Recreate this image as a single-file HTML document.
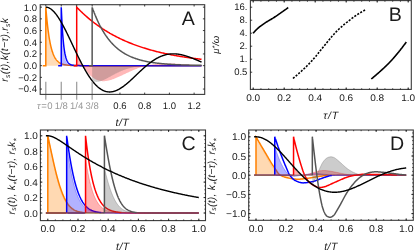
<!DOCTYPE html>
<html><head><meta charset="utf-8"><title>Figure</title>
<style>
html,body{margin:0;padding:0;background:#fff;}
body{width:415px;height:252px;overflow:hidden;}
svg{display:block;will-change:transform;font-family:"Liberation Sans",sans-serif;}
text{text-rendering:geometricPrecision;}
</style></head><body>
<svg width="415" height="252" viewBox="0 0 415 252">
<rect width="415" height="252" fill="#fff"/>
<defs><clipPath id="clipA"><rect x="40.2" y="4.7" width="164.5" height="89.7"/></clipPath><clipPath id="clipC"><rect x="40.4" y="130" width="165.1" height="90.6"/></clipPath><clipPath id="clipD"><rect x="248.7" y="130" width="164.6" height="90.3"/></clipPath></defs>
<g clip-path="url(#clipA)">
<path d="M45.8 65.65 L45.8 7.15 L45.8 7.16 L45.8 7.19 L45.81 7.26 L45.82 7.36 L45.83 7.49 L45.84 7.65 L45.86 7.85 L45.87 8.09 L45.9 8.37 L45.92 8.68 L45.95 9.03 L45.98 9.42 L46.02 9.85 L46.05 10.31 L46.1 10.81 L46.14 11.35 L46.19 11.93 L46.24 12.54 L46.3 13.19 L46.36 13.87 L46.42 14.58 L46.49 15.32 L46.56 16.1 L46.63 16.9 L46.71 17.74 L46.79 18.6 L46.88 19.48 L46.97 20.39 L47.06 21.32 L47.16 22.27 L47.26 23.23 L47.36 24.22 L47.47 25.22 L47.59 26.23 L47.71 27.25 L47.83 28.28 L47.95 29.32 L48.08 30.36 L48.22 31.41 L48.36 32.46 L48.5 33.51 L48.65 34.56 L48.8 35.6 L48.95 36.64 L49.11 37.67 L49.28 38.69 L49.45 39.71 L49.62 40.71 L49.8 41.7 L49.98 42.67 L50.16 43.63 L50.35 44.57 L50.55 45.49 L50.75 46.4 L50.95 47.28 L51.16 48.15 L51.37 48.99 L51.59 49.81 L51.81 50.61 L52.04 51.39 L52.27 52.14 L52.5 52.86 L52.75 53.57 L52.99 54.24 L53.24 54.9 L53.49 55.53 L53.75 56.13 L54.02 56.71 L54.28 57.27 L54.56 57.8 L54.83 58.3 L55.12 58.79 L55.4 59.25 L55.7 59.68 L55.99 60.1 L56.29 60.49 L56.6 60.87 L56.91 61.22 L57.23 61.55 L57.55 61.86 L57.87 62.16 L58.2 62.43 L58.54 62.69 L58.88 62.93 L59.22 63.16 L59.57 63.37 L59.93 63.57 L60.29 63.75 L60.65 63.92 L61.02 64.08 L61.4 64.22 L61.78 64.36 L62.16 64.48 L62.55 64.59 L62.94 64.7 L63.34 64.79 L63.75 64.88 L64.16 64.96 L64.57 65.03 L64.99 65.1 L65.42 65.16 L65.85 65.21 L66.28 65.26 L66.72 65.31 L67.17 65.35 L67.62 65.38 L68.07 65.42 L68.53 65.45 L69 65.47 L69.47 65.49 L69.95 65.52 L70.43 65.53 L70.91 65.55 L71.4 65.56 L71.9 65.58 L72.4 65.59 L72.91 65.6 L73.42 65.6 L73.94 65.61 L74.46 65.62 L74.99 65.62 L75.52 65.63 L76.06 65.63 L76.61 65.64 L77.16 65.64 L77.71 65.64 L78.27 65.64 L78.84 65.64 L79.41 65.65 L79.98 65.65 L80.56 65.65 L81.15 65.65 L81.74 65.65 L82.34 65.65 L82.94 65.65 L83.55 65.65 L84.16 65.65 L84.78 65.65 L85.41 65.65 L86.04 65.65 L86.67 65.65 L87.31 65.65 L87.96 65.65 L88.61 65.65 L89.26 65.65 L89.93 65.65 L90.59 65.65 L91.27 65.65 L91.95 65.65 L92.63 65.65 L93.32 65.65 L94.02 65.65 L94.72 65.65 L95.42 65.65 L96.13 65.65 L96.85 65.65 L97.57 65.65 L98.3 65.65 L99.04 65.65 L99.78 65.65 L100.52 65.65 L101.27 65.65 L102.03 65.65 L102.79 65.65 L103.56 65.65 L104.33 65.65 L105.11 65.65 L105.89 65.65 L106.68 65.65 L107.48 65.65 L108.28 65.65 L109.08 65.65 L109.9 65.65 L110.71 65.65 L111.54 65.65 L112.37 65.65 L113.2 65.65 L114.04 65.65 L114.89 65.65 L115.74 65.65 L116.6 65.65 L117.46 65.65 L118.33 65.65 L119.21 65.65 L120.09 65.65 L120.97 65.65 L121.86 65.65 L122.76 65.65 L123.67 65.65 L124.57 65.65 L125.49 65.65 L126.41 65.65 L127.34 65.65 L128.27 65.65 L129.21 65.65 L130.15 65.65 L131.1 65.65 L132.06 65.65 L133.02 65.65 L133.99 65.65 L134.96 65.65 L135.94 65.65 L136.92 65.65 L137.91 65.65 L138.91 65.65 L139.91 65.65 L140.92 65.65 L141.93 65.65 L142.95 65.65 L143.98 65.65 L145.01 65.65 L146.05 65.65 L147.09 65.65 L148.14 65.65 L149.19 65.65 L150.25 65.65 L151.32 65.65 L152.39 65.65 L153.47 65.65 L154.56 65.65 L155.65 65.65 L156.74 65.65 L157.85 65.65 L158.96 65.65 L160.07 65.65 L161.19 65.65 L162.32 65.65 L163.45 65.65 L164.59 65.65 L165.73 65.65 L166.88 65.65 L168.04 65.65 L169.2 65.65 L170.37 65.65 L171.54 65.65 L172.72 65.65 L173.91 65.65 L175.1 65.65 L176.3 65.65 L177.5 65.65 L178.71 65.65 L179.93 65.65 L181.15 65.65 L182.38 65.65 L183.61 65.65 L184.86 65.65 L186.1 65.65 L187.35 65.65 L188.61 65.65 L189.88 65.65 L191.15 65.65 L192.43 65.65 L193.71 65.65 L195 65.65 L196.29 65.65 L197.59 65.65 L198.9 65.65 L200.22 65.65 L201.54 65.65 L201.54 65.65Z" fill="#ff8000" fill-opacity="0.28" stroke="none"/>
<path d="M42.71 65.65 L45.8 65.65 L45.8 7.15 L45.8 7.16 L45.8 7.19 L45.81 7.26 L45.82 7.36 L45.83 7.49 L45.84 7.65 L45.86 7.85 L45.87 8.09 L45.9 8.36 L45.92 8.68 L45.95 9.03 L45.98 9.42 L46.02 9.84 L46.05 10.31 L46.1 10.81 L46.14 11.34 L46.19 11.92 L46.24 12.53 L46.3 13.17 L46.36 13.85 L46.42 14.55 L46.49 15.29 L46.56 16.06 L46.63 16.86 L46.71 17.69 L46.79 18.54 L46.88 19.41 L46.97 20.31 L47.06 21.23 L47.16 22.16 L47.26 23.12 L47.36 24.09 L47.47 25.07 L47.59 26.07 L47.71 27.07 L47.83 28.08 L47.95 29.1 L48.08 30.13 L48.22 31.16 L48.36 32.18 L48.5 33.21 L48.65 34.24 L48.8 35.26 L48.95 36.27 L49.11 37.28 L49.28 38.28 L49.45 39.27 L49.62 40.24 L49.8 41.21 L49.98 42.16 L50.16 43.1 L50.35 44.01 L50.55 44.92 L50.75 45.8 L50.95 46.66 L51.16 47.51 L51.37 48.33 L51.59 49.14 L51.81 49.92 L52.04 50.68 L52.27 51.41 L52.5 52.13 L52.75 52.82 L52.99 53.49 L53.24 54.13 L53.49 54.75 L53.75 55.35 L54.02 55.93 L54.28 56.48 L54.56 57.01 L54.83 57.52 L55.12 58.01 L55.4 58.47 L55.7 58.91 L55.99 59.34 L56.29 59.74 L56.6 60.12 L56.91 60.48 L57.23 60.83 L57.55 61.16 L57.87 61.46 L58.2 61.76 L58.54 62.03 L58.88 62.29 L59.22 62.53 L59.57 62.76 L59.93 62.98 L60.29 63.18 L60.65 63.37 L61.02 63.55 L61.4 63.71 L61.78 63.87 L62.16 64.01 L62.55 64.14 L62.94 64.27 L63.34 64.38 L63.75 64.49 L64.16 64.59 L64.57 64.68 L64.99 64.77 L65.42 64.84 L65.85 64.92 L66.28 64.98 L66.72 65.04 L67.17 65.1 L67.62 65.15 L68.07 65.2 L68.53 65.24 L69 65.28 L69.47 65.32 L69.95 65.35 L70.43 65.38 L70.91 65.41 L71.4 65.43 L71.9 65.45 L72.4 65.47 L72.91 65.49 L73.42 65.51 L73.94 65.52 L74.46 65.54 L74.99 65.55 L75.52 65.56 L76.06 65.57 L76.61 65.58 L77.16 65.59 L77.71 65.6 L78.27 65.6 L78.84 65.61 L79.41 65.61 L79.98 65.62 L80.56 65.62 L81.15 65.62 L81.74 65.63 L82.34 65.63 L82.94 65.63 L83.55 65.63 L84.16 65.64 L84.78 65.64 L85.41 65.64 L86.04 65.64 L86.67 65.64 L87.31 65.64 L87.96 65.64 L88.61 65.64 L89.26 65.65 L89.93 65.65 L90.59 65.65 L91.27 65.65 L91.95 65.65 L92.63 65.65 L93.32 65.65 L94.02 65.65 L94.72 65.65 L95.42 65.65 L96.13 65.65 L96.85 65.65 L97.57 65.65 L98.3 65.65 L99.04 65.65 L99.78 65.65 L100.52 65.65 L101.27 65.65 L102.03 65.65 L102.79 65.65 L103.56 65.65 L104.33 65.65 L105.11 65.65 L105.89 65.65 L106.68 65.65 L107.48 65.65 L108.28 65.65 L109.08 65.65 L109.9 65.65 L110.71 65.65 L111.54 65.65 L112.37 65.65 L113.2 65.65 L114.04 65.65 L114.89 65.65 L115.74 65.65 L116.6 65.65 L117.46 65.65 L118.33 65.65 L119.21 65.65 L120.09 65.65 L120.97 65.65 L121.86 65.65 L122.76 65.65 L123.67 65.65 L124.57 65.65 L125.49 65.65 L126.41 65.65 L127.34 65.65 L128.27 65.65 L129.21 65.65 L130.15 65.65 L131.1 65.65 L132.06 65.65 L133.02 65.65 L133.99 65.65 L134.96 65.65 L135.94 65.65 L136.92 65.65 L137.91 65.65 L138.91 65.65 L139.91 65.65 L140.92 65.65 L141.93 65.65 L142.95 65.65 L143.98 65.65 L145.01 65.65 L146.05 65.65 L147.09 65.65 L148.14 65.65 L149.19 65.65 L150.25 65.65 L151.32 65.65 L152.39 65.65 L153.47 65.65 L154.56 65.65 L155.65 65.65 L156.74 65.65 L157.85 65.65 L158.96 65.65 L160.07 65.65 L161.19 65.65 L162.32 65.65 L163.45 65.65 L164.59 65.65 L165.73 65.65 L166.88 65.65 L168.04 65.65 L169.2 65.65 L170.37 65.65 L171.54 65.65 L172.72 65.65 L173.91 65.65 L175.1 65.65 L176.3 65.65 L177.5 65.65 L178.71 65.65 L179.93 65.65 L181.15 65.65 L182.38 65.65 L183.61 65.65 L184.86 65.65 L186.1 65.65 L187.35 65.65 L188.61 65.65 L189.88 65.65 L191.15 65.65 L192.43 65.65 L193.71 65.65 L195 65.65 L196.29 65.65 L197.59 65.65 L198.9 65.65 L200.22 65.65 L201.54 65.65" fill="none" stroke="#ff8000" stroke-width="1.5" stroke-linejoin="miter"/>
<path d="M61.25 65.65 L61.25 22.3 L61.25 22.31 L61.25 22.36 L61.26 22.45 L61.26 22.59 L61.27 22.78 L61.29 23.01 L61.3 23.3 L61.32 23.63 L61.34 24.02 L61.36 24.46 L61.38 24.95 L61.41 25.49 L61.44 26.07 L61.48 26.71 L61.52 27.39 L61.56 28.11 L61.6 28.88 L61.65 29.68 L61.7 30.52 L61.75 31.39 L61.81 32.3 L61.87 33.23 L61.93 34.18 L62 35.16 L62.07 36.15 L62.14 37.16 L62.22 38.18 L62.3 39.21 L62.39 40.25 L62.47 41.28 L62.56 42.31 L62.66 43.34 L62.76 44.36 L62.86 45.37 L62.97 46.36 L63.08 47.34 L63.19 48.31 L63.31 49.25 L63.43 50.17 L63.55 51.06 L63.68 51.93 L63.81 52.77 L63.95 53.58 L64.09 54.36 L64.23 55.12 L64.38 55.84 L64.53 56.53 L64.69 57.19 L64.85 57.81 L65.01 58.41 L65.18 58.97 L65.35 59.5 L65.53 60 L65.71 60.47 L65.89 60.92 L66.08 61.33 L66.27 61.71 L66.47 62.07 L66.67 62.41 L66.87 62.72 L67.08 63 L67.29 63.26 L67.51 63.51 L67.73 63.73 L67.95 63.93 L68.18 64.12 L68.41 64.28 L68.65 64.44 L68.89 64.57 L69.14 64.7 L69.39 64.81 L69.64 64.91 L69.9 65 L70.16 65.09 L70.43 65.16 L70.7 65.22 L70.98 65.28 L71.26 65.33 L71.54 65.37 L71.83 65.41 L72.12 65.45 L72.42 65.48 L72.72 65.5 L73.03 65.52 L73.34 65.54 L73.66 65.56 L73.98 65.57 L74.3 65.59 L74.63 65.6 L74.96 65.61 L75.3 65.61 L75.64 65.62 L75.99 65.63 L76.34 65.63 L76.69 65.63 L77.05 65.64 L77.42 65.64 L77.79 65.64 L78.16 65.64 L78.54 65.65 L78.92 65.65 L79.31 65.65 L79.7 65.65 L80.1 65.65 L80.5 65.65 L80.9 65.65 L81.31 65.65 L81.73 65.65 L82.15 65.65 L82.57 65.65 L83 65.65 L83.43 65.65 L83.87 65.65 L84.31 65.65 L84.76 65.65 L85.21 65.65 L85.67 65.65 L86.13 65.65 L86.6 65.65 L87.07 65.65 L87.55 65.65 L88.03 65.65 L88.51 65.65 L89 65.65 L89.5 65.65 L90 65.65 L90.5 65.65 L91.01 65.65 L91.52 65.65 L92.04 65.65 L92.56 65.65 L93.09 65.65 L93.63 65.65 L94.16 65.65 L94.71 65.65 L95.25 65.65 L95.81 65.65 L96.36 65.65 L96.93 65.65 L97.49 65.65 L98.07 65.65 L98.64 65.65 L99.22 65.65 L99.81 65.65 L100.4 65.65 L101 65.65 L101.6 65.65 L102.21 65.65 L102.82 65.65 L103.43 65.65 L104.06 65.65 L104.68 65.65 L105.31 65.65 L105.95 65.65 L106.59 65.65 L107.24 65.65 L107.89 65.65 L108.54 65.65 L109.2 65.65 L109.87 65.65 L110.54 65.65 L111.22 65.65 L111.9 65.65 L112.58 65.65 L113.28 65.65 L113.97 65.65 L114.67 65.65 L115.38 65.65 L116.09 65.65 L116.81 65.65 L117.53 65.65 L118.26 65.65 L118.99 65.65 L119.72 65.65 L120.47 65.65 L121.21 65.65 L121.97 65.65 L122.72 65.65 L123.48 65.65 L124.25 65.65 L125.02 65.65 L125.8 65.65 L126.59 65.65 L127.37 65.65 L128.17 65.65 L128.96 65.65 L129.77 65.65 L130.58 65.65 L131.39 65.65 L132.21 65.65 L133.03 65.65 L133.86 65.65 L134.7 65.65 L135.54 65.65 L136.38 65.65 L137.23 65.65 L138.09 65.65 L138.95 65.65 L139.82 65.65 L140.69 65.65 L141.56 65.65 L142.44 65.65 L143.33 65.65 L144.22 65.65 L145.12 65.65 L146.02 65.65 L146.93 65.65 L147.85 65.65 L148.76 65.65 L149.69 65.65 L150.62 65.65 L151.55 65.65 L152.49 65.65 L153.44 65.65 L154.39 65.65 L155.34 65.65 L156.3 65.65 L157.27 65.65 L158.24 65.65 L159.22 65.65 L160.2 65.65 L161.19 65.65 L162.18 65.65 L163.18 65.65 L164.18 65.65 L165.19 65.65 L166.21 65.65 L167.23 65.65 L168.25 65.65 L169.28 65.65 L170.32 65.65 L171.36 65.65 L172.41 65.65 L173.46 65.65 L174.52 65.65 L175.58 65.65 L176.65 65.65 L177.72 65.65 L178.8 65.65 L179.89 65.65 L180.98 65.65 L182.07 65.65 L183.17 65.65 L184.28 65.65 L185.39 65.65 L186.51 65.65 L187.63 65.65 L188.76 65.65 L189.9 65.65 L191.03 65.65 L192.18 65.65 L193.33 65.65 L194.49 65.65 L195.65 65.65 L196.81 65.65 L197.99 65.65 L199.16 65.65 L200.35 65.65 L201.54 65.65 L201.54 65.65Z" fill="#0000ff" fill-opacity="0.28" stroke="none"/>
<path d="M58.16 65.65 L61.25 65.65 L61.25 7.15 L61.25 7.17 L61.25 7.23 L61.26 7.34 L61.26 7.51 L61.27 7.74 L61.29 8.03 L61.3 8.39 L61.32 8.8 L61.34 9.28 L61.36 9.82 L61.38 10.43 L61.41 11.1 L61.44 11.83 L61.48 12.61 L61.52 13.46 L61.56 14.36 L61.6 15.31 L61.65 16.32 L61.7 17.37 L61.75 18.46 L61.81 19.6 L61.87 20.77 L61.93 21.98 L62 23.21 L62.07 24.47 L62.14 25.76 L62.22 27.06 L62.3 28.37 L62.39 29.69 L62.47 31.02 L62.56 32.36 L62.66 33.69 L62.76 35.01 L62.86 36.33 L62.97 37.63 L63.08 38.92 L63.19 40.19 L63.31 41.44 L63.43 42.66 L63.55 43.86 L63.68 45.03 L63.81 46.17 L63.95 47.27 L64.09 48.34 L64.23 49.38 L64.38 50.38 L64.53 51.34 L64.69 52.26 L64.85 53.15 L65.01 54 L65.18 54.8 L65.35 55.57 L65.53 56.3 L65.71 57 L65.89 57.65 L66.08 58.27 L66.27 58.85 L66.47 59.4 L66.67 59.91 L66.87 60.39 L67.08 60.84 L67.29 61.26 L67.51 61.65 L67.73 62.01 L67.95 62.34 L68.18 62.65 L68.41 62.94 L68.65 63.2 L68.89 63.44 L69.14 63.66 L69.39 63.87 L69.64 64.05 L69.9 64.22 L70.16 64.37 L70.43 64.51 L70.7 64.63 L70.98 64.75 L71.26 64.85 L71.54 64.94 L71.83 65.02 L72.12 65.1 L72.42 65.16 L72.72 65.22 L73.03 65.28 L73.34 65.32 L73.66 65.36 L73.98 65.4 L74.3 65.43 L74.63 65.46 L74.96 65.49 L75.3 65.51 L75.64 65.53 L75.99 65.54 L76.34 65.56 L76.69 65.57 L77.05 65.58 L77.42 65.59 L77.79 65.6 L78.16 65.61 L78.54 65.61 L78.92 65.62 L79.31 65.62 L79.7 65.63 L80.1 65.63 L80.5 65.63 L80.9 65.64 L81.31 65.64 L81.73 65.64 L82.15 65.64 L82.57 65.64 L83 65.64 L83.43 65.65 L83.87 65.65 L84.31 65.65 L84.76 65.65 L85.21 65.65 L85.67 65.65 L86.13 65.65 L86.6 65.65 L87.07 65.65 L87.55 65.65 L88.03 65.65 L88.51 65.65 L89 65.65 L89.5 65.65 L90 65.65 L90.5 65.65 L91.01 65.65 L91.52 65.65 L92.04 65.65 L92.56 65.65 L93.09 65.65 L93.63 65.65 L94.16 65.65 L94.71 65.65 L95.25 65.65 L95.81 65.65 L96.36 65.65 L96.93 65.65 L97.49 65.65 L98.07 65.65 L98.64 65.65 L99.22 65.65 L99.81 65.65 L100.4 65.65 L101 65.65 L101.6 65.65 L102.21 65.65 L102.82 65.65 L103.43 65.65 L104.06 65.65 L104.68 65.65 L105.31 65.65 L105.95 65.65 L106.59 65.65 L107.24 65.65 L107.89 65.65 L108.54 65.65 L109.2 65.65 L109.87 65.65 L110.54 65.65 L111.22 65.65 L111.9 65.65 L112.58 65.65 L113.28 65.65 L113.97 65.65 L114.67 65.65 L115.38 65.65 L116.09 65.65 L116.81 65.65 L117.53 65.65 L118.26 65.65 L118.99 65.65 L119.72 65.65 L120.47 65.65 L121.21 65.65 L121.97 65.65 L122.72 65.65 L123.48 65.65 L124.25 65.65 L125.02 65.65 L125.8 65.65 L126.59 65.65 L127.37 65.65 L128.17 65.65 L128.96 65.65 L129.77 65.65 L130.58 65.65 L131.39 65.65 L132.21 65.65 L133.03 65.65 L133.86 65.65 L134.7 65.65 L135.54 65.65 L136.38 65.65 L137.23 65.65 L138.09 65.65 L138.95 65.65 L139.82 65.65 L140.69 65.65 L141.56 65.65 L142.44 65.65 L143.33 65.65 L144.22 65.65 L145.12 65.65 L146.02 65.65 L146.93 65.65 L147.85 65.65 L148.76 65.65 L149.69 65.65 L150.62 65.65 L151.55 65.65 L152.49 65.65 L153.44 65.65 L154.39 65.65 L155.34 65.65 L156.3 65.65 L157.27 65.65 L158.24 65.65 L159.22 65.65 L160.2 65.65 L161.19 65.65 L162.18 65.65 L163.18 65.65 L164.18 65.65 L165.19 65.65 L166.21 65.65 L167.23 65.65 L168.25 65.65 L169.28 65.65 L170.32 65.65 L171.36 65.65 L172.41 65.65 L173.46 65.65 L174.52 65.65 L175.58 65.65 L176.65 65.65 L177.72 65.65 L178.8 65.65 L179.89 65.65 L180.98 65.65 L182.07 65.65 L183.17 65.65 L184.28 65.65 L185.39 65.65 L186.51 65.65 L187.63 65.65 L188.76 65.65 L189.9 65.65 L191.03 65.65 L192.18 65.65 L193.33 65.65 L194.49 65.65 L195.65 65.65 L196.81 65.65 L197.99 65.65 L199.16 65.65 L200.35 65.65 L201.54 65.65" fill="none" stroke="#0000ff" stroke-width="1.5" stroke-linejoin="miter"/>
<path d="M76.7 65.65 L76.7 53.64 L76.7 53.64 L76.7 53.65 L76.71 53.65 L76.71 53.67 L76.72 53.69 L76.73 53.71 L76.74 53.74 L76.76 53.77 L76.78 53.82 L76.8 53.86 L76.82 53.91 L76.84 53.97 L76.87 54.03 L76.9 54.1 L76.94 54.18 L76.97 54.26 L77.01 54.35 L77.05 54.44 L77.1 54.55 L77.15 54.65 L77.2 54.77 L77.25 54.89 L77.31 55.01 L77.37 55.15 L77.43 55.28 L77.49 55.43 L77.56 55.58 L77.64 55.74 L77.71 55.91 L77.79 56.08 L77.87 56.25 L77.95 56.44 L78.04 56.63 L78.13 56.83 L78.23 57.03 L78.33 57.24 L78.43 57.45 L78.53 57.67 L78.64 57.9 L78.75 58.13 L78.86 58.37 L78.98 58.61 L79.1 58.86 L79.23 59.12 L79.36 59.38 L79.49 59.64 L79.62 59.92 L79.76 60.19 L79.9 60.47 L80.05 60.76 L80.2 61.05 L80.35 61.34 L80.51 61.64 L80.67 61.95 L80.83 62.25 L81 62.57 L81.17 62.88 L81.34 63.2 L81.52 63.52 L81.7 63.85 L81.89 64.18 L82.07 64.51 L82.27 64.85 L82.46 65.18 L82.66 65.52 L82.87 65.87 L83.07 66.21 L83.29 66.55 L83.5 66.9 L83.72 67.25 L83.94 67.6 L84.17 67.95 L84.4 68.3 L84.63 68.65 L84.87 69 L85.11 69.35 L85.36 69.7 L85.61 70.05 L85.86 70.4 L86.12 70.75 L86.38 71.1 L86.64 71.44 L86.91 71.79 L87.18 72.13 L87.46 72.47 L87.74 72.8 L88.02 73.13 L88.31 73.46 L88.61 73.79 L88.9 74.11 L89.2 74.43 L89.51 74.74 L89.81 75.05 L90.13 75.36 L90.44 75.66 L90.76 75.95 L91.09 76.24 L91.42 76.52 L91.75 76.8 L92.08 77.07 L92.42 77.33 L92.77 77.59 L93.12 77.84 L93.47 78.08 L93.83 78.31 L94.19 78.54 L94.55 78.76 L94.92 78.97 L95.3 79.17 L95.67 79.36 L96.05 79.54 L96.44 79.72 L96.83 79.88 L97.22 80.04 L97.62 80.19 L98.02 80.32 L98.43 80.45 L98.84 80.57 L99.26 80.67 L99.68 80.77 L100.1 80.86 L100.53 80.93 L100.96 81 L101.39 81.05 L101.84 81.09 L102.28 81.13 L102.73 81.15 L103.18 81.16 L103.64 81.16 L104.1 81.15 L104.57 81.13 L105.04 81.1 L105.51 81.05 L105.99 81 L106.47 80.93 L106.96 80.86 L107.45 80.77 L107.95 80.68 L108.45 80.57 L108.95 80.45 L109.46 80.33 L109.97 80.19 L110.49 80.04 L111.01 79.89 L111.54 79.72 L112.07 79.55 L112.61 79.37 L113.15 79.17 L113.69 78.97 L114.24 78.77 L114.79 78.55 L115.35 78.33 L115.91 78.09 L116.48 77.86 L117.05 77.61 L117.62 77.36 L118.2 77.1 L118.78 76.84 L119.37 76.57 L119.97 76.3 L120.56 76.02 L121.16 75.73 L121.77 75.45 L122.38 75.16 L123 74.86 L123.62 74.57 L124.24 74.27 L124.87 73.97 L125.5 73.66 L126.14 73.36 L126.78 73.05 L127.43 72.75 L128.08 72.44 L128.73 72.14 L129.39 71.83 L130.06 71.53 L130.73 71.23 L131.4 70.93 L132.08 70.63 L132.76 70.33 L133.45 70.04 L134.14 69.75 L134.84 69.47 L135.54 69.18 L136.25 68.91 L136.96 68.63 L137.67 68.36 L138.39 68.1 L139.12 67.84 L139.84 67.59 L140.58 67.35 L141.32 67.11 L142.06 66.87 L142.81 66.65 L143.56 66.43 L144.32 66.22 L145.08 66.01 L145.84 65.81 L146.61 65.62 L147.39 65.44 L148.17 65.27 L148.95 65.1 L149.74 64.94 L150.54 64.79 L151.33 64.65 L152.14 64.51 L152.95 64.38 L153.76 64.27 L154.58 64.15 L155.4 64.05 L156.22 63.96 L157.06 63.87 L157.89 63.79 L158.73 63.72 L159.58 63.66 L160.43 63.6 L161.28 63.55 L162.14 63.51 L163.01 63.48 L163.88 63.45 L164.75 63.43 L165.63 63.42 L166.52 63.41 L167.4 63.41 L168.3 63.41 L169.2 63.42 L170.1 63.44 L171.01 63.46 L171.92 63.48 L172.84 63.52 L173.76 63.55 L174.68 63.59 L175.62 63.63 L176.55 63.68 L177.49 63.73 L178.44 63.78 L179.39 63.84 L180.35 63.89 L181.31 63.95 L182.27 64.02 L183.24 64.08 L184.22 64.14 L185.2 64.21 L186.18 64.28 L187.17 64.35 L188.16 64.42 L189.16 64.49 L190.17 64.55 L191.18 64.62 L192.19 64.69 L193.21 64.76 L194.23 64.83 L195.26 64.89 L196.3 64.96 L197.33 65.02 L198.38 65.09 L199.43 65.15 L200.48 65.21 L201.54 65.26 L201.54 65.65Z" fill="#ff0000" fill-opacity="0.28" stroke="none"/>
<path d="M73.61 65.65 L76.7 65.65 L76.7 7.15 L76.7 7.15 L76.7 7.15 L76.71 7.16 L76.71 7.16 L76.72 7.17 L76.73 7.18 L76.74 7.2 L76.76 7.21 L76.78 7.23 L76.8 7.25 L76.82 7.27 L76.84 7.3 L76.87 7.33 L76.9 7.36 L76.94 7.4 L76.97 7.43 L77.01 7.47 L77.05 7.52 L77.1 7.56 L77.15 7.61 L77.2 7.66 L77.25 7.72 L77.31 7.78 L77.37 7.84 L77.43 7.9 L77.49 7.97 L77.56 8.04 L77.64 8.12 L77.71 8.19 L77.79 8.27 L77.87 8.36 L77.95 8.44 L78.04 8.53 L78.13 8.62 L78.23 8.72 L78.33 8.82 L78.43 8.92 L78.53 9.03 L78.64 9.13 L78.75 9.25 L78.86 9.36 L78.98 9.48 L79.1 9.6 L79.23 9.72 L79.36 9.85 L79.49 9.98 L79.62 10.11 L79.76 10.25 L79.9 10.39 L80.05 10.53 L80.2 10.68 L80.35 10.83 L80.51 10.98 L80.67 11.14 L80.83 11.3 L81 11.46 L81.17 11.62 L81.34 11.79 L81.52 11.96 L81.7 12.13 L81.89 12.31 L82.07 12.49 L82.27 12.67 L82.46 12.85 L82.66 13.04 L82.87 13.23 L83.07 13.42 L83.29 13.62 L83.5 13.82 L83.72 14.02 L83.94 14.22 L84.17 14.43 L84.4 14.64 L84.63 14.85 L84.87 15.07 L85.11 15.28 L85.36 15.5 L85.61 15.73 L85.86 15.95 L86.12 16.18 L86.38 16.41 L86.64 16.64 L86.91 16.87 L87.18 17.11 L87.46 17.35 L87.74 17.59 L88.02 17.83 L88.31 18.07 L88.61 18.32 L88.9 18.57 L89.2 18.82 L89.51 19.07 L89.81 19.33 L90.13 19.59 L90.44 19.84 L90.76 20.1 L91.09 20.37 L91.42 20.63 L91.75 20.9 L92.08 21.16 L92.42 21.43 L92.77 21.7 L93.12 21.97 L93.47 22.25 L93.83 22.52 L94.19 22.8 L94.55 23.08 L94.92 23.35 L95.3 23.63 L95.67 23.92 L96.05 24.2 L96.44 24.48 L96.83 24.77 L97.22 25.05 L97.62 25.34 L98.02 25.63 L98.43 25.92 L98.84 26.2 L99.26 26.5 L99.68 26.79 L100.1 27.08 L100.53 27.37 L100.96 27.66 L101.39 27.96 L101.84 28.25 L102.28 28.55 L102.73 28.84 L103.18 29.14 L103.64 29.43 L104.1 29.73 L104.57 30.03 L105.04 30.32 L105.51 30.62 L105.99 30.92 L106.47 31.21 L106.96 31.51 L107.45 31.81 L107.95 32.11 L108.45 32.4 L108.95 32.7 L109.46 33 L109.97 33.3 L110.49 33.59 L111.01 33.89 L111.54 34.18 L112.07 34.48 L112.61 34.78 L113.15 35.07 L113.69 35.37 L114.24 35.66 L114.79 35.95 L115.35 36.25 L115.91 36.54 L116.48 36.83 L117.05 37.12 L117.62 37.41 L118.2 37.7 L118.78 37.99 L119.37 38.28 L119.97 38.57 L120.56 38.85 L121.16 39.14 L121.77 39.42 L122.38 39.71 L123 39.99 L123.62 40.27 L124.24 40.55 L124.87 40.83 L125.5 41.11 L126.14 41.38 L126.78 41.66 L127.43 41.93 L128.08 42.21 L128.73 42.48 L129.39 42.75 L130.06 43.02 L130.73 43.29 L131.4 43.55 L132.08 43.82 L132.76 44.08 L133.45 44.35 L134.14 44.61 L134.84 44.87 L135.54 45.12 L136.25 45.38 L136.96 45.63 L137.67 45.89 L138.39 46.14 L139.12 46.39 L139.84 46.64 L140.58 46.88 L141.32 47.13 L142.06 47.37 L142.81 47.61 L143.56 47.85 L144.32 48.09 L145.08 48.33 L145.84 48.56 L146.61 48.8 L147.39 49.03 L148.17 49.26 L148.95 49.48 L149.74 49.71 L150.54 49.93 L151.33 50.15 L152.14 50.37 L152.95 50.59 L153.76 50.81 L154.58 51.02 L155.4 51.24 L156.22 51.45 L157.06 51.65 L157.89 51.86 L158.73 52.07 L159.58 52.27 L160.43 52.47 L161.28 52.67 L162.14 52.87 L163.01 53.06 L163.88 53.25 L164.75 53.45 L165.63 53.64 L166.52 53.82 L167.4 54.01 L168.3 54.19 L169.2 54.37 L170.1 54.55 L171.01 54.73 L171.92 54.91 L172.84 55.08 L173.76 55.25 L174.68 55.42 L175.62 55.59 L176.55 55.76 L177.49 55.92 L178.44 56.08 L179.39 56.25 L180.35 56.4 L181.31 56.56 L182.27 56.72 L183.24 56.87 L184.22 57.02 L185.2 57.17 L186.18 57.32 L187.17 57.46 L188.16 57.61 L189.16 57.75 L190.17 57.89 L191.18 58.03 L192.19 58.16 L193.21 58.3 L194.23 58.43 L195.26 58.56 L196.3 58.69 L197.33 58.82 L198.38 58.94 L199.43 59.07 L200.48 59.19 L201.54 59.31" fill="none" stroke="#ff0000" stroke-width="1.5" stroke-linejoin="miter"/>
<path d="M92.15 65.65 L92.15 80.75 L92.15 80.75 L92.15 80.75 L92.16 80.75 L92.16 80.76 L92.17 80.76 L92.18 80.76 L92.19 80.77 L92.2 80.78 L92.22 80.79 L92.24 80.8 L92.25 80.81 L92.28 80.82 L92.3 80.83 L92.33 80.85 L92.36 80.86 L92.39 80.88 L92.42 80.9 L92.46 80.92 L92.5 80.94 L92.54 80.96 L92.59 80.98 L92.63 81 L92.68 81.03 L92.73 81.05 L92.79 81.08 L92.85 81.1 L92.91 81.13 L92.97 81.16 L93.04 81.19 L93.1 81.22 L93.17 81.25 L93.25 81.28 L93.33 81.31 L93.41 81.34 L93.49 81.37 L93.57 81.4 L93.66 81.43 L93.75 81.46 L93.85 81.49 L93.95 81.52 L94.05 81.55 L94.15 81.58 L94.26 81.6 L94.36 81.63 L94.48 81.66 L94.59 81.68 L94.71 81.71 L94.83 81.73 L94.96 81.75 L95.08 81.78 L95.21 81.79 L95.35 81.81 L95.49 81.83 L95.63 81.84 L95.77 81.86 L95.91 81.87 L96.06 81.87 L96.22 81.88 L96.37 81.88 L96.53 81.88 L96.69 81.88 L96.86 81.88 L97.03 81.87 L97.2 81.86 L97.38 81.85 L97.55 81.83 L97.74 81.81 L97.92 81.79 L98.11 81.76 L98.3 81.74 L98.5 81.7 L98.69 81.67 L98.9 81.63 L99.1 81.58 L99.31 81.54 L99.52 81.48 L99.74 81.43 L99.95 81.37 L100.18 81.31 L100.4 81.24 L100.63 81.17 L100.86 81.09 L101.1 81.01 L101.34 80.93 L101.58 80.84 L101.82 80.75 L102.07 80.66 L102.33 80.56 L102.58 80.45 L102.84 80.34 L103.1 80.23 L103.37 80.11 L103.64 79.99 L103.91 79.87 L104.19 79.74 L104.47 79.61 L104.76 79.47 L105.04 79.33 L105.34 79.18 L105.63 79.04 L105.93 78.89 L106.23 78.73 L106.54 78.57 L106.85 78.41 L107.16 78.24 L107.47 78.08 L107.79 77.9 L108.12 77.73 L108.44 77.55 L108.78 77.37 L109.11 77.19 L109.45 77.01 L109.79 76.82 L110.13 76.63 L110.48 76.44 L110.84 76.24 L111.19 76.05 L111.55 75.85 L111.92 75.65 L112.28 75.45 L112.65 75.25 L113.03 75.05 L113.41 74.85 L113.79 74.64 L114.17 74.44 L114.56 74.24 L114.96 74.03 L115.35 73.83 L115.75 73.62 L116.16 73.42 L116.57 73.21 L116.98 73.01 L117.4 72.8 L117.81 72.6 L118.24 72.4 L118.66 72.2 L119.1 72 L119.53 71.8 L119.97 71.61 L120.41 71.41 L120.86 71.22 L121.31 71.03 L121.76 70.84 L122.22 70.66 L122.68 70.47 L123.14 70.29 L123.61 70.11 L124.09 69.94 L124.56 69.76 L125.04 69.59 L125.53 69.42 L126.02 69.26 L126.51 69.1 L127 68.94 L127.5 68.79 L128.01 68.63 L128.51 68.49 L129.03 68.34 L129.54 68.2 L130.06 68.06 L130.58 67.93 L131.11 67.8 L131.64 67.67 L132.18 67.55 L132.72 67.43 L133.26 67.31 L133.81 67.2 L134.36 67.09 L134.91 66.99 L135.47 66.89 L136.03 66.79 L136.6 66.7 L137.17 66.61 L137.74 66.52 L138.32 66.44 L138.91 66.36 L139.49 66.28 L140.08 66.21 L140.68 66.14 L141.27 66.08 L141.88 66.02 L142.48 65.96 L143.09 65.9 L143.71 65.85 L144.33 65.8 L144.95 65.75 L145.58 65.71 L146.21 65.67 L146.84 65.63 L147.48 65.59 L148.12 65.56 L148.77 65.53 L149.42 65.5 L150.08 65.48 L150.73 65.45 L151.4 65.43 L152.06 65.41 L152.74 65.4 L153.41 65.38 L154.09 65.37 L154.77 65.36 L155.46 65.35 L156.15 65.34 L156.85 65.33 L157.55 65.33 L158.25 65.32 L158.96 65.32 L159.67 65.32 L160.39 65.32 L161.11 65.32 L161.83 65.32 L162.56 65.32 L163.29 65.33 L164.03 65.33 L164.77 65.34 L165.52 65.34 L166.27 65.35 L167.02 65.35 L167.78 65.36 L168.54 65.37 L169.31 65.38 L170.08 65.38 L170.85 65.39 L171.63 65.4 L172.41 65.41 L173.2 65.42 L173.99 65.43 L174.78 65.44 L175.58 65.45 L176.39 65.45 L177.19 65.46 L178.01 65.47 L178.82 65.48 L179.64 65.49 L180.47 65.5 L181.3 65.51 L182.13 65.51 L182.97 65.52 L183.81 65.53 L184.66 65.54 L185.51 65.54 L186.36 65.55 L187.22 65.56 L188.08 65.56 L188.95 65.57 L189.82 65.58 L190.7 65.58 L191.58 65.59 L192.46 65.59 L193.35 65.6 L194.24 65.6 L195.14 65.61 L196.04 65.61 L196.94 65.62 L197.85 65.62 L198.77 65.62 L199.69 65.63 L200.61 65.63 L201.54 65.63 L201.54 65.65Z" fill="#555555" fill-opacity="0.28" stroke="none"/>
<path d="M89.06 65.65 L92.15 65.65 L92.15 7.15 L92.15 7.15 L92.15 7.16 L92.16 7.17 L92.16 7.18 L92.17 7.2 L92.18 7.23 L92.19 7.26 L92.2 7.3 L92.22 7.34 L92.24 7.39 L92.25 7.45 L92.28 7.51 L92.3 7.58 L92.33 7.65 L92.36 7.74 L92.39 7.83 L92.42 7.92 L92.46 8.02 L92.5 8.13 L92.54 8.25 L92.59 8.37 L92.63 8.5 L92.68 8.64 L92.73 8.78 L92.79 8.94 L92.85 9.09 L92.91 9.26 L92.97 9.43 L93.04 9.61 L93.1 9.8 L93.17 9.99 L93.25 10.19 L93.33 10.4 L93.41 10.61 L93.49 10.83 L93.57 11.06 L93.66 11.29 L93.75 11.53 L93.85 11.78 L93.95 12.03 L94.05 12.29 L94.15 12.56 L94.26 12.83 L94.36 13.11 L94.48 13.4 L94.59 13.69 L94.71 13.99 L94.83 14.29 L94.96 14.6 L95.08 14.92 L95.21 15.24 L95.35 15.56 L95.49 15.89 L95.63 16.23 L95.77 16.57 L95.91 16.92 L96.06 17.27 L96.22 17.63 L96.37 17.99 L96.53 18.36 L96.69 18.73 L96.86 19.11 L97.03 19.48 L97.2 19.87 L97.38 20.26 L97.55 20.65 L97.74 21.04 L97.92 21.44 L98.11 21.84 L98.3 22.25 L98.5 22.66 L98.69 23.07 L98.9 23.49 L99.1 23.9 L99.31 24.32 L99.52 24.75 L99.74 25.17 L99.95 25.6 L100.18 26.03 L100.4 26.46 L100.63 26.89 L100.86 27.32 L101.1 27.76 L101.34 28.2 L101.58 28.63 L101.82 29.07 L102.07 29.51 L102.33 29.95 L102.58 30.39 L102.84 30.84 L103.1 31.28 L103.37 31.72 L103.64 32.16 L103.91 32.6 L104.19 33.04 L104.47 33.49 L104.76 33.93 L105.04 34.37 L105.34 34.81 L105.63 35.24 L105.93 35.68 L106.23 36.12 L106.54 36.55 L106.85 36.99 L107.16 37.42 L107.47 37.85 L107.79 38.28 L108.12 38.7 L108.44 39.13 L108.78 39.55 L109.11 39.97 L109.45 40.39 L109.79 40.8 L110.13 41.22 L110.48 41.63 L110.84 42.03 L111.19 42.44 L111.55 42.84 L111.92 43.24 L112.28 43.64 L112.65 44.03 L113.03 44.42 L113.41 44.8 L113.79 45.19 L114.17 45.57 L114.56 45.94 L114.96 46.32 L115.35 46.68 L115.75 47.05 L116.16 47.41 L116.57 47.77 L116.98 48.12 L117.4 48.47 L117.81 48.82 L118.24 49.16 L118.66 49.5 L119.1 49.83 L119.53 50.16 L119.97 50.49 L120.41 50.81 L120.86 51.13 L121.31 51.44 L121.76 51.75 L122.22 52.06 L122.68 52.36 L123.14 52.66 L123.61 52.95 L124.09 53.24 L124.56 53.52 L125.04 53.8 L125.53 54.08 L126.02 54.35 L126.51 54.61 L127 54.88 L127.5 55.13 L128.01 55.39 L128.51 55.64 L129.03 55.88 L129.54 56.13 L130.06 56.36 L130.58 56.6 L131.11 56.82 L131.64 57.05 L132.18 57.27 L132.72 57.49 L133.26 57.7 L133.81 57.91 L134.36 58.11 L134.91 58.31 L135.47 58.51 L136.03 58.7 L136.6 58.89 L137.17 59.07 L137.74 59.25 L138.32 59.43 L138.91 59.6 L139.49 59.77 L140.08 59.94 L140.68 60.1 L141.27 60.26 L141.88 60.42 L142.48 60.57 L143.09 60.72 L143.71 60.86 L144.33 61 L144.95 61.14 L145.58 61.28 L146.21 61.41 L146.84 61.54 L147.48 61.66 L148.12 61.79 L148.77 61.9 L149.42 62.02 L150.08 62.13 L150.73 62.25 L151.4 62.35 L152.06 62.46 L152.74 62.56 L153.41 62.66 L154.09 62.76 L154.77 62.85 L155.46 62.94 L156.15 63.03 L156.85 63.12 L157.55 63.2 L158.25 63.29 L158.96 63.37 L159.67 63.44 L160.39 63.52 L161.11 63.59 L161.83 63.66 L162.56 63.73 L163.29 63.8 L164.03 63.86 L164.77 63.93 L165.52 63.99 L166.27 64.05 L167.02 64.11 L167.78 64.16 L168.54 64.22 L169.31 64.27 L170.08 64.32 L170.85 64.37 L171.63 64.42 L172.41 64.46 L173.2 64.51 L173.99 64.55 L174.78 64.59 L175.58 64.63 L176.39 64.67 L177.19 64.71 L178.01 64.74 L178.82 64.78 L179.64 64.81 L180.47 64.85 L181.3 64.88 L182.13 64.91 L182.97 64.94 L183.81 64.97 L184.66 64.99 L185.51 65.02 L186.36 65.05 L187.22 65.07 L188.08 65.09 L188.95 65.12 L189.82 65.14 L190.7 65.16 L191.58 65.18 L192.46 65.2 L193.35 65.22 L194.24 65.24 L195.14 65.26 L196.04 65.27 L196.94 65.29 L197.85 65.3 L198.77 65.32 L199.69 65.33 L200.61 65.35 L201.54 65.36" fill="none" stroke="#555555" stroke-width="1.5" stroke-linejoin="miter"/>
<path d="M45.8 7.15 L46.19 7.16 L46.58 7.2 L46.97 7.25 L47.36 7.33 L47.75 7.43 L48.14 7.56 L48.53 7.7 L48.92 7.87 L49.31 8.05 L49.7 8.26 L50.09 8.49 L50.48 8.74 L50.87 9.01 L51.26 9.29 L51.65 9.6 L52.05 9.93 L52.44 10.27 L52.83 10.64 L53.22 11.02 L53.61 11.42 L54 11.83 L54.39 12.26 L54.78 12.71 L55.17 13.18 L55.56 13.66 L55.95 14.16 L56.34 14.67 L56.73 15.2 L57.12 15.75 L57.51 16.3 L57.9 16.87 L58.29 17.46 L58.68 18.06 L59.07 18.67 L59.46 19.29 L59.85 19.93 L60.24 20.57 L60.63 21.23 L61.02 21.9 L61.41 22.58 L61.8 23.27 L62.19 23.97 L62.58 24.68 L62.97 25.4 L63.36 26.13 L63.75 26.86 L64.14 27.61 L64.54 28.36 L64.93 29.12 L65.32 29.88 L65.71 30.65 L66.1 31.43 L66.49 32.22 L66.88 33.01 L67.27 33.8 L67.66 34.6 L68.05 35.41 L68.44 36.21 L68.83 37.03 L69.22 37.84 L69.61 38.66 L70 39.48 L70.39 40.3 L70.78 41.13 L71.17 41.95 L71.56 42.78 L71.95 43.61 L72.34 44.44 L72.73 45.27 L73.12 46.1 L73.51 46.93 L73.9 47.75 L74.29 48.58 L74.68 49.41 L75.07 50.23 L75.46 51.05 L75.85 51.87 L76.24 52.69 L76.63 53.5 L77.03 54.31 L77.42 55.12 L77.81 55.93 L78.2 56.73 L78.59 57.52 L78.98 58.31 L79.37 59.1 L79.76 59.88 L80.15 60.66 L80.54 61.43 L80.93 62.19 L81.32 62.95 L81.71 63.7 L82.1 64.44 L82.49 65.18 L82.88 65.91 L83.27 66.64 L83.66 67.36 L84.05 68.06 L84.44 68.77 L84.83 69.46 L85.22 70.14 L85.61 70.82 L86 71.49 L86.39 72.15 L86.78 72.8 L87.17 73.44 L87.56 74.07 L87.95 74.69 L88.34 75.31 L88.73 75.91 L89.13 76.5 L89.52 77.09 L89.91 77.66 L90.3 78.22 L90.69 78.77 L91.08 79.31 L91.47 79.85 L91.86 80.37 L92.25 80.87 L92.64 81.37 L93.03 81.86 L93.42 82.34 L93.81 82.8 L94.2 83.26 L94.59 83.7 L94.98 84.13 L95.37 84.55 L95.76 84.96 L96.15 85.36 L96.54 85.74 L96.93 86.11 L97.32 86.48 L97.71 86.83 L98.1 87.16 L98.49 87.49 L98.88 87.81 L99.27 88.11 L99.66 88.4 L100.05 88.68 L100.44 88.95 L100.83 89.21 L101.22 89.45 L101.62 89.68 L102.01 89.9 L102.4 90.11 L102.79 90.31 L103.18 90.5 L103.57 90.67 L103.96 90.84 L104.35 90.99 L104.74 91.13 L105.13 91.26 L105.52 91.37 L105.91 91.48 L106.3 91.58 L106.69 91.66 L107.08 91.73 L107.47 91.8 L107.86 91.85 L108.25 91.89 L108.64 91.92 L109.03 91.94 L109.42 91.95 L109.81 91.94 L110.2 91.93 L110.59 91.91 L110.98 91.88 L111.37 91.84 L111.76 91.78 L112.15 91.72 L112.54 91.65 L112.93 91.57 L113.32 91.48 L113.71 91.38 L114.11 91.27 L114.5 91.16 L114.89 91.03 L115.28 90.89 L115.67 90.75 L116.06 90.6 L116.45 90.44 L116.84 90.27 L117.23 90.09 L117.62 89.91 L118.01 89.72 L118.4 89.52 L118.79 89.31 L119.18 89.1 L119.57 88.88 L119.96 88.65 L120.35 88.41 L120.74 88.17 L121.13 87.92 L121.52 87.67 L121.91 87.41 L122.3 87.14 L122.69 86.87 L123.08 86.59 L123.47 86.31 L123.86 86.02 L124.25 85.72 L124.64 85.42 L125.03 85.12 L125.42 84.81 L125.81 84.5 L126.21 84.18 L126.6 83.86 L126.99 83.53 L127.38 83.2 L127.77 82.87 L128.16 82.53 L128.55 82.19 L128.94 81.85 L129.33 81.5 L129.72 81.16 L130.11 80.8 L130.5 80.45 L130.89 80.09 L131.28 79.73 L131.67 79.37 L132.06 79.01 L132.45 78.65 L132.84 78.28 L133.23 77.91 L133.62 77.55 L134.01 77.18 L134.4 76.81 L134.79 76.43 L135.18 76.06 L135.57 75.69 L135.96 75.32 L136.35 74.94 L136.74 74.57 L137.13 74.2 L137.52 73.83 L137.91 73.46 L138.3 73.08 L138.7 72.71 L139.09 72.34 L139.48 71.97 L139.87 71.61 L140.26 71.24 L140.65 70.88 L141.04 70.51 L141.43 70.15 L141.82 69.79 L142.21 69.43 L142.6 69.07 L142.99 68.72 L143.38 68.37 L143.77 68.02 L144.16 67.67 L144.55 67.33 L144.94 66.99 L145.33 66.65 L145.72 66.31 L146.11 65.98 L146.5 65.65 L146.89 65.32 L147.28 65 L147.67 64.68 L148.06 64.36 L148.45 64.05 L148.84 63.74 L149.23 63.43 L149.62 63.13 L150.01 62.83 L150.4 62.54 L150.79 62.25 L151.19 61.97 L151.58 61.68 L151.97 61.41 L152.36 61.13 L152.75 60.87 L153.14 60.6 L153.53 60.34 L153.92 60.09 L154.31 59.84 L154.7 59.59 L155.09 59.35 L155.48 59.12 L155.87 58.89 L156.26 58.66 L156.65 58.44 L157.04 58.22 L157.43 58.01 L157.82 57.81 L158.21 57.61 L158.6 57.41 L158.99 57.22 L159.38 57.04 L159.77 56.86 L160.16 56.68 L160.55 56.51 L160.94 56.35 L161.33 56.19 L161.72 56.03 L162.11 55.88 L162.5 55.74 L162.89 55.6 L163.29 55.47 L163.68 55.34 L164.07 55.22 L164.46 55.1 L164.85 54.99 L165.24 54.88 L165.63 54.78 L166.02 54.69 L166.41 54.6 L166.8 54.51 L167.19 54.43 L167.58 54.35 L167.97 54.28 L168.36 54.22 L168.75 54.16 L169.14 54.1 L169.53 54.06 L169.92 54.01 L170.31 53.97 L170.7 53.94 L171.09 53.91 L171.48 53.88 L171.87 53.86 L172.26 53.85 L172.65 53.84 L173.04 53.83 L173.43 53.83 L173.82 53.83 L174.21 53.84 L174.6 53.85 L174.99 53.87 L175.38 53.89 L175.78 53.92 L176.17 53.95 L176.56 53.98 L176.95 54.02 L177.34 54.07 L177.73 54.11 L178.12 54.17 L178.51 54.22 L178.9 54.28 L179.29 54.34 L179.68 54.41 L180.07 54.48 L180.46 54.56 L180.85 54.63 L181.24 54.71 L181.63 54.8 L182.02 54.89 L182.41 54.98 L182.8 55.08 L183.19 55.17 L183.58 55.28 L183.97 55.38 L184.36 55.49 L184.75 55.6 L185.14 55.71 L185.53 55.83 L185.92 55.95 L186.31 56.07 L186.7 56.19 L187.09 56.32 L187.48 56.45 L187.87 56.58 L188.27 56.71 L188.66 56.85 L189.05 56.99 L189.44 57.13 L189.83 57.27 L190.22 57.41 L190.61 57.56 L191 57.71 L191.39 57.86 L191.78 58.01 L192.17 58.16 L192.56 58.31 L192.95 58.47 L193.34 58.62 L193.73 58.78 L194.12 58.94 L194.51 59.1 L194.9 59.26 L195.29 59.42 L195.68 59.59 L196.07 59.75 L196.46 59.91 L196.85 60.08 L197.24 60.24 L197.63 60.41 L198.02 60.58 L198.41 60.74 L198.8 60.91 L199.19 61.08 L199.58 61.24 L199.97 61.41 L200.37 61.58 L200.76 61.75 L201.15 61.91 L201.54 62.08" fill="none" stroke="#000" stroke-width="1.4"/>
</g>
<path d="M45.8 81.8 V99.8" stroke="#999" stroke-width="1.2" fill="none"/>
<path d="M61.25 81.8 V99.8" stroke="#999" stroke-width="1.2" fill="none"/>
<path d="M76.7 81.8 V99.8" stroke="#999" stroke-width="1.2" fill="none"/>
<path d="M92.15 81.8 V99.8" stroke="#999" stroke-width="1.2" fill="none"/>
<rect x="40.2" y="4.7" width="164.5" height="89.7" fill="none" stroke="#3a3a3a" stroke-width="1.1"/>
<path d="M119.96 4.7 v1.8 M119.96 94.4 v-1.8 M144.68 4.7 v1.8 M144.68 94.4 v-1.8 M169.4 4.7 v1.8 M169.4 94.4 v-1.8 M194.12 4.7 v1.8 M194.12 94.4 v-1.8 " stroke="#111" stroke-width="0.8" fill="none"/>
<path d="M45.8 4.7 v1.8 M61.25 4.7 v1.8 M76.7 4.7 v1.8 M92.15 4.7 v1.8" stroke="#111" stroke-width="0.8" fill="none"/>
<path d="M40.2 7.15 h1.8 M204.7 7.15 h-1.8 M40.2 18.85 h1.8 M204.7 18.85 h-1.8 M40.2 30.55 h1.8 M204.7 30.55 h-1.8 M40.2 42.25 h1.8 M204.7 42.25 h-1.8 M40.2 53.95 h1.8 M204.7 53.95 h-1.8 M40.2 65.65 h1.8 M204.7 65.65 h-1.8 M40.2 77.35 h1.8 M204.7 77.35 h-1.8 M40.2 89.05 h1.8 M204.7 89.05 h-1.8 " stroke="#111" stroke-width="0.8" fill="none"/>
<text x="37" y="10.55" font-size="9.5" text-anchor="end" fill="#1a1a1a"  >1.0</text>
<text x="37" y="22.25" font-size="9.5" text-anchor="end" fill="#1a1a1a"  >0.8</text>
<text x="37" y="33.95" font-size="9.5" text-anchor="end" fill="#1a1a1a"  >0.6</text>
<text x="37" y="45.65" font-size="9.5" text-anchor="end" fill="#1a1a1a"  >0.4</text>
<text x="37" y="57.35" font-size="9.5" text-anchor="end" fill="#1a1a1a"  >0.2</text>
<text x="37" y="69.05" font-size="9.5" text-anchor="end" fill="#1a1a1a"  >0.0</text>
<text x="37" y="80.75" font-size="9.5" text-anchor="end" fill="#1a1a1a"  >−0.2</text>
<text x="37" y="92.45" font-size="9.5" text-anchor="end" fill="#1a1a1a"  >−0.4</text>
<text x="119.96" y="109.3" font-size="9.5" text-anchor="middle" fill="#1a1a1a"  >0.6</text>
<text x="144.68" y="109.3" font-size="9.5" text-anchor="middle" fill="#1a1a1a"  >0.8</text>
<text x="169.4" y="109.3" font-size="9.5" text-anchor="middle" fill="#1a1a1a"  >1.0</text>
<text x="194.12" y="109.3" font-size="9.5" text-anchor="middle" fill="#1a1a1a"  >1.2</text>
<text x="44.8" y="109.3" font-size="9.5" text-anchor="middle" fill="#999"  ><tspan font-style="italic" letter-spacing="0.8">τ</tspan><tspan letter-spacing="0.5">=</tspan>0</text>
<text x="61.25" y="109.3" font-size="9.5" text-anchor="middle" fill="#999"  >1/8</text>
<text x="76.7" y="109.3" font-size="9.5" text-anchor="middle" fill="#999"  >1/4</text>
<text x="92.15" y="109.3" font-size="9.5" text-anchor="middle" fill="#999"  >3/8</text>
<text x="122.3" y="126" font-size="10.5" text-anchor="middle" fill="#1a1a1a" font-style="italic" letter-spacing="0.4">t/T</text>
<text transform="translate(8.0 49.7) rotate(-90)" font-size="10.3" letter-spacing="0.3" text-anchor="middle" fill="#1a1a1a" font-style="italic">r<tspan font-size="7" dy="1.5">s</tspan><tspan dy="-1.5">(t),k(t−τ),r</tspan><tspan font-size="7" dy="1.5">s</tspan><tspan dy="-1.5">k</tspan></text>
<text x="188.2" y="25" font-size="19.6" text-anchor="middle" fill="#1a1a1a"  >A</text>
<path d="M253.1 33.3 L253.45 32.89 L253.81 32.48 L254.16 32.08 L254.52 31.69 L254.87 31.3 L255.23 30.91 L255.58 30.54 L255.94 30.17 L256.29 29.81 L256.65 29.45 L257 29.11 L257.35 28.77 L257.71 28.45 L258.06 28.13 L258.42 27.83 L258.77 27.53 L259.13 27.23 L259.48 26.95 L259.84 26.66 L260.19 26.39 L260.55 26.12 L260.9 25.85 L261.25 25.59 L261.61 25.33 L261.96 25.07 L262.32 24.82 L262.67 24.58 L263.03 24.33 L263.38 24.09 L263.74 23.85 L264.09 23.61 L264.45 23.37 L264.8 23.13 L265.15 22.9 L265.51 22.66 L265.86 22.43 L266.22 22.2 L266.57 21.97 L266.93 21.75 L267.28 21.53 L267.64 21.32 L267.99 21.1 L268.35 20.89 L268.7 20.68 L269.05 20.47 L269.41 20.27 L269.76 20.06 L270.12 19.85 L270.47 19.65 L270.83 19.44 L271.18 19.23 L271.54 19.02 L271.89 18.81 L272.25 18.59 L272.6 18.38 L272.95 18.15 L273.31 17.93 L273.66 17.7 L274.02 17.48 L274.37 17.25 L274.73 17.02 L275.08 16.79 L275.44 16.56 L275.79 16.33 L276.15 16.09 L276.5 15.86 L276.85 15.62 L277.21 15.39 L277.56 15.15 L277.92 14.91 L278.27 14.67 L278.63 14.43 L278.98 14.19 L279.34 13.94 L279.69 13.7 L280.05 13.46 L280.4 13.21 L280.75 12.96 L281.11 12.71 L281.46 12.46 L281.82 12.21 L282.17 11.96 L282.53 11.71 L282.88 11.45 L283.24 11.2 L283.59 10.94 L283.95 10.68 L284.3 10.42 L284.65 10.16 L285.01 9.9 L285.36 9.64 L285.72 9.38 L286.07 9.11 L286.43 8.85 L286.78 8.58 L287.14 8.31 L287.49 8.04 L287.85 7.77 L288.2 7.5" fill="none" stroke="#000" stroke-width="1.6"/>
<path d="M293 78.5 L293.61 77.98 L294.23 77.45 L294.84 76.93 L295.45 76.4 L296.07 75.87 L296.68 75.34 L297.29 74.81 L297.91 74.27 L298.52 73.74 L299.13 73.19 L299.75 72.65 L300.36 72.1 L300.97 71.55 L301.59 70.99 L302.2 70.43 L302.82 69.86 L303.43 69.29 L304.04 68.72 L304.66 68.14 L305.27 67.56 L305.88 66.97 L306.5 66.38 L307.11 65.77 L307.72 65.16 L308.34 64.54 L308.95 63.92 L309.56 63.28 L310.18 62.64 L310.79 61.98 L311.4 61.32 L312.02 60.65 L312.63 59.97 L313.24 59.28 L313.86 58.58 L314.47 57.86 L315.08 57.14 L315.7 56.4 L316.31 55.66 L316.92 54.91 L317.54 54.15 L318.15 53.38 L318.76 52.62 L319.38 51.85 L319.99 51.08 L320.61 50.31 L321.22 49.54 L321.83 48.77 L322.45 48.01 L323.06 47.24 L323.67 46.47 L324.29 45.71 L324.9 44.95 L325.51 44.19 L326.13 43.43 L326.74 42.67 L327.35 41.91 L327.97 41.16 L328.58 40.41 L329.19 39.66 L329.81 38.92 L330.42 38.19 L331.03 37.47 L331.65 36.76 L332.26 36.05 L332.87 35.36 L333.49 34.68 L334.1 34 L334.71 33.34 L335.33 32.68 L335.94 32.04 L336.55 31.41 L337.17 30.79 L337.78 30.18 L338.39 29.58 L339.01 29 L339.62 28.43 L340.24 27.87 L340.85 27.33 L341.46 26.79 L342.08 26.27 L342.69 25.75 L343.3 25.24 L343.92 24.73 L344.53 24.23 L345.14 23.73 L345.76 23.23 L346.37 22.74 L346.98 22.25 L347.6 21.76 L348.21 21.27 L348.82 20.78 L349.44 20.3 L350.05 19.82 L350.66 19.35 L351.28 18.88 L351.89 18.41 L352.5 17.96 L353.12 17.51 L353.73 17.06 L354.34 16.62 L354.96 16.19 L355.57 15.77 L356.18 15.35 L356.8 14.94 L357.41 14.53 L358.03 14.13 L358.64 13.74 L359.25 13.36 L359.87 12.98 L360.48 12.61 L361.09 12.25 L361.71 11.89 L362.32 11.54 L362.93 11.2 L363.55 10.85 L364.16 10.51 L364.77 10.17 L365.39 9.84 L366 9.5" fill="none" stroke="#000" stroke-width="1.6" stroke-dasharray="2.1 1.4"/>
<path d="M371.3 79 L371.65 78.71 L372.01 78.42 L372.36 78.12 L372.71 77.83 L373.07 77.53 L373.42 77.23 L373.77 76.94 L374.13 76.64 L374.48 76.34 L374.84 76.03 L375.19 75.73 L375.54 75.43 L375.9 75.12 L376.25 74.82 L376.6 74.51 L376.96 74.2 L377.31 73.89 L377.66 73.58 L378.02 73.27 L378.37 72.96 L378.72 72.64 L379.08 72.33 L379.43 72.01 L379.78 71.69 L380.14 71.38 L380.49 71.06 L380.85 70.74 L381.2 70.42 L381.55 70.1 L381.91 69.78 L382.26 69.46 L382.61 69.14 L382.97 68.81 L383.32 68.49 L383.67 68.16 L384.03 67.84 L384.38 67.51 L384.73 67.18 L385.09 66.84 L385.44 66.51 L385.79 66.17 L386.15 65.83 L386.5 65.49 L386.86 65.14 L387.21 64.8 L387.56 64.45 L387.92 64.09 L388.27 63.73 L388.62 63.37 L388.98 63.01 L389.33 62.64 L389.68 62.27 L390.04 61.9 L390.39 61.52 L390.74 61.14 L391.1 60.76 L391.45 60.37 L391.81 59.99 L392.16 59.6 L392.51 59.2 L392.87 58.81 L393.22 58.41 L393.57 58.01 L393.93 57.6 L394.28 57.2 L394.63 56.79 L394.99 56.38 L395.34 55.96 L395.69 55.55 L396.05 55.13 L396.4 54.71 L396.75 54.29 L397.11 53.87 L397.46 53.45 L397.82 53.02 L398.17 52.59 L398.52 52.15 L398.88 51.72 L399.23 51.28 L399.58 50.84 L399.94 50.4 L400.29 49.95 L400.64 49.5 L401 49.05 L401.35 48.6 L401.7 48.14 L402.06 47.69 L402.41 47.23 L402.76 46.76 L403.12 46.3 L403.47 45.83 L403.83 45.36 L404.18 44.89 L404.53 44.41 L404.89 43.93 L405.24 43.45 L405.59 42.97 L405.95 42.49 L406.3 42" fill="none" stroke="#000" stroke-width="1.6"/>
<rect x="250.4" y="0.6" width="160.9" height="88.8" fill="none" stroke="#3a3a3a" stroke-width="1.1"/>
<path d="M253.2 0.6 v1.2 M253.2 89.4 v-1.2 M260.95 0.6 v1.2 M260.95 89.4 v-1.2 M268.7 0.6 v1.2 M268.7 89.4 v-1.2 M276.45 0.6 v1.2 M276.45 89.4 v-1.2 M284.2 0.6 v1.2 M284.2 89.4 v-1.2 M291.95 0.6 v1.2 M291.95 89.4 v-1.2 M299.7 0.6 v1.2 M299.7 89.4 v-1.2 M307.45 0.6 v1.2 M307.45 89.4 v-1.2 M315.2 0.6 v1.2 M315.2 89.4 v-1.2 M322.95 0.6 v1.2 M322.95 89.4 v-1.2 M330.7 0.6 v1.2 M330.7 89.4 v-1.2 M338.45 0.6 v1.2 M338.45 89.4 v-1.2 M346.2 0.6 v1.2 M346.2 89.4 v-1.2 M353.95 0.6 v1.2 M353.95 89.4 v-1.2 M361.7 0.6 v1.2 M361.7 89.4 v-1.2 M369.45 0.6 v1.2 M369.45 89.4 v-1.2 M377.2 0.6 v1.2 M377.2 89.4 v-1.2 M384.95 0.6 v1.2 M384.95 89.4 v-1.2 M392.7 0.6 v1.2 M392.7 89.4 v-1.2 M400.45 0.6 v1.2 M400.45 89.4 v-1.2 M408.2 0.6 v1.2 M408.2 89.4 v-1.2 " stroke="#111" stroke-width="0.7" fill="none"/>
<path d="M253.2 0.6 v2 M253.2 89.4 v-2 M284.2 0.6 v2 M284.2 89.4 v-2 M315.2 0.6 v2 M315.2 89.4 v-2 M346.2 0.6 v2 M346.2 89.4 v-2 M377.2 0.6 v2 M377.2 89.4 v-2 M408.2 0.6 v2 M408.2 89.4 v-2 " stroke="#111" stroke-width="0.8" fill="none"/>
<path d="M250.4 7.2 h1.8 M250.4 20.2 h1.8 M250.4 33.2 h1.8 M250.4 46.2 h1.8 M250.4 59.2 h1.8 M250.4 72.2 h1.8" stroke="#111" stroke-width="0.8" fill="none"/>
<text x="247.4" y="9.9" font-size="9.5" text-anchor="end" fill="#1a1a1a"  >16.</text>
<text x="247.4" y="22.9" font-size="9.5" text-anchor="end" fill="#1a1a1a"  >8.</text>
<text x="247.4" y="35.9" font-size="9.5" text-anchor="end" fill="#1a1a1a"  >4.</text>
<text x="247.4" y="48.9" font-size="9.5" text-anchor="end" fill="#1a1a1a"  >2.</text>
<text x="247.4" y="61.9" font-size="9.5" text-anchor="end" fill="#1a1a1a"  >1.</text>
<text x="247.4" y="74.9" font-size="9.5" text-anchor="end" fill="#1a1a1a"  >0.5</text>
<text transform="translate(253.2 101.4) scale(1.06 1)" font-size="9.5" text-anchor="middle" fill="#1a1a1a">0.0</text>
<text transform="translate(284.2 101.4) scale(1.06 1)" font-size="9.5" text-anchor="middle" fill="#1a1a1a">0.2</text>
<text transform="translate(315.2 101.4) scale(1.06 1)" font-size="9.5" text-anchor="middle" fill="#1a1a1a">0.4</text>
<text transform="translate(346.2 101.4) scale(1.06 1)" font-size="9.5" text-anchor="middle" fill="#1a1a1a">0.6</text>
<text transform="translate(377.2 101.4) scale(1.06 1)" font-size="9.5" text-anchor="middle" fill="#1a1a1a">0.8</text>
<text transform="translate(408.2 101.4) scale(1.06 1)" font-size="9.5" text-anchor="middle" fill="#1a1a1a">1.0</text>
<text x="331.2" y="118.5" font-size="10.5" text-anchor="middle" fill="#1a1a1a" font-style="italic" letter-spacing="0.8">τ/T</text>
<text transform="translate(218.6 44.8) rotate(-90)" font-size="9.6" text-anchor="middle" fill="#1a1a1a" font-style="italic">μ<tspan font-size="7" dy="-2">*</tspan><tspan dy="2">/ω</tspan></text>
<text x="395.4" y="20.9" font-size="19.6" text-anchor="middle" fill="#1a1a1a"  >B</text>
<g clip-path="url(#clipC)">
<path d="M47.8 213 L47.8 135.8 L47.81 135.83 L47.82 135.91 L47.85 136.03 L47.88 136.18 L47.92 136.37 L47.97 136.59 L48.03 136.85 L48.09 137.14 L48.16 137.46 L48.23 137.8 L48.31 138.18 L48.4 138.59 L48.49 139.03 L48.59 139.5 L48.7 139.99 L48.81 140.52 L48.92 141.07 L49.04 141.65 L49.17 142.26 L49.3 142.9 L49.44 143.56 L49.58 144.26 L49.73 144.98 L49.89 145.72 L50.05 146.49 L50.21 147.29 L50.38 148.12 L50.55 148.97 L50.73 149.84 L50.92 150.74 L51.11 151.66 L51.3 152.6 L51.5 153.57 L51.71 154.55 L51.91 155.56 L52.13 156.59 L52.35 157.63 L52.57 158.7 L52.8 159.78 L53.03 160.87 L53.27 161.98 L53.51 163.11 L53.76 164.24 L54.01 165.39 L54.27 166.54 L54.53 167.71 L54.8 168.88 L55.07 170.06 L55.34 171.24 L55.62 172.42 L55.9 173.6 L56.19 174.79 L56.48 175.97 L56.78 177.15 L57.08 178.33 L57.39 179.5 L57.7 180.66 L58.01 181.81 L58.33 182.95 L58.66 184.08 L58.98 185.2 L59.32 186.3 L59.65 187.39 L59.99 188.46 L60.34 189.52 L60.69 190.55 L61.04 191.56 L61.4 192.55 L61.76 193.52 L62.13 194.47 L62.5 195.39 L62.87 196.29 L63.25 197.16 L63.64 198.01 L64.02 198.83 L64.42 199.62 L64.81 200.39 L65.21 201.12 L65.61 201.84 L66.02 202.52 L66.43 203.18 L66.85 203.81 L67.27 204.41 L67.69 204.98 L68.12 205.53 L68.56 206.05 L68.99 206.55 L69.43 207.02 L69.88 207.46 L70.33 207.88 L70.78 208.28 L71.23 208.65 L71.69 209 L72.16 209.33 L72.63 209.64 L73.1 209.92 L73.58 210.19 L74.06 210.44 L74.54 210.67 L75.03 210.89 L75.52 211.09 L76.02 211.27 L76.52 211.44 L77.02 211.59 L77.53 211.74 L78.04 211.87 L78.56 211.98 L79.08 212.09 L79.6 212.19 L80.13 212.28 L80.66 212.36 L81.19 212.44 L81.73 212.5 L82.27 212.56 L82.82 212.61 L83.37 212.66 L83.92 212.7 L84.48 212.74 L85.04 212.77 L85.61 212.8 L86.18 212.83 L86.75 212.85 L87.32 212.87 L87.9 212.89 L88.49 212.91 L89.08 212.92 L89.67 212.93 L90.26 212.94 L90.86 212.95 L91.47 212.96 L92.07 212.96 L92.68 212.97 L93.3 212.98 L93.91 212.98 L94.53 212.98 L95.16 212.99 L95.79 212.99 L96.42 212.99 L97.06 212.99 L97.7 212.99 L98.34 212.99 L98.99 213 L99.64 213 L100.29 213 L100.95 213 L101.61 213 L102.28 213 L102.95 213 L103.62 213 L104.29 213 L104.97 213 L105.66 213 L106.34 213 L107.03 213 L107.73 213 L108.43 213 L109.13 213 L109.83 213 L110.54 213 L111.25 213 L111.97 213 L112.69 213 L113.41 213 L114.14 213 L114.87 213 L115.6 213 L116.34 213 L117.08 213 L117.82 213 L118.57 213 L119.32 213 L120.08 213 L120.83 213 L121.59 213 L122.36 213 L123.13 213 L123.9 213 L124.68 213 L125.46 213 L126.24 213 L127.02 213 L127.81 213 L128.61 213 L129.4 213 L130.2 213 L131.01 213 L131.81 213 L132.62 213 L133.44 213 L134.26 213 L135.08 213 L135.9 213 L136.73 213 L137.56 213 L138.39 213 L139.23 213 L140.07 213 L140.92 213 L141.77 213 L142.62 213 L143.47 213 L144.33 213 L145.19 213 L146.06 213 L146.93 213 L147.8 213 L148.68 213 L149.55 213 L150.44 213 L151.32 213 L152.21 213 L153.1 213 L154 213 L154.9 213 L155.8 213 L156.71 213 L157.62 213 L158.53 213 L159.44 213 L160.36 213 L161.29 213 L162.21 213 L163.14 213 L164.07 213 L165.01 213 L165.95 213 L166.89 213 L167.84 213 L168.79 213 L169.74 213 L170.7 213 L171.66 213 L172.62 213 L173.58 213 L174.55 213 L175.53 213 L176.5 213 L177.48 213 L178.46 213 L179.45 213 L180.44 213 L181.43 213 L182.43 213 L183.42 213 L184.43 213 L185.43 213 L186.44 213 L187.45 213 L188.47 213 L189.49 213 L190.51 213 L191.53 213 L192.56 213 L193.59 213 L194.63 213 L195.67 213 L196.71 213 L197.75 213 L198.8 213 L198.8 213Z" fill="#ff8000" fill-opacity="0.3" stroke="none"/>
<path d="M47.8 135.8 L47.81 135.83 L47.82 135.91 L47.85 136.03 L47.88 136.18 L47.92 136.37 L47.97 136.59 L48.03 136.85 L48.09 137.14 L48.16 137.46 L48.23 137.8 L48.31 138.18 L48.4 138.59 L48.49 139.03 L48.59 139.5 L48.7 139.99 L48.81 140.52 L48.92 141.07 L49.04 141.65 L49.17 142.26 L49.3 142.9 L49.44 143.56 L49.58 144.26 L49.73 144.98 L49.89 145.72 L50.05 146.49 L50.21 147.29 L50.38 148.12 L50.55 148.97 L50.73 149.84 L50.92 150.74 L51.11 151.66 L51.3 152.6 L51.5 153.57 L51.71 154.55 L51.91 155.56 L52.13 156.59 L52.35 157.63 L52.57 158.7 L52.8 159.78 L53.03 160.87 L53.27 161.98 L53.51 163.11 L53.76 164.24 L54.01 165.39 L54.27 166.54 L54.53 167.71 L54.8 168.88 L55.07 170.06 L55.34 171.24 L55.62 172.42 L55.9 173.6 L56.19 174.79 L56.48 175.97 L56.78 177.15 L57.08 178.33 L57.39 179.5 L57.7 180.66 L58.01 181.81 L58.33 182.95 L58.66 184.08 L58.98 185.2 L59.32 186.3 L59.65 187.39 L59.99 188.46 L60.34 189.52 L60.69 190.55 L61.04 191.56 L61.4 192.55 L61.76 193.52 L62.13 194.47 L62.5 195.39 L62.87 196.29 L63.25 197.16 L63.64 198.01 L64.02 198.83 L64.42 199.62 L64.81 200.39 L65.21 201.12 L65.61 201.84 L66.02 202.52 L66.43 203.18 L66.85 203.81 L67.27 204.41 L67.69 204.98 L68.12 205.53 L68.56 206.05 L68.99 206.55 L69.43 207.02 L69.88 207.46 L70.33 207.88 L70.78 208.28 L71.23 208.65 L71.69 209 L72.16 209.33 L72.63 209.64 L73.1 209.92 L73.58 210.19 L74.06 210.44 L74.54 210.67 L75.03 210.89 L75.52 211.09 L76.02 211.27 L76.52 211.44 L77.02 211.59 L77.53 211.74 L78.04 211.87 L78.56 211.98 L79.08 212.09 L79.6 212.19 L80.13 212.28 L80.66 212.36 L81.19 212.44 L81.73 212.5 L82.27 212.56 L82.82 212.61 L83.37 212.66 L83.92 212.7 L84.48 212.74 L85.04 212.77 L85.61 212.8 L86.18 212.83 L86.75 212.85 L87.32 212.87 L87.9 212.89 L88.49 212.91 L89.08 212.92 L89.67 212.93 L90.26 212.94 L90.86 212.95 L91.47 212.96 L92.07 212.96 L92.68 212.97 L93.3 212.98 L93.91 212.98 L94.53 212.98 L95.16 212.99 L95.79 212.99 L96.42 212.99 L97.06 212.99 L97.7 212.99 L98.34 212.99 L98.99 213 L99.64 213 L100.29 213 L100.95 213 L101.61 213 L102.28 213 L102.95 213 L103.62 213 L104.29 213 L104.97 213 L105.66 213 L106.34 213 L107.03 213 L107.73 213 L108.43 213 L109.13 213 L109.83 213 L110.54 213 L111.25 213 L111.97 213 L112.69 213 L113.41 213 L114.14 213 L114.87 213 L115.6 213 L116.34 213 L117.08 213 L117.82 213 L118.57 213 L119.32 213 L120.08 213 L120.83 213 L121.59 213 L122.36 213 L123.13 213 L123.9 213 L124.68 213 L125.46 213 L126.24 213 L127.02 213 L127.81 213 L128.61 213 L129.4 213 L130.2 213 L131.01 213 L131.81 213 L132.62 213 L133.44 213 L134.26 213 L135.08 213 L135.9 213 L136.73 213 L137.56 213 L138.39 213 L139.23 213 L140.07 213 L140.92 213 L141.77 213 L142.62 213 L143.47 213 L144.33 213 L145.19 213 L146.06 213 L146.93 213 L147.8 213 L148.68 213 L149.55 213 L150.44 213 L151.32 213 L152.21 213 L153.1 213 L154 213 L154.9 213 L155.8 213 L156.71 213 L157.62 213 L158.53 213 L159.44 213 L160.36 213 L161.29 213 L162.21 213 L163.14 213 L164.07 213 L165.01 213 L165.95 213 L166.89 213 L167.84 213 L168.79 213 L169.74 213 L170.7 213 L171.66 213 L172.62 213 L173.58 213 L174.55 213 L175.53 213 L176.5 213 L177.48 213 L178.46 213 L179.45 213 L180.44 213 L181.43 213 L182.43 213 L183.42 213 L184.43 213 L185.43 213 L186.44 213 L187.45 213 L188.47 213 L189.49 213 L190.51 213 L191.53 213 L192.56 213 L193.59 213 L194.63 213 L195.67 213 L196.71 213 L197.75 213 L198.8 213" fill="none" stroke="#ff8000" stroke-opacity="0.5" stroke-width="0.6"/>
<path d="M45.91 213 H47.8" fill="none" stroke="#ff8000" stroke-opacity="0.55" stroke-width="1.3"/>
<path d="M47.8 213 L47.8 135.8 L47.81 135.83 L47.82 135.91 L47.85 136.03 L47.88 136.18 L47.92 136.37 L47.97 136.59 L48.03 136.85 L48.09 137.13 L48.16 137.45 L48.23 137.79 L48.31 138.17 L48.4 138.57 L48.49 139 L48.59 139.46 L48.7 139.95 L48.81 140.47 L48.92 141.01 L49.04 141.58 L49.17 142.17 L49.3 142.79 L49.44 143.44 L49.58 144.11 L49.73 144.81 L49.89 145.53 L50.05 146.27 L50.21 147.04 L50.38 147.84 L50.55 148.65 L50.73 149.49 L50.92 150.35 L51.11 151.23 L51.3 152.14 L51.5 153.06 L51.71 154 L51.91 154.97 L52.13 155.95 L52.35 156.94 L52.57 157.96 L52.8 158.99 L53.03 160.03 L53.27 161.09 L53.51 162.17 L53.76 163.25 L54.01 164.35 L54.27 165.45 L54.53 166.57 L54.8 167.69 L55.07 168.82 L55.34 169.95 L55.62 171.09 L55.9 172.23 L56.19 173.37 L56.48 174.52 L56.78 175.66 L57.08 176.8 L57.39 177.94 L57.7 179.07 L58.01 180.2 L58.33 181.32 L58.66 182.43 L58.98 183.53 L59.32 184.62 L59.65 185.69 L59.99 186.76 L60.34 187.81 L60.69 188.84 L61.04 189.85 L61.4 190.85 L61.76 191.83 L62.13 192.79 L62.5 193.73 L62.87 194.65 L63.25 195.54 L63.64 196.41 L64.02 197.26 L64.42 198.09 L64.81 198.89 L65.21 199.66 L65.61 200.41 L66.02 201.13 L66.43 201.83 L66.85 202.5 L67.27 203.14 L67.69 203.76 L68.12 204.36 L68.56 204.92 L68.99 205.46 L69.43 205.98 L69.88 206.47 L70.33 206.94 L70.78 207.38 L71.23 207.8 L71.69 208.19 L72.16 208.57 L72.63 208.92 L73.1 209.25 L73.58 209.56 L74.06 209.85 L74.54 210.12 L75.03 210.37 L75.52 210.6 L76.02 210.82 L76.52 211.02 L77.02 211.21 L77.53 211.38 L78.04 211.54 L78.56 211.69 L79.08 211.82 L79.6 211.94 L80.13 212.05 L80.66 212.16 L81.19 212.25 L81.73 212.33 L82.27 212.41 L82.82 212.48 L83.37 212.54" fill="none" stroke="#ff8000" stroke-width="1.5" stroke-linejoin="miter"/>
<path d="M83.37 212.54 L83.92 212.59 L84.48 212.64 L85.04 212.69 L85.61 212.73 L86.18 212.76 L86.75 212.79 L87.32 212.82 L87.9 212.84 L88.49 212.86 L89.08 212.88 L89.67 212.9 L90.26 212.91 L90.86 212.93 L91.47 212.94 L92.07 212.95 L92.68 212.95 L93.3 212.96 L93.91 212.97 L94.53 212.97 L95.16 212.98 L95.79 212.98 L96.42 212.98 L97.06 212.99 L97.7 212.99 L98.34 212.99 L98.99 212.99 L99.64 212.99 L100.29 213 L100.95 213 L101.61 213 L102.28 213 L102.95 213 L103.62 213 L104.29 213 L104.97 213 L105.66 213 L106.34 213 L107.03 213 L107.73 213 L108.43 213 L109.13 213 L109.83 213 L110.54 213 L111.25 213 L111.97 213 L112.69 213 L113.41 213 L114.14 213 L114.87 213 L115.6 213 L116.34 213 L117.08 213 L117.82 213 L118.57 213 L119.32 213 L120.08 213 L120.83 213 L121.59 213 L122.36 213 L123.13 213 L123.9 213 L124.68 213 L125.46 213 L126.24 213 L127.02 213 L127.81 213 L128.61 213 L129.4 213 L130.2 213 L131.01 213 L131.81 213 L132.62 213 L133.44 213 L134.26 213 L135.08 213 L135.9 213 L136.73 213 L137.56 213 L138.39 213 L139.23 213 L140.07 213 L140.92 213 L141.77 213 L142.62 213 L143.47 213 L144.33 213 L145.19 213 L146.06 213 L146.93 213 L147.8 213 L148.68 213 L149.55 213 L150.44 213 L151.32 213 L152.21 213 L153.1 213 L154 213 L154.9 213 L155.8 213 L156.71 213 L157.62 213 L158.53 213 L159.44 213 L160.36 213 L161.29 213 L162.21 213 L163.14 213 L164.07 213 L165.01 213 L165.95 213 L166.89 213 L167.84 213 L168.79 213 L169.74 213 L170.7 213 L171.66 213 L172.62 213 L173.58 213 L174.55 213 L175.53 213 L176.5 213 L177.48 213 L178.46 213 L179.45 213 L180.44 213 L181.43 213 L182.43 213 L183.42 213 L184.43 213 L185.43 213 L186.44 213 L187.45 213 L188.47 213 L189.49 213 L190.51 213 L191.53 213 L192.56 213 L193.59 213 L194.63 213 L195.67 213 L196.71 213 L197.75 213 L198.8 213" fill="none" stroke="#ff8000" stroke-opacity="0.55" stroke-width="1.3"/>
<path d="M66.67 213 L66.67 145.28 L66.68 145.33 L66.7 145.44 L66.72 145.6 L66.75 145.82 L66.78 146.08 L66.83 146.39 L66.87 146.74 L66.93 147.14 L66.99 147.57 L67.05 148.04 L67.12 148.55 L67.2 149.09 L67.28 149.66 L67.37 150.27 L67.46 150.91 L67.55 151.58 L67.66 152.27 L67.76 152.99 L67.87 153.74 L67.99 154.52 L68.11 155.31 L68.24 156.13 L68.37 156.97 L68.5 157.83 L68.64 158.71 L68.78 159.6 L68.93 160.51 L69.08 161.44 L69.24 162.38 L69.4 163.33 L69.57 164.29 L69.74 165.26 L69.91 166.24 L70.09 167.23 L70.28 168.23 L70.46 169.23 L70.65 170.23 L70.85 171.24 L71.05 172.25 L71.25 173.25 L71.46 174.26 L71.67 175.27 L71.89 176.28 L72.11 177.28 L72.34 178.27 L72.56 179.26 L72.8 180.25 L73.03 181.23 L73.27 182.19 L73.52 183.15 L73.77 184.1 L74.02 185.04 L74.27 185.97 L74.53 186.89 L74.8 187.79 L75.07 188.68 L75.34 189.55 L75.61 190.41 L75.89 191.26 L76.17 192.09 L76.46 192.9 L76.75 193.7 L77.05 194.47 L77.35 195.24 L77.65 195.98 L77.95 196.71 L78.26 197.41 L78.58 198.1 L78.89 198.77 L79.21 199.42 L79.54 200.06 L79.86 200.67 L80.2 201.26 L80.53 201.84 L80.87 202.4 L81.21 202.93 L81.56 203.45 L81.91 203.95 L82.26 204.44 L82.62 204.9 L82.98 205.35 L83.34 205.77 L83.71 206.19 L84.08 206.58 L84.46 206.96 L84.84 207.32 L85.22 207.66 L85.6 207.99 L85.99 208.3 L86.38 208.6 L86.78 208.88 L87.18 209.15 L87.58 209.41 L87.99 209.65 L88.4 209.88 L88.81 210.1 L89.23 210.3 L89.65 210.49 L90.07 210.67 L90.5 210.85 L90.93 211.01 L91.37 211.16 L91.8 211.3 L92.24 211.43 L92.69 211.56 L93.14 211.67 L93.59 211.78 L94.04 211.88 L94.5 211.97 L94.96 212.06 L95.42 212.14 L95.89 212.22 L96.36 212.28 L96.84 212.35 L97.32 212.41 L97.8 212.46 L98.28 212.51 L98.77 212.56 L99.26 212.6 L99.76 212.64 L100.25 212.67 L100.75 212.71 L101.26 212.74 L101.77 212.76 L102.28 212.79 L102.79 212.81 L103.31 212.83 L103.83 212.85 L104.35 212.86 L104.88 212.88 L105.41 212.89 L105.95 212.9 L106.48 212.92 L107.02 212.93 L107.57 212.93 L108.11 212.94 L108.66 212.95 L109.22 212.95 L109.77 212.96 L110.33 212.97 L110.9 212.97 L111.46 212.97 L112.03 212.98 L112.61 212.98 L113.18 212.98 L113.76 212.98 L114.34 212.99 L114.93 212.99 L115.52 212.99 L116.11 212.99 L116.7 212.99 L117.3 212.99 L117.9 212.99 L118.51 213 L119.11 213 L119.72 213 L120.34 213 L120.95 213 L121.57 213 L122.2 213 L122.82 213 L123.45 213 L124.08 213 L124.72 213 L125.36 213 L126 213 L126.65 213 L127.29 213 L127.94 213 L128.6 213 L129.26 213 L129.92 213 L130.58 213 L131.25 213 L131.91 213 L132.59 213 L133.26 213 L133.94 213 L134.62 213 L135.31 213 L136 213 L136.69 213 L137.38 213 L138.08 213 L138.78 213 L139.48 213 L140.19 213 L140.9 213 L141.61 213 L142.32 213 L143.04 213 L143.76 213 L144.49 213 L145.21 213 L145.94 213 L146.68 213 L147.41 213 L148.15 213 L148.9 213 L149.64 213 L150.39 213 L151.14 213 L151.89 213 L152.65 213 L153.41 213 L154.17 213 L154.94 213 L155.71 213 L156.48 213 L157.26 213 L158.03 213 L158.82 213 L159.6 213 L160.39 213 L161.18 213 L161.97 213 L162.76 213 L163.56 213 L164.36 213 L165.17 213 L165.98 213 L166.79 213 L167.6 213 L168.42 213 L169.23 213 L170.06 213 L170.88 213 L171.71 213 L172.54 213 L173.37 213 L174.21 213 L175.05 213 L175.89 213 L176.74 213 L177.58 213 L178.44 213 L179.29 213 L180.15 213 L181.01 213 L181.87 213 L182.73 213 L183.6 213 L184.47 213 L185.35 213 L186.22 213 L187.1 213 L187.99 213 L188.87 213 L189.76 213 L190.65 213 L191.55 213 L192.44 213 L193.34 213 L194.24 213 L195.15 213 L196.06 213 L196.97 213 L197.88 213 L198.8 213 L198.8 213Z" fill="#0000ff" fill-opacity="0.3" stroke="none"/>
<path d="M66.67 145.28 L66.68 145.33 L66.7 145.44 L66.72 145.6 L66.75 145.82 L66.78 146.08 L66.83 146.39 L66.87 146.74 L66.93 147.14 L66.99 147.57 L67.05 148.04 L67.12 148.55 L67.2 149.09 L67.28 149.66 L67.37 150.27 L67.46 150.91 L67.55 151.58 L67.66 152.27 L67.76 152.99 L67.87 153.74 L67.99 154.52 L68.11 155.31 L68.24 156.13 L68.37 156.97 L68.5 157.83 L68.64 158.71 L68.78 159.6 L68.93 160.51 L69.08 161.44 L69.24 162.38 L69.4 163.33 L69.57 164.29 L69.74 165.26 L69.91 166.24 L70.09 167.23 L70.28 168.23 L70.46 169.23 L70.65 170.23 L70.85 171.24 L71.05 172.25 L71.25 173.25 L71.46 174.26 L71.67 175.27 L71.89 176.28 L72.11 177.28 L72.34 178.27 L72.56 179.26 L72.8 180.25 L73.03 181.23 L73.27 182.19 L73.52 183.15 L73.77 184.1 L74.02 185.04 L74.27 185.97 L74.53 186.89 L74.8 187.79 L75.07 188.68 L75.34 189.55 L75.61 190.41 L75.89 191.26 L76.17 192.09 L76.46 192.9 L76.75 193.7 L77.05 194.47 L77.35 195.24 L77.65 195.98 L77.95 196.71 L78.26 197.41 L78.58 198.1 L78.89 198.77 L79.21 199.42 L79.54 200.06 L79.86 200.67 L80.2 201.26 L80.53 201.84 L80.87 202.4 L81.21 202.93 L81.56 203.45 L81.91 203.95 L82.26 204.44 L82.62 204.9 L82.98 205.35 L83.34 205.77 L83.71 206.19 L84.08 206.58 L84.46 206.96 L84.84 207.32 L85.22 207.66 L85.6 207.99 L85.99 208.3 L86.38 208.6 L86.78 208.88 L87.18 209.15 L87.58 209.41 L87.99 209.65 L88.4 209.88 L88.81 210.1 L89.23 210.3 L89.65 210.49 L90.07 210.67 L90.5 210.85 L90.93 211.01 L91.37 211.16 L91.8 211.3 L92.24 211.43 L92.69 211.56 L93.14 211.67 L93.59 211.78 L94.04 211.88 L94.5 211.97 L94.96 212.06 L95.42 212.14 L95.89 212.22 L96.36 212.28 L96.84 212.35 L97.32 212.41 L97.8 212.46 L98.28 212.51 L98.77 212.56 L99.26 212.6 L99.76 212.64 L100.25 212.67 L100.75 212.71 L101.26 212.74 L101.77 212.76 L102.28 212.79 L102.79 212.81 L103.31 212.83 L103.83 212.85 L104.35 212.86 L104.88 212.88 L105.41 212.89 L105.95 212.9 L106.48 212.92 L107.02 212.93 L107.57 212.93 L108.11 212.94 L108.66 212.95 L109.22 212.95 L109.77 212.96 L110.33 212.97 L110.9 212.97 L111.46 212.97 L112.03 212.98 L112.61 212.98 L113.18 212.98 L113.76 212.98 L114.34 212.99 L114.93 212.99 L115.52 212.99 L116.11 212.99 L116.7 212.99 L117.3 212.99 L117.9 212.99 L118.51 213 L119.11 213 L119.72 213 L120.34 213 L120.95 213 L121.57 213 L122.2 213 L122.82 213 L123.45 213 L124.08 213 L124.72 213 L125.36 213 L126 213 L126.65 213 L127.29 213 L127.94 213 L128.6 213 L129.26 213 L129.92 213 L130.58 213 L131.25 213 L131.91 213 L132.59 213 L133.26 213 L133.94 213 L134.62 213 L135.31 213 L136 213 L136.69 213 L137.38 213 L138.08 213 L138.78 213 L139.48 213 L140.19 213 L140.9 213 L141.61 213 L142.32 213 L143.04 213 L143.76 213 L144.49 213 L145.21 213 L145.94 213 L146.68 213 L147.41 213 L148.15 213 L148.9 213 L149.64 213 L150.39 213 L151.14 213 L151.89 213 L152.65 213 L153.41 213 L154.17 213 L154.94 213 L155.71 213 L156.48 213 L157.26 213 L158.03 213 L158.82 213 L159.6 213 L160.39 213 L161.18 213 L161.97 213 L162.76 213 L163.56 213 L164.36 213 L165.17 213 L165.98 213 L166.79 213 L167.6 213 L168.42 213 L169.23 213 L170.06 213 L170.88 213 L171.71 213 L172.54 213 L173.37 213 L174.21 213 L175.05 213 L175.89 213 L176.74 213 L177.58 213 L178.44 213 L179.29 213 L180.15 213 L181.01 213 L181.87 213 L182.73 213 L183.6 213 L184.47 213 L185.35 213 L186.22 213 L187.1 213 L187.99 213 L188.87 213 L189.76 213 L190.65 213 L191.55 213 L192.44 213 L193.34 213 L194.24 213 L195.15 213 L196.06 213 L196.97 213 L197.88 213 L198.8 213" fill="none" stroke="#0000ff" stroke-opacity="0.5" stroke-width="0.6"/>
<path d="M45.91 213 H66.67" fill="none" stroke="#0000ff" stroke-opacity="0.55" stroke-width="1.3"/>
<path d="M66.67 213 L66.67 135.8 L66.68 135.85 L66.7 135.96 L66.72 136.13 L66.75 136.36 L66.78 136.63 L66.83 136.95 L66.87 137.31 L66.93 137.72 L66.99 138.17 L67.05 138.66 L67.12 139.18 L67.2 139.75 L67.28 140.35 L67.37 140.98 L67.46 141.64 L67.55 142.34 L67.66 143.07 L67.76 143.83 L67.87 144.61 L67.99 145.42 L68.11 146.26 L68.24 147.12 L68.37 148.01 L68.5 148.91 L68.64 149.84 L68.78 150.79 L68.93 151.76 L69.08 152.74 L69.24 153.74 L69.4 154.76 L69.57 155.79 L69.74 156.83 L69.91 157.88 L70.09 158.94 L70.28 160.02 L70.46 161.1 L70.65 162.19 L70.85 163.28 L71.05 164.38 L71.25 165.48 L71.46 166.58 L71.67 167.69 L71.89 168.79 L72.11 169.89 L72.34 171 L72.56 172.09 L72.8 173.19 L73.03 174.28 L73.27 175.36 L73.52 176.44 L73.77 177.51 L74.02 178.57 L74.27 179.62 L74.53 180.66 L74.8 181.69 L75.07 182.7 L75.34 183.71 L75.61 184.7 L75.89 185.67 L76.17 186.63 L76.46 187.58 L76.75 188.51 L77.05 189.42 L77.35 190.32 L77.65 191.19 L77.95 192.05 L78.26 192.89 L78.58 193.72 L78.89 194.52 L79.21 195.3 L79.54 196.07 L79.86 196.81 L80.2 197.53 L80.53 198.24 L80.87 198.92 L81.21 199.59 L81.56 200.23 L81.91 200.85 L82.26 201.45 L82.62 202.04 L82.98 202.6 L83.34 203.14 L83.71 203.66 L84.08 204.17 L84.46 204.65 L84.84 205.12 L85.22 205.56 L85.6 205.99 L85.99 206.4 L86.38 206.79 L86.78 207.16 L87.18 207.52 L87.58 207.86 L87.99 208.19 L88.4 208.49 L88.81 208.79 L89.23 209.07 L89.65 209.33 L90.07 209.58 L90.5 209.82 L90.93 210.04 L91.37 210.25 L91.8 210.45 L92.24 210.64 L92.69 210.81 L93.14 210.98 L93.59 211.13 L94.04 211.28 L94.5 211.41 L94.96 211.54 L95.42 211.66 L95.89 211.77 L96.36 211.87 L96.84 211.97 L97.32 212.05 L97.8 212.14 L98.28 212.21 L98.77 212.28 L99.26 212.35 L99.76 212.41 L100.25 212.46 L100.75 212.51 L101.26 212.56" fill="none" stroke="#0000ff" stroke-width="1.5" stroke-linejoin="miter"/>
<path d="M101.26 212.56 L101.77 212.6 L102.28 212.64 L102.79 212.68 L103.31 212.71 L103.83 212.74 L104.35 212.77 L104.88 212.79 L105.41 212.81 L105.95 212.83 L106.48 212.85 L107.02 212.87 L107.57 212.88 L108.11 212.9 L108.66 212.91 L109.22 212.92 L109.77 212.93 L110.33 212.94 L110.9 212.94 L111.46 212.95 L112.03 212.96 L112.61 212.96 L113.18 212.97 L113.76 212.97 L114.34 212.97 L114.93 212.98 L115.52 212.98 L116.11 212.98 L116.7 212.99 L117.3 212.99 L117.9 212.99 L118.51 212.99 L119.11 212.99 L119.72 212.99 L120.34 212.99 L120.95 213 L121.57 213 L122.2 213 L122.82 213 L123.45 213 L124.08 213 L124.72 213 L125.36 213 L126 213 L126.65 213 L127.29 213 L127.94 213 L128.6 213 L129.26 213 L129.92 213 L130.58 213 L131.25 213 L131.91 213 L132.59 213 L133.26 213 L133.94 213 L134.62 213 L135.31 213 L136 213 L136.69 213 L137.38 213 L138.08 213 L138.78 213 L139.48 213 L140.19 213 L140.9 213 L141.61 213 L142.32 213 L143.04 213 L143.76 213 L144.49 213 L145.21 213 L145.94 213 L146.68 213 L147.41 213 L148.15 213 L148.9 213 L149.64 213 L150.39 213 L151.14 213 L151.89 213 L152.65 213 L153.41 213 L154.17 213 L154.94 213 L155.71 213 L156.48 213 L157.26 213 L158.03 213 L158.82 213 L159.6 213 L160.39 213 L161.18 213 L161.97 213 L162.76 213 L163.56 213 L164.36 213 L165.17 213 L165.98 213 L166.79 213 L167.6 213 L168.42 213 L169.23 213 L170.06 213 L170.88 213 L171.71 213 L172.54 213 L173.37 213 L174.21 213 L175.05 213 L175.89 213 L176.74 213 L177.58 213 L178.44 213 L179.29 213 L180.15 213 L181.01 213 L181.87 213 L182.73 213 L183.6 213 L184.47 213 L185.35 213 L186.22 213 L187.1 213 L187.99 213 L188.87 213 L189.76 213 L190.65 213 L191.55 213 L192.44 213 L193.34 213 L194.24 213 L195.15 213 L196.06 213 L196.97 213 L197.88 213 L198.8 213" fill="none" stroke="#0000ff" stroke-opacity="0.55" stroke-width="1.3"/>
<path d="M85.55 213 L85.55 157.79 L85.56 157.83 L85.57 157.92 L85.59 158.06 L85.61 158.24 L85.64 158.46 L85.68 158.71 L85.72 159 L85.77 159.33 L85.82 159.69 L85.87 160.07 L85.93 160.49 L86 160.94 L86.07 161.41 L86.14 161.91 L86.22 162.43 L86.3 162.98 L86.39 163.55 L86.48 164.14 L86.58 164.75 L86.68 165.37 L86.78 166.02 L86.89 166.68 L87 167.36 L87.11 168.05 L87.23 168.76 L87.36 169.47 L87.48 170.2 L87.62 170.94 L87.75 171.69 L87.89 172.44 L88.03 173.21 L88.18 173.97 L88.33 174.75 L88.48 175.53 L88.64 176.31 L88.8 177.09 L88.96 177.88 L89.13 178.66 L89.3 179.45 L89.47 180.24 L89.65 181.02 L89.83 181.8 L90.02 182.58 L90.21 183.35 L90.4 184.12 L90.6 184.88 L90.8 185.64 L91 186.39 L91.21 187.14 L91.41 187.87 L91.63 188.6 L91.84 189.32 L92.06 190.03 L92.29 190.73 L92.51 191.43 L92.74 192.11 L92.97 192.78 L93.21 193.44 L93.45 194.08 L93.69 194.72 L93.94 195.34 L94.19 195.96 L94.44 196.56 L94.7 197.14 L94.95 197.72 L95.22 198.28 L95.48 198.83 L95.75 199.37 L96.02 199.89 L96.3 200.4 L96.57 200.9 L96.86 201.38 L97.14 201.85 L97.43 202.31 L97.72 202.75 L98.01 203.18 L98.31 203.6 L98.61 204.01 L98.91 204.4 L99.22 204.78 L99.53 205.15 L99.84 205.51 L100.15 205.85 L100.47 206.19 L100.79 206.51 L101.12 206.82 L101.44 207.12 L101.77 207.4 L102.11 207.68 L102.44 207.95 L102.78 208.2 L103.13 208.45 L103.47 208.68 L103.82 208.91 L104.17 209.12 L104.53 209.33 L104.88 209.53 L105.24 209.72 L105.61 209.9 L105.97 210.07 L106.34 210.24 L106.71 210.4 L107.09 210.55 L107.47 210.69 L107.85 210.83 L108.23 210.96 L108.62 211.08 L109.01 211.2 L109.4 211.31 L109.79 211.41 L110.19 211.51 L110.59 211.61 L111 211.7 L111.4 211.78 L111.81 211.86 L112.23 211.93 L112.64 212.01 L113.06 212.07 L113.48 212.14 L113.9 212.19 L114.33 212.25 L114.76 212.3 L115.19 212.35 L115.63 212.4 L116.07 212.44 L116.51 212.48 L116.95 212.52 L117.4 212.56 L117.85 212.59 L118.3 212.62 L118.75 212.65 L119.21 212.68 L119.67 212.7 L120.13 212.72 L120.6 212.75 L121.07 212.77 L121.54 212.78 L122.02 212.8 L122.49 212.82 L122.97 212.83 L123.45 212.85 L123.94 212.86 L124.43 212.87 L124.92 212.88 L125.41 212.89 L125.91 212.9 L126.41 212.91 L126.91 212.92 L127.41 212.93 L127.92 212.93 L128.43 212.94 L128.94 212.94 L129.46 212.95 L129.98 212.95 L130.5 212.96 L131.02 212.96 L131.55 212.97 L132.07 212.97 L132.61 212.97 L133.14 212.97 L133.68 212.98 L134.22 212.98 L134.76 212.98 L135.3 212.98 L135.85 212.99 L136.4 212.99 L136.95 212.99 L137.51 212.99 L138.07 212.99 L138.63 212.99 L139.19 212.99 L139.76 212.99 L140.32 212.99 L140.9 212.99 L141.47 213 L142.05 213 L142.63 213 L143.21 213 L143.79 213 L144.38 213 L144.97 213 L145.56 213 L146.16 213 L146.75 213 L147.35 213 L147.96 213 L148.56 213 L149.17 213 L149.78 213 L150.39 213 L151.01 213 L151.63 213 L152.25 213 L152.87 213 L153.5 213 L154.12 213 L154.76 213 L155.39 213 L156.02 213 L156.66 213 L157.3 213 L157.95 213 L158.6 213 L159.24 213 L159.9 213 L160.55 213 L161.21 213 L161.87 213 L162.53 213 L163.19 213 L163.86 213 L164.53 213 L165.2 213 L165.87 213 L166.55 213 L167.23 213 L167.91 213 L168.6 213 L169.28 213 L169.97 213 L170.66 213 L171.36 213 L172.06 213 L172.76 213 L173.46 213 L174.16 213 L174.87 213 L175.58 213 L176.29 213 L177.01 213 L177.72 213 L178.44 213 L179.16 213 L179.89 213 L180.62 213 L181.34 213 L182.08 213 L182.81 213 L183.55 213 L184.29 213 L185.03 213 L185.77 213 L186.52 213 L187.27 213 L188.02 213 L188.77 213 L189.53 213 L190.29 213 L191.05 213 L191.82 213 L192.58 213 L193.35 213 L194.12 213 L194.9 213 L195.67 213 L196.45 213 L197.23 213 L198.01 213 L198.8 213 L198.8 213Z" fill="#ff0000" fill-opacity="0.3" stroke="none"/>
<path d="M85.55 157.79 L85.56 157.83 L85.57 157.92 L85.59 158.06 L85.61 158.24 L85.64 158.46 L85.68 158.71 L85.72 159 L85.77 159.33 L85.82 159.69 L85.87 160.07 L85.93 160.49 L86 160.94 L86.07 161.41 L86.14 161.91 L86.22 162.43 L86.3 162.98 L86.39 163.55 L86.48 164.14 L86.58 164.75 L86.68 165.37 L86.78 166.02 L86.89 166.68 L87 167.36 L87.11 168.05 L87.23 168.76 L87.36 169.47 L87.48 170.2 L87.62 170.94 L87.75 171.69 L87.89 172.44 L88.03 173.21 L88.18 173.97 L88.33 174.75 L88.48 175.53 L88.64 176.31 L88.8 177.09 L88.96 177.88 L89.13 178.66 L89.3 179.45 L89.47 180.24 L89.65 181.02 L89.83 181.8 L90.02 182.58 L90.21 183.35 L90.4 184.12 L90.6 184.88 L90.8 185.64 L91 186.39 L91.21 187.14 L91.41 187.87 L91.63 188.6 L91.84 189.32 L92.06 190.03 L92.29 190.73 L92.51 191.43 L92.74 192.11 L92.97 192.78 L93.21 193.44 L93.45 194.08 L93.69 194.72 L93.94 195.34 L94.19 195.96 L94.44 196.56 L94.7 197.14 L94.95 197.72 L95.22 198.28 L95.48 198.83 L95.75 199.37 L96.02 199.89 L96.3 200.4 L96.57 200.9 L96.86 201.38 L97.14 201.85 L97.43 202.31 L97.72 202.75 L98.01 203.18 L98.31 203.6 L98.61 204.01 L98.91 204.4 L99.22 204.78 L99.53 205.15 L99.84 205.51 L100.15 205.85 L100.47 206.19 L100.79 206.51 L101.12 206.82 L101.44 207.12 L101.77 207.4 L102.11 207.68 L102.44 207.95 L102.78 208.2 L103.13 208.45 L103.47 208.68 L103.82 208.91 L104.17 209.12 L104.53 209.33 L104.88 209.53 L105.24 209.72 L105.61 209.9 L105.97 210.07 L106.34 210.24 L106.71 210.4 L107.09 210.55 L107.47 210.69 L107.85 210.83 L108.23 210.96 L108.62 211.08 L109.01 211.2 L109.4 211.31 L109.79 211.41 L110.19 211.51 L110.59 211.61 L111 211.7 L111.4 211.78 L111.81 211.86 L112.23 211.93 L112.64 212.01 L113.06 212.07 L113.48 212.14 L113.9 212.19 L114.33 212.25 L114.76 212.3 L115.19 212.35 L115.63 212.4 L116.07 212.44 L116.51 212.48 L116.95 212.52 L117.4 212.56 L117.85 212.59 L118.3 212.62 L118.75 212.65 L119.21 212.68 L119.67 212.7 L120.13 212.72 L120.6 212.75 L121.07 212.77 L121.54 212.78 L122.02 212.8 L122.49 212.82 L122.97 212.83 L123.45 212.85 L123.94 212.86 L124.43 212.87 L124.92 212.88 L125.41 212.89 L125.91 212.9 L126.41 212.91 L126.91 212.92 L127.41 212.93 L127.92 212.93 L128.43 212.94 L128.94 212.94 L129.46 212.95 L129.98 212.95 L130.5 212.96 L131.02 212.96 L131.55 212.97 L132.07 212.97 L132.61 212.97 L133.14 212.97 L133.68 212.98 L134.22 212.98 L134.76 212.98 L135.3 212.98 L135.85 212.99 L136.4 212.99 L136.95 212.99 L137.51 212.99 L138.07 212.99 L138.63 212.99 L139.19 212.99 L139.76 212.99 L140.32 212.99 L140.9 212.99 L141.47 213 L142.05 213 L142.63 213 L143.21 213 L143.79 213 L144.38 213 L144.97 213 L145.56 213 L146.16 213 L146.75 213 L147.35 213 L147.96 213 L148.56 213 L149.17 213 L149.78 213 L150.39 213 L151.01 213 L151.63 213 L152.25 213 L152.87 213 L153.5 213 L154.12 213 L154.76 213 L155.39 213 L156.02 213 L156.66 213 L157.3 213 L157.95 213 L158.6 213 L159.24 213 L159.9 213 L160.55 213 L161.21 213 L161.87 213 L162.53 213 L163.19 213 L163.86 213 L164.53 213 L165.2 213 L165.87 213 L166.55 213 L167.23 213 L167.91 213 L168.6 213 L169.28 213 L169.97 213 L170.66 213 L171.36 213 L172.06 213 L172.76 213 L173.46 213 L174.16 213 L174.87 213 L175.58 213 L176.29 213 L177.01 213 L177.72 213 L178.44 213 L179.16 213 L179.89 213 L180.62 213 L181.34 213 L182.08 213 L182.81 213 L183.55 213 L184.29 213 L185.03 213 L185.77 213 L186.52 213 L187.27 213 L188.02 213 L188.77 213 L189.53 213 L190.29 213 L191.05 213 L191.82 213 L192.58 213 L193.35 213 L194.12 213 L194.9 213 L195.67 213 L196.45 213 L197.23 213 L198.01 213 L198.8 213" fill="none" stroke="#ff0000" stroke-opacity="0.5" stroke-width="0.6"/>
<path d="M45.91 213 H85.55" fill="none" stroke="#ff0000" stroke-opacity="0.55" stroke-width="1.3"/>
<path d="M85.55 213 L85.55 135.8 L85.56 135.85 L85.57 135.96 L85.59 136.14 L85.61 136.37 L85.64 136.65 L85.68 136.98 L85.72 137.35 L85.77 137.77 L85.82 138.23 L85.87 138.73 L85.93 139.26 L86 139.84 L86.07 140.44 L86.14 141.09 L86.22 141.76 L86.3 142.46 L86.39 143.2 L86.48 143.96 L86.58 144.75 L86.68 145.56 L86.78 146.4 L86.89 147.26 L87 148.14 L87.11 149.04 L87.23 149.96 L87.36 150.9 L87.48 151.85 L87.62 152.82 L87.75 153.8 L87.89 154.79 L88.03 155.79 L88.18 156.81 L88.33 157.83 L88.48 158.86 L88.64 159.9 L88.8 160.94 L88.96 161.98 L89.13 163.03 L89.3 164.08 L89.47 165.13 L89.65 166.18 L89.83 167.23 L90.02 168.28 L90.21 169.33 L90.4 170.37 L90.6 171.41 L90.8 172.44 L91 173.46 L91.21 174.48 L91.41 175.49 L91.63 176.49 L91.84 177.48 L92.06 178.46 L92.29 179.43 L92.51 180.39 L92.74 181.34 L92.97 182.27 L93.21 183.2 L93.45 184.11 L93.69 185 L93.94 185.88 L94.19 186.75 L94.44 187.6 L94.7 188.44 L94.95 189.26 L95.22 190.07 L95.48 190.86 L95.75 191.63 L96.02 192.39 L96.3 193.13 L96.57 193.85 L96.86 194.56 L97.14 195.25 L97.43 195.92 L97.72 196.58 L98.01 197.22 L98.31 197.84 L98.61 198.45 L98.91 199.04 L99.22 199.61 L99.53 200.17 L99.84 200.71 L100.15 201.23 L100.47 201.74 L100.79 202.23 L101.12 202.71 L101.44 203.17 L101.77 203.61 L102.11 204.04 L102.44 204.46 L102.78 204.86 L103.13 205.25 L103.47 205.62 L103.82 205.98 L104.17 206.32 L104.53 206.66 L104.88 206.97 L105.24 207.28 L105.61 207.58 L105.97 207.86 L106.34 208.13 L106.71 208.39 L107.09 208.63 L107.47 208.87 L107.85 209.1 L108.23 209.31 L108.62 209.52 L109.01 209.72 L109.4 209.91 L109.79 210.09 L110.19 210.26 L110.59 210.42 L111 210.57 L111.4 210.72 L111.81 210.86 L112.23 210.99 L112.64 211.11 L113.06 211.23 L113.48 211.35 L113.9 211.45 L114.33 211.55 L114.76 211.65 L115.19 211.74 L115.63 211.82 L116.07 211.9 L116.51 211.97 L116.95 212.04 L117.4 212.11 L117.85 212.17 L118.3 212.23 L118.75 212.29 L119.21 212.34 L119.67 212.39 L120.13 212.43 L120.6 212.47 L121.07 212.51 L121.54 212.55" fill="none" stroke="#ff0000" stroke-width="1.5" stroke-linejoin="miter"/>
<path d="M121.54 212.55 L122.02 212.58 L122.49 212.62 L122.97 212.65 L123.45 212.67 L123.94 212.7 L124.43 212.72 L124.92 212.74 L125.41 212.77 L125.91 212.78 L126.41 212.8 L126.91 212.82 L127.41 212.83 L127.92 212.85 L128.43 212.86 L128.94 212.87 L129.46 212.88 L129.98 212.89 L130.5 212.9 L131.02 212.91 L131.55 212.92 L132.07 212.93 L132.61 212.93 L133.14 212.94 L133.68 212.95 L134.22 212.95 L134.76 212.96 L135.3 212.96 L135.85 212.96 L136.4 212.97 L136.95 212.97 L137.51 212.97 L138.07 212.98 L138.63 212.98 L139.19 212.98 L139.76 212.98 L140.32 212.98 L140.9 212.99 L141.47 212.99 L142.05 212.99 L142.63 212.99 L143.21 212.99 L143.79 212.99 L144.38 212.99 L144.97 212.99 L145.56 212.99 L146.16 212.99 L146.75 213 L147.35 213 L147.96 213 L148.56 213 L149.17 213 L149.78 213 L150.39 213 L151.01 213 L151.63 213 L152.25 213 L152.87 213 L153.5 213 L154.12 213 L154.76 213 L155.39 213 L156.02 213 L156.66 213 L157.3 213 L157.95 213 L158.6 213 L159.24 213 L159.9 213 L160.55 213 L161.21 213 L161.87 213 L162.53 213 L163.19 213 L163.86 213 L164.53 213 L165.2 213 L165.87 213 L166.55 213 L167.23 213 L167.91 213 L168.6 213 L169.28 213 L169.97 213 L170.66 213 L171.36 213 L172.06 213 L172.76 213 L173.46 213 L174.16 213 L174.87 213 L175.58 213 L176.29 213 L177.01 213 L177.72 213 L178.44 213 L179.16 213 L179.89 213 L180.62 213 L181.34 213 L182.08 213 L182.81 213 L183.55 213 L184.29 213 L185.03 213 L185.77 213 L186.52 213 L187.27 213 L188.02 213 L188.77 213 L189.53 213 L190.29 213 L191.05 213 L191.82 213 L192.58 213 L193.35 213 L194.12 213 L194.9 213 L195.67 213 L196.45 213 L197.23 213 L198.01 213 L198.8 213" fill="none" stroke="#ff0000" stroke-opacity="0.55" stroke-width="1.3"/>
<path d="M104.42 213 L104.42 168.32 L104.43 168.34 L104.44 168.38 L104.46 168.45 L104.48 168.54 L104.5 168.65 L104.53 168.77 L104.57 168.91 L104.61 169.08 L104.65 169.25 L104.69 169.45 L104.75 169.66 L104.8 169.88 L104.86 170.12 L104.92 170.37 L104.98 170.64 L105.05 170.92 L105.13 171.22 L105.2 171.53 L105.28 171.85 L105.36 172.18 L105.45 172.53 L105.54 172.89 L105.63 173.26 L105.73 173.64 L105.83 174.03 L105.93 174.43 L106.04 174.84 L106.15 175.27 L106.26 175.7 L106.37 176.14 L106.49 176.59 L106.61 177.05 L106.74 177.52 L106.87 177.99 L107 178.47 L107.13 178.96 L107.27 179.46 L107.41 179.96 L107.55 180.47 L107.7 180.99 L107.84 181.51 L108 182.03 L108.15 182.56 L108.31 183.09 L108.47 183.63 L108.63 184.17 L108.8 184.72 L108.97 185.26 L109.14 185.81 L109.31 186.36 L109.49 186.91 L109.67 187.47 L109.85 188.02 L110.04 188.57 L110.23 189.13 L110.42 189.68 L110.61 190.23 L110.81 190.78 L111.01 191.33 L111.21 191.88 L111.42 192.42 L111.62 192.96 L111.83 193.5 L112.05 194.03 L112.26 194.56 L112.48 195.09 L112.7 195.61 L112.93 196.12 L113.15 196.63 L113.38 197.14 L113.61 197.64 L113.85 198.13 L114.08 198.61 L114.32 199.09 L114.56 199.56 L114.81 200.03 L115.06 200.48 L115.31 200.93 L115.56 201.37 L115.81 201.8 L116.07 202.23 L116.33 202.64 L116.59 203.05 L116.86 203.44 L117.13 203.83 L117.4 204.21 L117.67 204.58 L117.95 204.94 L118.22 205.29 L118.5 205.63 L118.79 205.96 L119.07 206.28 L119.36 206.59 L119.65 206.9 L119.94 207.19 L120.24 207.47 L120.54 207.75 L120.84 208.01 L121.14 208.27 L121.44 208.52 L121.75 208.75 L122.06 208.98 L122.37 209.2 L122.69 209.41 L123.01 209.61 L123.33 209.81 L123.65 209.99 L123.97 210.17 L124.3 210.34 L124.63 210.5 L124.96 210.66 L125.29 210.8 L125.63 210.94 L125.97 211.08 L126.31 211.2 L126.66 211.32 L127 211.44 L127.35 211.54 L127.7 211.64 L128.05 211.74 L128.41 211.83 L128.77 211.92 L129.13 212 L129.49 212.07 L129.86 212.14 L130.22 212.21 L130.59 212.27 L130.96 212.33 L131.34 212.38 L131.72 212.43 L132.09 212.48 L132.48 212.52 L132.86 212.56 L133.25 212.6 L133.63 212.63 L134.02 212.67 L134.42 212.7 L134.81 212.72 L135.21 212.75 L135.61 212.77 L136.01 212.79 L136.42 212.81 L136.82 212.83 L137.23 212.85 L137.64 212.86 L138.06 212.88 L138.47 212.89 L138.89 212.9 L139.31 212.91 L139.73 212.92 L140.16 212.93 L140.59 212.94 L141.01 212.94 L141.45 212.95 L141.88 212.96 L142.32 212.96 L142.75 212.96 L143.2 212.97 L143.64 212.97 L144.08 212.98 L144.53 212.98 L144.98 212.98 L145.43 212.98 L145.89 212.99 L146.34 212.99 L146.8 212.99 L147.26 212.99 L147.72 212.99 L148.19 212.99 L148.66 212.99 L149.13 212.99 L149.6 213 L150.07 213 L150.55 213 L151.02 213 L151.51 213 L151.99 213 L152.47 213 L152.96 213 L153.45 213 L153.94 213 L154.43 213 L154.93 213 L155.43 213 L155.93 213 L156.43 213 L156.93 213 L157.44 213 L157.95 213 L158.46 213 L158.97 213 L159.49 213 L160.01 213 L160.52 213 L161.05 213 L161.57 213 L162.1 213 L162.62 213 L163.15 213 L163.69 213 L164.22 213 L164.76 213 L165.3 213 L165.84 213 L166.38 213 L166.92 213 L167.47 213 L168.02 213 L168.57 213 L169.13 213 L169.68 213 L170.24 213 L170.8 213 L171.36 213 L171.93 213 L172.49 213 L173.06 213 L173.63 213 L174.2 213 L174.78 213 L175.35 213 L175.93 213 L176.51 213 L177.1 213 L177.68 213 L178.27 213 L178.86 213 L179.45 213 L180.04 213 L180.64 213 L181.24 213 L181.83 213 L182.44 213 L183.04 213 L183.65 213 L184.25 213 L184.86 213 L185.48 213 L186.09 213 L186.71 213 L187.32 213 L187.94 213 L188.57 213 L189.19 213 L189.82 213 L190.45 213 L191.08 213 L191.71 213 L192.34 213 L192.98 213 L193.62 213 L194.26 213 L194.9 213 L195.55 213 L196.19 213 L196.84 213 L197.49 213 L198.15 213 L198.8 213 L198.8 213Z" fill="#555555" fill-opacity="0.3" stroke="none"/>
<path d="M104.42 168.32 L104.43 168.34 L104.44 168.38 L104.46 168.45 L104.48 168.54 L104.5 168.65 L104.53 168.77 L104.57 168.91 L104.61 169.08 L104.65 169.25 L104.69 169.45 L104.75 169.66 L104.8 169.88 L104.86 170.12 L104.92 170.37 L104.98 170.64 L105.05 170.92 L105.13 171.22 L105.2 171.53 L105.28 171.85 L105.36 172.18 L105.45 172.53 L105.54 172.89 L105.63 173.26 L105.73 173.64 L105.83 174.03 L105.93 174.43 L106.04 174.84 L106.15 175.27 L106.26 175.7 L106.37 176.14 L106.49 176.59 L106.61 177.05 L106.74 177.52 L106.87 177.99 L107 178.47 L107.13 178.96 L107.27 179.46 L107.41 179.96 L107.55 180.47 L107.7 180.99 L107.84 181.51 L108 182.03 L108.15 182.56 L108.31 183.09 L108.47 183.63 L108.63 184.17 L108.8 184.72 L108.97 185.26 L109.14 185.81 L109.31 186.36 L109.49 186.91 L109.67 187.47 L109.85 188.02 L110.04 188.57 L110.23 189.13 L110.42 189.68 L110.61 190.23 L110.81 190.78 L111.01 191.33 L111.21 191.88 L111.42 192.42 L111.62 192.96 L111.83 193.5 L112.05 194.03 L112.26 194.56 L112.48 195.09 L112.7 195.61 L112.93 196.12 L113.15 196.63 L113.38 197.14 L113.61 197.64 L113.85 198.13 L114.08 198.61 L114.32 199.09 L114.56 199.56 L114.81 200.03 L115.06 200.48 L115.31 200.93 L115.56 201.37 L115.81 201.8 L116.07 202.23 L116.33 202.64 L116.59 203.05 L116.86 203.44 L117.13 203.83 L117.4 204.21 L117.67 204.58 L117.95 204.94 L118.22 205.29 L118.5 205.63 L118.79 205.96 L119.07 206.28 L119.36 206.59 L119.65 206.9 L119.94 207.19 L120.24 207.47 L120.54 207.75 L120.84 208.01 L121.14 208.27 L121.44 208.52 L121.75 208.75 L122.06 208.98 L122.37 209.2 L122.69 209.41 L123.01 209.61 L123.33 209.81 L123.65 209.99 L123.97 210.17 L124.3 210.34 L124.63 210.5 L124.96 210.66 L125.29 210.8 L125.63 210.94 L125.97 211.08 L126.31 211.2 L126.66 211.32 L127 211.44 L127.35 211.54 L127.7 211.64 L128.05 211.74 L128.41 211.83 L128.77 211.92 L129.13 212 L129.49 212.07 L129.86 212.14 L130.22 212.21 L130.59 212.27 L130.96 212.33 L131.34 212.38 L131.72 212.43 L132.09 212.48 L132.48 212.52 L132.86 212.56 L133.25 212.6 L133.63 212.63 L134.02 212.67 L134.42 212.7 L134.81 212.72 L135.21 212.75 L135.61 212.77 L136.01 212.79 L136.42 212.81 L136.82 212.83 L137.23 212.85 L137.64 212.86 L138.06 212.88 L138.47 212.89 L138.89 212.9 L139.31 212.91 L139.73 212.92 L140.16 212.93 L140.59 212.94 L141.01 212.94 L141.45 212.95 L141.88 212.96 L142.32 212.96 L142.75 212.96 L143.2 212.97 L143.64 212.97 L144.08 212.98 L144.53 212.98 L144.98 212.98 L145.43 212.98 L145.89 212.99 L146.34 212.99 L146.8 212.99 L147.26 212.99 L147.72 212.99 L148.19 212.99 L148.66 212.99 L149.13 212.99 L149.6 213 L150.07 213 L150.55 213 L151.02 213 L151.51 213 L151.99 213 L152.47 213 L152.96 213 L153.45 213 L153.94 213 L154.43 213 L154.93 213 L155.43 213 L155.93 213 L156.43 213 L156.93 213 L157.44 213 L157.95 213 L158.46 213 L158.97 213 L159.49 213 L160.01 213 L160.52 213 L161.05 213 L161.57 213 L162.1 213 L162.62 213 L163.15 213 L163.69 213 L164.22 213 L164.76 213 L165.3 213 L165.84 213 L166.38 213 L166.92 213 L167.47 213 L168.02 213 L168.57 213 L169.13 213 L169.68 213 L170.24 213 L170.8 213 L171.36 213 L171.93 213 L172.49 213 L173.06 213 L173.63 213 L174.2 213 L174.78 213 L175.35 213 L175.93 213 L176.51 213 L177.1 213 L177.68 213 L178.27 213 L178.86 213 L179.45 213 L180.04 213 L180.64 213 L181.24 213 L181.83 213 L182.44 213 L183.04 213 L183.65 213 L184.25 213 L184.86 213 L185.48 213 L186.09 213 L186.71 213 L187.32 213 L187.94 213 L188.57 213 L189.19 213 L189.82 213 L190.45 213 L191.08 213 L191.71 213 L192.34 213 L192.98 213 L193.62 213 L194.26 213 L194.9 213 L195.55 213 L196.19 213 L196.84 213 L197.49 213 L198.15 213 L198.8 213" fill="none" stroke="#555555" stroke-opacity="0.5" stroke-width="0.6"/>
<path d="M45.91 213 H104.42" fill="none" stroke="#555555" stroke-opacity="0.55" stroke-width="1.3"/>
<path d="M104.42 213 L104.42 135.8 L104.43 135.83 L104.44 135.9 L104.46 136 L104.48 136.13 L104.5 136.29 L104.53 136.49 L104.57 136.71 L104.61 136.95 L104.65 137.22 L104.69 137.52 L104.75 137.84 L104.8 138.18 L104.86 138.55 L104.92 138.94 L104.98 139.35 L105.05 139.78 L105.13 140.24 L105.2 140.71 L105.28 141.21 L105.36 141.73 L105.45 142.26 L105.54 142.82 L105.63 143.39 L105.73 143.98 L105.83 144.59 L105.93 145.22 L106.04 145.87 L106.15 146.53 L106.26 147.21 L106.37 147.9 L106.49 148.61 L106.61 149.33 L106.74 150.07 L106.87 150.83 L107 151.59 L107.13 152.37 L107.27 153.16 L107.41 153.97 L107.55 154.78 L107.7 155.61 L107.84 156.45 L108 157.3 L108.15 158.15 L108.31 159.02 L108.47 159.89 L108.63 160.78 L108.8 161.67 L108.97 162.56 L109.14 163.46 L109.31 164.37 L109.49 165.28 L109.67 166.2 L109.85 167.12 L110.04 168.04 L110.23 168.97 L110.42 169.9 L110.61 170.82 L110.81 171.75 L111.01 172.68 L111.21 173.61 L111.42 174.53 L111.62 175.45 L111.83 176.38 L112.05 177.29 L112.26 178.21 L112.48 179.11 L112.7 180.02 L112.93 180.91 L113.15 181.8 L113.38 182.69 L113.61 183.56 L113.85 184.43 L114.08 185.29 L114.32 186.14 L114.56 186.98 L114.81 187.81 L115.06 188.62 L115.31 189.43 L115.56 190.22 L115.81 191.01 L116.07 191.78 L116.33 192.53 L116.59 193.28 L116.86 194.01 L117.13 194.72 L117.4 195.42 L117.67 196.11 L117.95 196.78 L118.22 197.44 L118.5 198.08 L118.79 198.7 L119.07 199.31 L119.36 199.91 L119.65 200.48 L119.94 201.05 L120.24 201.59 L120.54 202.12 L120.84 202.64 L121.14 203.13 L121.44 203.62 L121.75 204.08 L122.06 204.53 L122.37 204.97 L122.69 205.39 L123.01 205.79 L123.33 206.18 L123.65 206.55 L123.97 206.91 L124.3 207.25 L124.63 207.58 L124.96 207.9 L125.29 208.2 L125.63 208.49 L125.97 208.77 L126.31 209.03 L126.66 209.28 L127 209.52 L127.35 209.74 L127.7 209.96 L128.05 210.16 L128.41 210.35 L128.77 210.54 L129.13 210.71 L129.49 210.87 L129.86 211.02 L130.22 211.17 L130.59 211.3 L130.96 211.43 L131.34 211.55 L131.72 211.66 L132.09 211.77 L132.48 211.87 L132.86 211.96 L133.25 212.04 L133.63 212.12 L134.02 212.2 L134.42 212.26 L134.81 212.33 L135.21 212.39 L135.61 212.44 L136.01 212.49 L136.42 212.54" fill="none" stroke="#555555" stroke-width="1.5" stroke-linejoin="miter"/>
<path d="M136.42 212.54 L136.82 212.58 L137.23 212.62 L137.64 212.66 L138.06 212.69 L138.47 212.72 L138.89 212.75 L139.31 212.77 L139.73 212.79 L140.16 212.82 L140.59 212.83 L141.01 212.85 L141.45 212.87 L141.88 212.88 L142.32 212.89 L142.75 212.91 L143.2 212.92 L143.64 212.93 L144.08 212.93 L144.53 212.94 L144.98 212.95 L145.43 212.96 L145.89 212.96 L146.34 212.97 L146.8 212.97 L147.26 212.97 L147.72 212.98 L148.19 212.98 L148.66 212.98 L149.13 212.98 L149.6 212.99 L150.07 212.99 L150.55 212.99 L151.02 212.99 L151.51 212.99 L151.99 212.99 L152.47 212.99 L152.96 213 L153.45 213 L153.94 213 L154.43 213 L154.93 213 L155.43 213 L155.93 213 L156.43 213 L156.93 213 L157.44 213 L157.95 213 L158.46 213 L158.97 213 L159.49 213 L160.01 213 L160.52 213 L161.05 213 L161.57 213 L162.1 213 L162.62 213 L163.15 213 L163.69 213 L164.22 213 L164.76 213 L165.3 213 L165.84 213 L166.38 213 L166.92 213 L167.47 213 L168.02 213 L168.57 213 L169.13 213 L169.68 213 L170.24 213 L170.8 213 L171.36 213 L171.93 213 L172.49 213 L173.06 213 L173.63 213 L174.2 213 L174.78 213 L175.35 213 L175.93 213 L176.51 213 L177.1 213 L177.68 213 L178.27 213 L178.86 213 L179.45 213 L180.04 213 L180.64 213 L181.24 213 L181.83 213 L182.44 213 L183.04 213 L183.65 213 L184.25 213 L184.86 213 L185.48 213 L186.09 213 L186.71 213 L187.32 213 L187.94 213 L188.57 213 L189.19 213 L189.82 213 L190.45 213 L191.08 213 L191.71 213 L192.34 213 L192.98 213 L193.62 213 L194.26 213 L194.9 213 L195.55 213 L196.19 213 L196.84 213 L197.49 213 L198.15 213 L198.8 213" fill="none" stroke="#555555" stroke-opacity="0.55" stroke-width="1.3"/>
<path d="M45.91 213 H65.92" stroke="#96523c" stroke-width="1.3" fill="none"/>
<path d="M67.42 213 H84.8" stroke="#6a3a7a" stroke-width="1.3" fill="none"/>
<path d="M45.91 135.8 L47.8 135.8 L48.31 135.81 L48.81 135.85 L49.32 135.92 L49.82 136.01 L50.33 136.12 L50.83 136.25 L51.34 136.4 L51.84 136.57 L52.35 136.75 L52.85 136.95 L53.36 137.16 L53.86 137.38 L54.37 137.62 L54.87 137.86 L55.38 138.12 L55.88 138.39 L56.39 138.66 L56.89 138.94 L57.4 139.23 L57.9 139.53 L58.41 139.83 L58.91 140.14 L59.42 140.45 L59.92 140.77 L60.43 141.09 L60.93 141.42 L61.44 141.75 L61.94 142.08 L62.45 142.41 L62.95 142.75 L63.46 143.09 L63.96 143.43 L64.47 143.77 L64.97 144.12 L65.48 144.46 L65.98 144.81 L66.49 145.15 L66.99 145.5 L67.5 145.85 L68 146.2 L68.51 146.54 L69.01 146.89 L69.52 147.24 L70.02 147.59 L70.53 147.93 L71.03 148.28 L71.54 148.63 L72.04 148.97 L72.55 149.32 L73.05 149.66 L73.56 150 L74.06 150.35 L74.57 150.69 L75.07 151.03 L75.58 151.37 L76.08 151.71 L76.59 152.04 L77.09 152.38 L77.6 152.71 L78.1 153.04 L78.61 153.38 L79.11 153.71 L79.62 154.04 L80.12 154.36 L80.63 154.69 L81.13 155.01 L81.64 155.34 L82.14 155.66 L82.65 155.98 L83.15 156.3 L83.66 156.61 L84.16 156.93 L84.67 157.24 L85.17 157.56 L85.68 157.87 L86.18 158.18 L86.69 158.49 L87.19 158.79 L87.7 159.1 L88.2 159.4 L88.71 159.7 L89.21 160 L89.72 160.3 L90.22 160.6 L90.73 160.89 L91.23 161.19 L91.74 161.48 L92.24 161.77 L92.75 162.06 L93.25 162.35 L93.76 162.63 L94.26 162.92 L94.77 163.2 L95.27 163.48 L95.78 163.76 L96.28 164.04 L96.79 164.32 L97.29 164.59 L97.8 164.86 L98.3 165.14 L98.81 165.41 L99.31 165.68 L99.82 165.94 L100.32 166.21 L100.83 166.48 L101.33 166.74 L101.84 167 L102.34 167.26 L102.85 167.52 L103.35 167.78 L103.86 168.03 L104.36 168.29 L104.87 168.54 L105.37 168.79 L105.88 169.04 L106.38 169.29 L106.89 169.54 L107.39 169.79 L107.9 170.03 L108.4 170.27 L108.91 170.52 L109.41 170.76 L109.92 171 L110.42 171.23 L110.93 171.47 L111.43 171.71 L111.94 171.94 L112.44 172.17 L112.95 172.4 L113.45 172.64 L113.96 172.86 L114.46 173.09 L114.97 173.32 L115.47 173.54 L115.98 173.77 L116.48 173.99 L116.99 174.21 L117.49 174.43 L118 174.65 L118.5 174.87 L119.01 175.08 L119.51 175.3 L120.02 175.51 L120.52 175.72 L121.03 175.93 L121.53 176.14 L122.04 176.35 L122.54 176.56 L123.05 176.77 L123.55 176.97 L124.06 177.18 L124.56 177.38 L125.07 177.58 L125.57 177.78 L126.08 177.98 L126.58 178.18 L127.09 178.38 L127.59 178.57 L128.1 178.77 L128.6 178.96 L129.11 179.16 L129.61 179.35 L130.12 179.54 L130.62 179.73 L131.13 179.92 L131.63 180.11 L132.14 180.29 L132.64 180.48 L133.15 180.66 L133.65 180.84 L134.16 181.03 L134.66 181.21 L135.17 181.39 L135.67 181.57 L136.18 181.75 L136.68 181.92 L137.19 182.1 L137.69 182.27 L138.2 182.45 L138.7 182.62 L139.21 182.79 L139.71 182.97 L140.22 183.14 L140.72 183.31 L141.23 183.47 L141.73 183.64 L142.24 183.81 L142.74 183.97 L143.25 184.14 L143.75 184.3 L144.26 184.46 L144.76 184.63 L145.27 184.79 L145.77 184.95 L146.28 185.11 L146.78 185.26 L147.29 185.42 L147.79 185.58 L148.3 185.73 L148.8 185.89 L149.31 186.04 L149.81 186.19 L150.32 186.35 L150.82 186.5 L151.33 186.65 L151.83 186.8 L152.34 186.95 L152.84 187.09 L153.35 187.24 L153.85 187.39 L154.36 187.53 L154.86 187.68 L155.37 187.82 L155.87 187.96 L156.38 188.1 L156.88 188.24 L157.39 188.39 L157.89 188.52 L158.4 188.66 L158.9 188.8 L159.41 188.94 L159.91 189.08 L160.42 189.21 L160.92 189.35 L161.43 189.48 L161.93 189.61 L162.44 189.75 L162.94 189.88 L163.45 190.01 L163.95 190.14 L164.46 190.27 L164.96 190.4 L165.47 190.53 L165.97 190.65 L166.48 190.78 L166.98 190.91 L167.49 191.03 L167.99 191.16 L168.5 191.28 L169 191.4 L169.51 191.52 L170.01 191.65 L170.52 191.77 L171.02 191.89 L171.53 192.01 L172.03 192.13 L172.54 192.25 L173.04 192.36 L173.55 192.48 L174.05 192.6 L174.56 192.71 L175.06 192.83 L175.57 192.94 L176.07 193.05 L176.58 193.17 L177.08 193.28 L177.59 193.39 L178.09 193.5 L178.6 193.61 L179.1 193.72 L179.61 193.83 L180.11 193.94 L180.62 194.05 L181.12 194.16 L181.63 194.26 L182.13 194.37 L182.64 194.48 L183.14 194.58 L183.65 194.69 L184.15 194.79 L184.66 194.89 L185.16 195 L185.67 195.1 L186.17 195.2 L186.68 195.3 L187.18 195.4 L187.69 195.5 L188.19 195.6 L188.7 195.7 L189.2 195.8 L189.71 195.89 L190.21 195.99 L190.72 196.09 L191.22 196.18 L191.73 196.28 L192.23 196.37 L192.74 196.47 L193.24 196.56 L193.75 196.65 L194.25 196.75 L194.76 196.84 L195.26 196.93 L195.77 197.02 L196.27 197.11 L196.78 197.2 L197.28 197.29 L197.79 197.38 L198.29 197.47 L198.8 197.56" fill="none" stroke="#000" stroke-width="1.4"/>
</g>
<rect x="40.4" y="130" width="165.1" height="90.6" fill="none" stroke="#3a3a3a" stroke-width="1.1"/>
<path d="M47.8 130 v1.2 M47.8 220.6 v-1.2 M55.35 130 v1.2 M55.35 220.6 v-1.2 M62.9 130 v1.2 M62.9 220.6 v-1.2 M70.45 130 v1.2 M70.45 220.6 v-1.2 M78 130 v1.2 M78 220.6 v-1.2 M85.55 130 v1.2 M85.55 220.6 v-1.2 M93.1 130 v1.2 M93.1 220.6 v-1.2 M100.65 130 v1.2 M100.65 220.6 v-1.2 M108.2 130 v1.2 M108.2 220.6 v-1.2 M115.75 130 v1.2 M115.75 220.6 v-1.2 M123.3 130 v1.2 M123.3 220.6 v-1.2 M130.85 130 v1.2 M130.85 220.6 v-1.2 M138.4 130 v1.2 M138.4 220.6 v-1.2 M145.95 130 v1.2 M145.95 220.6 v-1.2 M153.5 130 v1.2 M153.5 220.6 v-1.2 M161.05 130 v1.2 M161.05 220.6 v-1.2 M168.6 130 v1.2 M168.6 220.6 v-1.2 M176.15 130 v1.2 M176.15 220.6 v-1.2 M183.7 130 v1.2 M183.7 220.6 v-1.2 M191.25 130 v1.2 M191.25 220.6 v-1.2 M198.8 130 v1.2 M198.8 220.6 v-1.2 " stroke="#111" stroke-width="0.7" fill="none"/>
<path d="M47.8 130 v2 M47.8 220.6 v-2 M78 130 v2 M78 220.6 v-2 M108.2 130 v2 M108.2 220.6 v-2 M138.4 130 v2 M138.4 220.6 v-2 M168.6 130 v2 M168.6 220.6 v-2 M198.8 130 v2 M198.8 220.6 v-2 " stroke="#111" stroke-width="0.8" fill="none"/>
<path d="M40.4 213 h1.2 M205.5 213 h-1.2 M40.4 209.14 h1.2 M205.5 209.14 h-1.2 M40.4 205.28 h1.2 M205.5 205.28 h-1.2 M40.4 201.42 h1.2 M205.5 201.42 h-1.2 M40.4 197.56 h1.2 M205.5 197.56 h-1.2 M40.4 193.7 h1.2 M205.5 193.7 h-1.2 M40.4 189.84 h1.2 M205.5 189.84 h-1.2 M40.4 185.98 h1.2 M205.5 185.98 h-1.2 M40.4 182.12 h1.2 M205.5 182.12 h-1.2 M40.4 178.26 h1.2 M205.5 178.26 h-1.2 M40.4 174.4 h1.2 M205.5 174.4 h-1.2 M40.4 170.54 h1.2 M205.5 170.54 h-1.2 M40.4 166.68 h1.2 M205.5 166.68 h-1.2 M40.4 162.82 h1.2 M205.5 162.82 h-1.2 M40.4 158.96 h1.2 M205.5 158.96 h-1.2 M40.4 155.1 h1.2 M205.5 155.1 h-1.2 M40.4 151.24 h1.2 M205.5 151.24 h-1.2 M40.4 147.38 h1.2 M205.5 147.38 h-1.2 M40.4 143.52 h1.2 M205.5 143.52 h-1.2 M40.4 139.66 h1.2 M205.5 139.66 h-1.2 M40.4 135.8 h1.2 M205.5 135.8 h-1.2 " stroke="#111" stroke-width="0.7" fill="none"/>
<path d="M40.4 213 h2 M205.5 213 h-2 M40.4 197.56 h2 M205.5 197.56 h-2 M40.4 182.12 h2 M205.5 182.12 h-2 M40.4 166.68 h2 M205.5 166.68 h-2 M40.4 151.24 h2 M205.5 151.24 h-2 M40.4 135.8 h2 M205.5 135.8 h-2 " stroke="#111" stroke-width="0.8" fill="none"/>
<text transform="translate(37.8 216.5) scale(1.02 1)" font-size="9.8" text-anchor="end" fill="#1a1a1a">0.0</text>
<text transform="translate(47.8 231.8) scale(1.06 1)" font-size="9.9" text-anchor="middle" fill="#1a1a1a">0.0</text>
<text transform="translate(37.8 201.06) scale(1.02 1)" font-size="9.8" text-anchor="end" fill="#1a1a1a">0.2</text>
<text transform="translate(78 231.8) scale(1.06 1)" font-size="9.9" text-anchor="middle" fill="#1a1a1a">0.2</text>
<text transform="translate(37.8 185.62) scale(1.02 1)" font-size="9.8" text-anchor="end" fill="#1a1a1a">0.4</text>
<text transform="translate(108.2 231.8) scale(1.06 1)" font-size="9.9" text-anchor="middle" fill="#1a1a1a">0.4</text>
<text transform="translate(37.8 170.18) scale(1.02 1)" font-size="9.8" text-anchor="end" fill="#1a1a1a">0.6</text>
<text transform="translate(138.4 231.8) scale(1.06 1)" font-size="9.9" text-anchor="middle" fill="#1a1a1a">0.6</text>
<text transform="translate(37.8 154.74) scale(1.02 1)" font-size="9.8" text-anchor="end" fill="#1a1a1a">0.8</text>
<text transform="translate(168.6 231.8) scale(1.06 1)" font-size="9.9" text-anchor="middle" fill="#1a1a1a">0.8</text>
<text transform="translate(37.8 139.3) scale(1.02 1)" font-size="9.8" text-anchor="end" fill="#1a1a1a">1.0</text>
<text transform="translate(198.8 231.8) scale(1.06 1)" font-size="9.9" text-anchor="middle" fill="#1a1a1a">1.0</text>
<text x="122.8" y="250" font-size="10.5" text-anchor="middle" fill="#1a1a1a" font-style="italic" letter-spacing="0.4">t/T</text>
<text transform="translate(14.9 176.3) rotate(-90)" font-size="10.3" letter-spacing="0.25" text-anchor="middle" fill="#1a1a1a" font-style="italic">r<tspan font-size="7" dy="1.5">s</tspan><tspan dy="-1.5">(t), k</tspan><tspan font-size="8" dy="4">*</tspan><tspan dy="-4">(t−τ), r</tspan><tspan font-size="7" dy="1.5">s</tspan><tspan dy="-1.5">k</tspan><tspan font-size="8" dy="4">*</tspan></text>
<text x="188.6" y="150.3" font-size="19.6" text-anchor="middle" fill="#1a1a1a"  >C</text>
<g clip-path="url(#clipD)">
<path d="M256 175.2 L256 136.8 L256.01 136.81 L256.02 136.84 L256.05 136.89 L256.08 136.94 L256.12 137.02 L256.17 137.1 L256.23 137.19 L256.29 137.3 L256.36 137.42 L256.43 137.55 L256.51 137.69 L256.6 137.85 L256.69 138.01 L256.79 138.19 L256.89 138.37 L257 138.57 L257.12 138.78 L257.24 139 L257.36 139.22 L257.49 139.46 L257.63 139.71 L257.77 139.97 L257.92 140.24 L258.08 140.53 L258.23 140.82 L258.4 141.12 L258.57 141.43 L258.74 141.76 L258.92 142.09 L259.1 142.43 L259.29 142.79 L259.48 143.15 L259.68 143.53 L259.89 143.91 L260.09 144.31 L260.31 144.71 L260.52 145.13 L260.75 145.55 L260.97 145.98 L261.21 146.43 L261.44 146.88 L261.68 147.34 L261.93 147.81 L262.18 148.29 L262.43 148.78 L262.69 149.28 L262.96 149.79 L263.23 150.3 L263.5 150.83 L263.78 151.36 L264.06 151.89 L264.35 152.44 L264.64 152.99 L264.93 153.55 L265.23 154.12 L265.54 154.7 L265.85 155.28 L266.16 155.88 L266.48 156.48 L266.8 157.09 L267.13 157.7 L267.46 158.32 L267.79 158.94 L268.13 159.57 L268.47 160.2 L268.82 160.83 L269.17 161.46 L269.53 162.09 L269.89 162.72 L270.25 163.34 L270.62 163.96 L270.99 164.58 L271.37 165.19 L271.75 165.79 L272.14 166.38 L272.53 166.96 L272.92 167.53 L273.32 168.09 L273.72 168.63 L274.13 169.16 L274.54 169.68 L274.95 170.2 L275.37 170.73 L275.79 171.25 L276.22 171.76 L276.65 172.26 L277.08 172.75 L277.52 173.2 L277.96 173.63 L278.41 174.02 L278.86 174.37 L279.31 174.68 L279.77 174.94 L280.23 175.14 L280.7 175.3 L281.17 175.44 L281.64 175.57 L282.12 175.69 L282.6 175.79 L283.09 175.88 L283.57 175.96 L284.07 176.02 L284.57 176.08 L285.07 176.13 L285.57 176.16 L286.08 176.19 L286.59 176.21 L287.11 176.23 L287.63 176.23 L288.15 176.23 L288.68 176.23 L289.21 176.22 L289.75 176.21 L290.29 176.2 L290.83 176.18 L291.38 176.16 L291.93 176.13 L292.49 176.1 L293.04 176.06 L293.61 176.02 L294.17 175.97 L294.74 175.93 L295.32 175.87 L295.89 175.82 L296.47 175.76 L297.06 175.7 L297.65 175.63 L298.24 175.57 L298.83 175.5 L299.43 175.43 L300.04 175.37 L300.64 175.3 L301.25 175.24 L301.87 175.18 L302.49 175.12 L303.11 175.06 L303.73 175.01 L304.36 174.96 L305 174.91 L305.63 174.87 L306.27 174.83 L306.92 174.79 L307.56 174.76 L308.21 174.73 L308.87 174.7 L309.53 174.68 L310.19 174.66 L310.85 174.65 L311.52 174.64 L312.19 174.63 L312.87 174.63 L313.55 174.64 L314.23 174.65 L314.92 174.66 L315.61 174.67 L316.31 174.69 L317 174.71 L317.7 174.72 L318.41 174.74 L319.12 174.77 L319.83 174.79 L320.54 174.82 L321.26 174.85 L321.99 174.88 L322.71 174.91 L323.44 174.94 L324.17 174.98 L324.91 175.01 L325.65 175.04 L326.39 175.06 L327.14 175.09 L327.89 175.11 L328.65 175.12 L329.4 175.14 L330.16 175.15 L330.93 175.16 L331.7 175.17 L332.47 175.18 L333.24 175.19 L334.02 175.2 L334.8 175.2 L335.59 175.2 L336.38 175.2 L337.17 175.2 L337.97 175.2 L338.77 175.2 L339.57 175.2 L340.38 175.2 L341.18 175.2 L342 175.2 L342.81 175.2 L343.63 175.2 L344.46 175.2 L345.28 175.2 L346.11 175.2 L346.95 175.2 L347.78 175.2 L348.62 175.2 L349.47 175.2 L350.32 175.2 L351.17 175.2 L352.02 175.2 L352.88 175.2 L353.74 175.2 L354.6 175.2 L355.47 175.2 L356.34 175.2 L357.21 175.2 L358.09 175.2 L358.97 175.2 L359.86 175.2 L360.75 175.2 L361.64 175.2 L362.53 175.2 L363.43 175.2 L364.33 175.2 L365.23 175.2 L366.14 175.2 L367.05 175.2 L367.97 175.2 L368.89 175.2 L369.81 175.2 L370.73 175.2 L371.66 175.2 L372.59 175.2 L373.52 175.2 L374.46 175.2 L375.4 175.2 L376.35 175.2 L377.29 175.2 L378.25 175.2 L379.2 175.2 L380.16 175.2 L381.12 175.2 L382.08 175.2 L383.05 175.2 L384.02 175.2 L384.99 175.2 L385.97 175.2 L386.95 175.2 L387.94 175.2 L388.92 175.2 L389.91 175.2 L390.91 175.2 L391.9 175.2 L392.9 175.2 L393.91 175.2 L394.91 175.2 L395.92 175.2 L396.94 175.2 L397.95 175.2 L398.97 175.2 L399.99 175.2 L401.02 175.2 L402.05 175.2 L403.08 175.2 L404.12 175.2 L405.16 175.2 L406.2 175.2 L406.2 175.2Z" fill="#ff8000" fill-opacity="0.3" stroke="none"/>
<path d="M256 136.8 L256.01 136.81 L256.02 136.84 L256.05 136.89 L256.08 136.94 L256.12 137.02 L256.17 137.1 L256.23 137.19 L256.29 137.3 L256.36 137.42 L256.43 137.55 L256.51 137.69 L256.6 137.85 L256.69 138.01 L256.79 138.19 L256.89 138.37 L257 138.57 L257.12 138.78 L257.24 139 L257.36 139.22 L257.49 139.46 L257.63 139.71 L257.77 139.97 L257.92 140.24 L258.08 140.53 L258.23 140.82 L258.4 141.12 L258.57 141.43 L258.74 141.76 L258.92 142.09 L259.1 142.43 L259.29 142.79 L259.48 143.15 L259.68 143.53 L259.89 143.91 L260.09 144.31 L260.31 144.71 L260.52 145.13 L260.75 145.55 L260.97 145.98 L261.21 146.43 L261.44 146.88 L261.68 147.34 L261.93 147.81 L262.18 148.29 L262.43 148.78 L262.69 149.28 L262.96 149.79 L263.23 150.3 L263.5 150.83 L263.78 151.36 L264.06 151.89 L264.35 152.44 L264.64 152.99 L264.93 153.55 L265.23 154.12 L265.54 154.7 L265.85 155.28 L266.16 155.88 L266.48 156.48 L266.8 157.09 L267.13 157.7 L267.46 158.32 L267.79 158.94 L268.13 159.57 L268.47 160.2 L268.82 160.83 L269.17 161.46 L269.53 162.09 L269.89 162.72 L270.25 163.34 L270.62 163.96 L270.99 164.58 L271.37 165.19 L271.75 165.79 L272.14 166.38 L272.53 166.96 L272.92 167.53 L273.32 168.09 L273.72 168.63 L274.13 169.16 L274.54 169.68 L274.95 170.2 L275.37 170.73 L275.79 171.25 L276.22 171.76 L276.65 172.26 L277.08 172.75 L277.52 173.2 L277.96 173.63 L278.41 174.02 L278.86 174.37 L279.31 174.68 L279.77 174.94 L280.23 175.14 L280.7 175.3 L281.17 175.44 L281.64 175.57 L282.12 175.69 L282.6 175.79 L283.09 175.88 L283.57 175.96 L284.07 176.02 L284.57 176.08 L285.07 176.13 L285.57 176.16 L286.08 176.19 L286.59 176.21 L287.11 176.23 L287.63 176.23 L288.15 176.23 L288.68 176.23 L289.21 176.22 L289.75 176.21 L290.29 176.2 L290.83 176.18 L291.38 176.16 L291.93 176.13 L292.49 176.1 L293.04 176.06 L293.61 176.02 L294.17 175.97 L294.74 175.93 L295.32 175.87 L295.89 175.82 L296.47 175.76 L297.06 175.7 L297.65 175.63 L298.24 175.57 L298.83 175.5 L299.43 175.43 L300.04 175.37 L300.64 175.3 L301.25 175.24 L301.87 175.18 L302.49 175.12 L303.11 175.06 L303.73 175.01 L304.36 174.96 L305 174.91 L305.63 174.87 L306.27 174.83 L306.92 174.79 L307.56 174.76 L308.21 174.73 L308.87 174.7 L309.53 174.68 L310.19 174.66 L310.85 174.65 L311.52 174.64 L312.19 174.63 L312.87 174.63 L313.55 174.64 L314.23 174.65 L314.92 174.66 L315.61 174.67 L316.31 174.69 L317 174.71 L317.7 174.72 L318.41 174.74 L319.12 174.77 L319.83 174.79 L320.54 174.82 L321.26 174.85 L321.99 174.88 L322.71 174.91 L323.44 174.94 L324.17 174.98 L324.91 175.01 L325.65 175.04 L326.39 175.06 L327.14 175.09 L327.89 175.11 L328.65 175.12 L329.4 175.14 L330.16 175.15 L330.93 175.16 L331.7 175.17 L332.47 175.18 L333.24 175.19 L334.02 175.2 L334.8 175.2 L335.59 175.2 L336.38 175.2 L337.17 175.2 L337.97 175.2 L338.77 175.2 L339.57 175.2 L340.38 175.2 L341.18 175.2 L342 175.2 L342.81 175.2 L343.63 175.2 L344.46 175.2 L345.28 175.2 L346.11 175.2 L346.95 175.2 L347.78 175.2 L348.62 175.2 L349.47 175.2 L350.32 175.2 L351.17 175.2 L352.02 175.2 L352.88 175.2 L353.74 175.2 L354.6 175.2 L355.47 175.2 L356.34 175.2 L357.21 175.2 L358.09 175.2 L358.97 175.2 L359.86 175.2 L360.75 175.2 L361.64 175.2 L362.53 175.2 L363.43 175.2 L364.33 175.2 L365.23 175.2 L366.14 175.2 L367.05 175.2 L367.97 175.2 L368.89 175.2 L369.81 175.2 L370.73 175.2 L371.66 175.2 L372.59 175.2 L373.52 175.2 L374.46 175.2 L375.4 175.2 L376.35 175.2 L377.29 175.2 L378.25 175.2 L379.2 175.2 L380.16 175.2 L381.12 175.2 L382.08 175.2 L383.05 175.2 L384.02 175.2 L384.99 175.2 L385.97 175.2 L386.95 175.2 L387.94 175.2 L388.92 175.2 L389.91 175.2 L390.91 175.2 L391.9 175.2 L392.9 175.2 L393.91 175.2 L394.91 175.2 L395.92 175.2 L396.94 175.2 L397.95 175.2 L398.97 175.2 L399.99 175.2 L401.02 175.2 L402.05 175.2 L403.08 175.2 L404.12 175.2 L405.16 175.2 L406.2 175.2" fill="none" stroke="#ff8000" stroke-opacity="0.5" stroke-width="0.6"/>
<path d="M254.12 175.2 H256" fill="none" stroke="#ff8000" stroke-opacity="0.55" stroke-width="1.2"/>
<path d="M256 175.2 L256 136.8 L256.01 136.81 L256.02 136.84 L256.05 136.89 L256.08 136.94 L256.12 137.01 L256.17 137.1 L256.23 137.19 L256.29 137.3 L256.36 137.42 L256.43 137.55 L256.51 137.69 L256.6 137.84 L256.69 138 L256.79 138.17 L256.89 138.35 L257 138.54 L257.12 138.74 L257.24 138.95 L257.36 139.17 L257.49 139.4 L257.63 139.63 L257.77 139.88 L257.92 140.14 L258.08 140.4 L258.23 140.67 L258.4 140.96 L258.57 141.25 L258.74 141.55 L258.92 141.85 L259.1 142.17 L259.29 142.49 L259.48 142.83 L259.68 143.17 L259.89 143.52 L260.09 143.87 L260.31 144.24 L260.52 144.61 L260.75 144.99 L260.97 145.38 L261.21 145.77 L261.44 146.18 L261.68 146.59 L261.93 147.01 L262.18 147.43 L262.43 147.87 L262.69 148.31 L262.96 148.76 L263.23 149.21 L263.5 149.67 L263.78 150.14 L264.06 150.62 L264.35 151.1 L264.64 151.59 L264.93 152.09 L265.23 152.6 L265.54 153.11 L265.85 153.64 L266.16 154.18 L266.48 154.72 L266.8 155.28 L267.13 155.84 L267.46 156.41 L267.79 156.99 L268.13 157.58 L268.47 158.17 L268.82 158.77 L269.17 159.37 L269.53 159.98 L269.89 160.59 L270.25 161.2 L270.62 161.82 L270.99 162.44 L271.37 163.05 L271.75 163.67 L272.14 164.28 L272.53 164.9 L272.92 165.5 L273.32 166.11 L273.72 166.7 L274.13 167.29 L274.54 167.87 L274.95 168.48 L275.37 169.1 L275.79 169.74 L276.22 170.38 L276.65 171.02 L277.08 171.65 L277.52 172.26 L277.96 172.85 L278.41 173.4 L278.86 173.92 L279.31 174.38 L279.77 174.78 L280.23 175.11 L280.7 175.37 L281.17 175.62 L281.64 175.85 L282.12 176.08 L282.6 176.29 L283.09 176.48 L283.57 176.67 L284.07 176.85 L284.57 177.01 L285.07 177.17 L285.57 177.31 L286.08 177.45 L286.59 177.58 L287.11 177.7 L287.63 177.81 L288.15 177.92 L288.68 178.02 L289.21 178.13 L289.75 178.24 L290.29 178.34 L290.83 178.44 L291.38 178.54 L291.93 178.64 L292.49 178.73 L293.04 178.82 L293.61 178.9 L294.17 178.98 L294.74 179.05 L295.32 179.1 L295.89 179.15 L296.47 179.19 L297.06 179.22 L297.65 179.23 L298.24 179.23 L298.83 179.22 L299.43 179.19 L300.04 179.16 L300.64 179.12 L301.25 179.07 L301.87 179.01 L302.49 178.94 L303.11 178.87 L303.73 178.8 L304.36 178.72 L305 178.64 L305.63 178.55 L306.27 178.47 L306.92 178.38 L307.56 178.3 L308.21 178.22 L308.87 178.13 L309.53 178.04 L310.19 177.94 L310.85 177.83 L311.52 177.71 L312.19 177.6 L312.87 177.48 L313.55 177.36 L314.23 177.23 L314.92 177.11 L315.61 176.99 L316.31 176.87 L317 176.76 L317.7 176.65 L318.41 176.55 L319.12 176.46 L319.83 176.36 L320.54 176.26 L321.26 176.15 L321.99 176.05 L322.71 175.95 L323.44 175.85 L324.17 175.76 L324.91 175.68 L325.65 175.6 L326.39 175.53 L327.14 175.47 L327.89 175.42" fill="none" stroke="#ff8000" stroke-width="1.5" stroke-linejoin="miter"/>
<path d="M327.89 175.42 L328.65 175.38 L329.4 175.35 L330.16 175.32 L330.93 175.29 L331.7 175.26 L332.47 175.24 L333.24 175.22 L334.02 175.21 L334.8 175.2 L335.59 175.2 L336.38 175.2 L337.17 175.2 L337.97 175.2 L338.77 175.2 L339.57 175.2 L340.38 175.2 L341.18 175.2 L342 175.2 L342.81 175.2 L343.63 175.2 L344.46 175.2 L345.28 175.2 L346.11 175.2 L346.95 175.2 L347.78 175.2 L348.62 175.2 L349.47 175.2 L350.32 175.2 L351.17 175.2 L352.02 175.2 L352.88 175.2 L353.74 175.2 L354.6 175.2 L355.47 175.2 L356.34 175.2 L357.21 175.2 L358.09 175.2 L358.97 175.2 L359.86 175.2 L360.75 175.2 L361.64 175.2 L362.53 175.2 L363.43 175.2 L364.33 175.2 L365.23 175.2 L366.14 175.2 L367.05 175.2 L367.97 175.2 L368.89 175.2 L369.81 175.2 L370.73 175.2 L371.66 175.2 L372.59 175.2 L373.52 175.2 L374.46 175.2 L375.4 175.2 L376.35 175.2 L377.29 175.2 L378.25 175.2 L379.2 175.2 L380.16 175.2 L381.12 175.2 L382.08 175.2 L383.05 175.2 L384.02 175.2 L384.99 175.2 L385.97 175.2 L386.95 175.2 L387.94 175.2 L388.92 175.2 L389.91 175.2 L390.91 175.2 L391.9 175.2 L392.9 175.2 L393.91 175.2 L394.91 175.2 L395.92 175.2 L396.94 175.2 L397.95 175.2 L398.97 175.2 L399.99 175.2 L401.02 175.2 L402.05 175.2 L403.08 175.2 L404.12 175.2 L405.16 175.2 L406.2 175.2" fill="none" stroke="#ff8000" stroke-opacity="0.55" stroke-width="1.2"/>
<path d="M274.77 175.2 L274.77 146.48 L274.78 146.5 L274.8 146.55 L274.82 146.62 L274.85 146.72 L274.88 146.83 L274.92 146.97 L274.97 147.12 L275.03 147.3 L275.09 147.49 L275.15 147.69 L275.22 147.92 L275.3 148.16 L275.38 148.41 L275.46 148.68 L275.55 148.97 L275.65 149.26 L275.75 149.58 L275.86 149.9 L275.97 150.24 L276.08 150.59 L276.2 150.95 L276.33 151.32 L276.46 151.7 L276.59 152.1 L276.73 152.5 L276.87 152.91 L277.02 153.33 L277.17 153.76 L277.33 154.2 L277.49 154.64 L277.65 155.1 L277.82 155.55 L278 156.02 L278.17 156.49 L278.36 156.96 L278.54 157.44 L278.73 157.93 L278.93 158.42 L279.13 158.91 L279.33 159.4 L279.54 159.9 L279.75 160.39 L279.96 160.89 L280.18 161.39 L280.41 161.89 L280.63 162.39 L280.86 162.89 L281.1 163.39 L281.34 163.88 L281.58 164.38 L281.83 164.87 L282.08 165.35 L282.33 165.84 L282.59 166.32 L282.85 166.79 L283.12 167.26 L283.39 167.73 L283.67 168.18 L283.94 168.64 L284.22 169.08 L284.51 169.52 L284.8 169.95 L285.09 170.37 L285.39 170.78 L285.69 171.18 L285.99 171.57 L286.3 171.96 L286.61 172.34 L286.93 172.71 L287.25 173.07 L287.57 173.42 L287.9 173.76 L288.22 174.07 L288.56 174.36 L288.9 174.62 L289.24 174.86 L289.58 175.06 L289.93 175.23 L290.28 175.38 L290.63 175.52 L290.99 175.64 L291.36 175.75 L291.72 175.85 L292.09 175.93 L292.46 176 L292.84 176.06 L293.22 176.1 L293.6 176.13 L293.99 176.15 L294.38 176.16 L294.77 176.15 L295.17 176.13 L295.57 176.1 L295.98 176.07 L296.38 176.03 L296.8 175.99 L297.21 175.94 L297.63 175.89 L298.05 175.83 L298.47 175.77 L298.9 175.7 L299.33 175.63 L299.77 175.55 L300.21 175.48 L300.65 175.39 L301.1 175.31 L301.54 175.22 L302 175.13 L302.45 175.04 L302.91 174.95 L303.37 174.87 L303.84 174.78 L304.31 174.69 L304.78 174.61 L305.25 174.52 L305.73 174.44 L306.21 174.37 L306.7 174.29 L307.19 174.22 L307.68 174.15 L308.18 174.08 L308.67 174.02 L309.18 173.95 L309.68 173.9 L310.19 173.84 L310.7 173.79 L311.22 173.75 L311.73 173.7 L312.26 173.67 L312.78 173.63 L313.31 173.6 L313.84 173.58 L314.37 173.56 L314.91 173.56 L315.45 173.56 L316 173.57 L316.54 173.59 L317.09 173.62 L317.65 173.65 L318.2 173.69 L318.76 173.73 L319.33 173.78 L319.89 173.82 L320.46 173.87 L321.03 173.92 L321.61 173.98 L322.19 174.04 L322.77 174.1 L323.36 174.17 L323.95 174.24 L324.54 174.31 L325.13 174.39 L325.73 174.46 L326.33 174.53 L326.93 174.6 L327.54 174.67 L328.15 174.75 L328.77 174.83 L329.38 174.91 L330 174.98 L330.63 175.04 L331.25 175.09 L331.88 175.11 L332.51 175.13 L333.15 175.14 L333.79 175.15 L334.43 175.16 L335.07 175.17 L335.72 175.18 L336.37 175.19 L337.02 175.19 L337.68 175.2 L338.34 175.2 L339 175.2 L339.67 175.2 L340.34 175.2 L341.01 175.2 L341.69 175.2 L342.36 175.2 L343.04 175.2 L343.73 175.2 L344.42 175.2 L345.11 175.2 L345.8 175.2 L346.5 175.2 L347.2 175.2 L347.9 175.2 L348.6 175.2 L349.31 175.2 L350.02 175.2 L350.74 175.2 L351.45 175.2 L352.18 175.2 L352.9 175.2 L353.62 175.2 L354.35 175.2 L355.09 175.2 L355.82 175.2 L356.56 175.2 L357.3 175.2 L358.05 175.2 L358.79 175.2 L359.54 175.2 L360.3 175.2 L361.05 175.2 L361.81 175.2 L362.57 175.2 L363.34 175.2 L364.11 175.2 L364.88 175.2 L365.65 175.2 L366.43 175.2 L367.21 175.2 L367.99 175.2 L368.77 175.2 L369.56 175.2 L370.35 175.2 L371.15 175.2 L371.95 175.2 L372.75 175.2 L373.55 175.2 L374.36 175.2 L375.16 175.2 L375.98 175.2 L376.79 175.2 L377.61 175.2 L378.43 175.2 L379.25 175.2 L380.08 175.2 L380.91 175.2 L381.74 175.2 L382.57 175.2 L383.41 175.2 L384.25 175.2 L385.1 175.2 L385.94 175.2 L386.79 175.2 L387.64 175.2 L388.5 175.2 L389.36 175.2 L390.22 175.2 L391.08 175.2 L391.95 175.2 L392.82 175.2 L393.69 175.2 L394.57 175.2 L395.44 175.2 L396.32 175.2 L397.21 175.2 L398.09 175.2 L398.98 175.2 L399.88 175.2 L400.77 175.2 L401.67 175.2 L402.57 175.2 L403.47 175.2 L404.38 175.2 L405.29 175.2 L406.2 175.2 L406.2 175.2Z" fill="#0000ff" fill-opacity="0.3" stroke="none"/>
<path d="M274.77 146.48 L274.78 146.5 L274.8 146.55 L274.82 146.62 L274.85 146.72 L274.88 146.83 L274.92 146.97 L274.97 147.12 L275.03 147.3 L275.09 147.49 L275.15 147.69 L275.22 147.92 L275.3 148.16 L275.38 148.41 L275.46 148.68 L275.55 148.97 L275.65 149.26 L275.75 149.58 L275.86 149.9 L275.97 150.24 L276.08 150.59 L276.2 150.95 L276.33 151.32 L276.46 151.7 L276.59 152.1 L276.73 152.5 L276.87 152.91 L277.02 153.33 L277.17 153.76 L277.33 154.2 L277.49 154.64 L277.65 155.1 L277.82 155.55 L278 156.02 L278.17 156.49 L278.36 156.96 L278.54 157.44 L278.73 157.93 L278.93 158.42 L279.13 158.91 L279.33 159.4 L279.54 159.9 L279.75 160.39 L279.96 160.89 L280.18 161.39 L280.41 161.89 L280.63 162.39 L280.86 162.89 L281.1 163.39 L281.34 163.88 L281.58 164.38 L281.83 164.87 L282.08 165.35 L282.33 165.84 L282.59 166.32 L282.85 166.79 L283.12 167.26 L283.39 167.73 L283.67 168.18 L283.94 168.64 L284.22 169.08 L284.51 169.52 L284.8 169.95 L285.09 170.37 L285.39 170.78 L285.69 171.18 L285.99 171.57 L286.3 171.96 L286.61 172.34 L286.93 172.71 L287.25 173.07 L287.57 173.42 L287.9 173.76 L288.22 174.07 L288.56 174.36 L288.9 174.62 L289.24 174.86 L289.58 175.06 L289.93 175.23 L290.28 175.38 L290.63 175.52 L290.99 175.64 L291.36 175.75 L291.72 175.85 L292.09 175.93 L292.46 176 L292.84 176.06 L293.22 176.1 L293.6 176.13 L293.99 176.15 L294.38 176.16 L294.77 176.15 L295.17 176.13 L295.57 176.1 L295.98 176.07 L296.38 176.03 L296.8 175.99 L297.21 175.94 L297.63 175.89 L298.05 175.83 L298.47 175.77 L298.9 175.7 L299.33 175.63 L299.77 175.55 L300.21 175.48 L300.65 175.39 L301.1 175.31 L301.54 175.22 L302 175.13 L302.45 175.04 L302.91 174.95 L303.37 174.87 L303.84 174.78 L304.31 174.69 L304.78 174.61 L305.25 174.52 L305.73 174.44 L306.21 174.37 L306.7 174.29 L307.19 174.22 L307.68 174.15 L308.18 174.08 L308.67 174.02 L309.18 173.95 L309.68 173.9 L310.19 173.84 L310.7 173.79 L311.22 173.75 L311.73 173.7 L312.26 173.67 L312.78 173.63 L313.31 173.6 L313.84 173.58 L314.37 173.56 L314.91 173.56 L315.45 173.56 L316 173.57 L316.54 173.59 L317.09 173.62 L317.65 173.65 L318.2 173.69 L318.76 173.73 L319.33 173.78 L319.89 173.82 L320.46 173.87 L321.03 173.92 L321.61 173.98 L322.19 174.04 L322.77 174.1 L323.36 174.17 L323.95 174.24 L324.54 174.31 L325.13 174.39 L325.73 174.46 L326.33 174.53 L326.93 174.6 L327.54 174.67 L328.15 174.75 L328.77 174.83 L329.38 174.91 L330 174.98 L330.63 175.04 L331.25 175.09 L331.88 175.11 L332.51 175.13 L333.15 175.14 L333.79 175.15 L334.43 175.16 L335.07 175.17 L335.72 175.18 L336.37 175.19 L337.02 175.19 L337.68 175.2 L338.34 175.2 L339 175.2 L339.67 175.2 L340.34 175.2 L341.01 175.2 L341.69 175.2 L342.36 175.2 L343.04 175.2 L343.73 175.2 L344.42 175.2 L345.11 175.2 L345.8 175.2 L346.5 175.2 L347.2 175.2 L347.9 175.2 L348.6 175.2 L349.31 175.2 L350.02 175.2 L350.74 175.2 L351.45 175.2 L352.18 175.2 L352.9 175.2 L353.62 175.2 L354.35 175.2 L355.09 175.2 L355.82 175.2 L356.56 175.2 L357.3 175.2 L358.05 175.2 L358.79 175.2 L359.54 175.2 L360.3 175.2 L361.05 175.2 L361.81 175.2 L362.57 175.2 L363.34 175.2 L364.11 175.2 L364.88 175.2 L365.65 175.2 L366.43 175.2 L367.21 175.2 L367.99 175.2 L368.77 175.2 L369.56 175.2 L370.35 175.2 L371.15 175.2 L371.95 175.2 L372.75 175.2 L373.55 175.2 L374.36 175.2 L375.16 175.2 L375.98 175.2 L376.79 175.2 L377.61 175.2 L378.43 175.2 L379.25 175.2 L380.08 175.2 L380.91 175.2 L381.74 175.2 L382.57 175.2 L383.41 175.2 L384.25 175.2 L385.1 175.2 L385.94 175.2 L386.79 175.2 L387.64 175.2 L388.5 175.2 L389.36 175.2 L390.22 175.2 L391.08 175.2 L391.95 175.2 L392.82 175.2 L393.69 175.2 L394.57 175.2 L395.44 175.2 L396.32 175.2 L397.21 175.2 L398.09 175.2 L398.98 175.2 L399.88 175.2 L400.77 175.2 L401.67 175.2 L402.57 175.2 L403.47 175.2 L404.38 175.2 L405.29 175.2 L406.2 175.2" fill="none" stroke="#0000ff" stroke-opacity="0.5" stroke-width="0.6"/>
<path d="M254.12 175.2 H274.77" fill="none" stroke="#0000ff" stroke-opacity="0.55" stroke-width="1.2"/>
<path d="M274.77 175.2 L274.77 136.8 L274.78 136.82 L274.8 136.86 L274.82 136.93 L274.85 137.03 L274.88 137.14 L274.92 137.27 L274.97 137.42 L275.03 137.58 L275.09 137.77 L275.15 137.97 L275.22 138.19 L275.3 138.42 L275.38 138.67 L275.46 138.94 L275.55 139.21 L275.65 139.51 L275.75 139.82 L275.86 140.14 L275.97 140.47 L276.08 140.82 L276.2 141.18 L276.33 141.56 L276.46 141.95 L276.59 142.34 L276.73 142.76 L276.87 143.18 L277.02 143.61 L277.17 144.06 L277.33 144.52 L277.49 144.98 L277.65 145.46 L277.82 145.95 L278 146.45 L278.17 146.95 L278.36 147.47 L278.54 148 L278.73 148.53 L278.93 149.08 L279.13 149.63 L279.33 150.19 L279.54 150.76 L279.75 151.33 L279.96 151.92 L280.18 152.51 L280.41 153.11 L280.63 153.72 L280.86 154.33 L281.1 154.95 L281.34 155.58 L281.58 156.21 L281.83 156.85 L282.08 157.49 L282.33 158.14 L282.59 158.8 L282.85 159.46 L283.12 160.12 L283.39 160.8 L283.67 161.47 L283.94 162.15 L284.22 162.84 L284.51 163.53 L284.8 164.22 L285.09 164.92 L285.39 165.62 L285.69 166.32 L285.99 167.03 L286.3 167.74 L286.61 168.47 L286.93 169.22 L287.25 169.97 L287.57 170.73 L287.9 171.48 L288.22 172.21 L288.56 172.92 L288.9 173.59 L289.24 174.22 L289.58 174.79 L289.93 175.29 L290.28 175.76 L290.63 176.23 L290.99 176.68 L291.36 177.12 L291.72 177.55 L292.09 177.96 L292.46 178.36 L292.84 178.73 L293.22 179.09 L293.6 179.42 L293.99 179.73 L294.38 180.01 L294.77 180.27 L295.17 180.49 L295.57 180.68 L295.98 180.87 L296.38 181.06 L296.8 181.25 L297.21 181.43 L297.63 181.6 L298.05 181.77 L298.47 181.94 L298.9 182.09 L299.33 182.24 L299.77 182.37 L300.21 182.5 L300.65 182.6 L301.1 182.7 L301.54 182.77 L302 182.83 L302.45 182.87 L302.91 182.88 L303.37 182.88 L303.84 182.86 L304.31 182.84 L304.78 182.82 L305.25 182.78 L305.73 182.74 L306.21 182.68 L306.7 182.63 L307.19 182.56 L307.68 182.49 L308.18 182.42 L308.67 182.33 L309.18 182.25 L309.68 182.16 L310.19 182.06 L310.7 181.97 L311.22 181.87 L311.73 181.76 L312.26 181.66 L312.78 181.56 L313.31 181.44 L313.84 181.31 L314.37 181.15 L314.91 180.98 L315.45 180.8 L316 180.6 L316.54 180.39 L317.09 180.17 L317.65 179.95 L318.2 179.73 L318.76 179.5 L319.33 179.28 L319.89 179.07 L320.46 178.86 L321.03 178.66 L321.61 178.45 L322.19 178.24 L322.77 178.03 L323.36 177.81 L323.95 177.6 L324.54 177.4 L325.13 177.19 L325.73 177 L326.33 176.81 L326.93 176.63 L327.54 176.44 L328.15 176.25 L328.77 176.05 L329.38 175.87 L330 175.7 L330.63 175.56 L331.25 175.46 L331.88 175.39" fill="none" stroke="#0000ff" stroke-width="1.5" stroke-linejoin="miter"/>
<path d="M331.88 175.39 L332.51 175.36 L333.15 175.33 L333.79 175.31 L334.43 175.28 L335.07 175.26 L335.72 175.24 L336.37 175.23 L337.02 175.21 L337.68 175.21 L338.34 175.2 L339 175.2 L339.67 175.2 L340.34 175.2 L341.01 175.2 L341.69 175.2 L342.36 175.2 L343.04 175.2 L343.73 175.2 L344.42 175.2 L345.11 175.2 L345.8 175.2 L346.5 175.2 L347.2 175.2 L347.9 175.2 L348.6 175.2 L349.31 175.2 L350.02 175.2 L350.74 175.2 L351.45 175.2 L352.18 175.2 L352.9 175.2 L353.62 175.2 L354.35 175.2 L355.09 175.2 L355.82 175.2 L356.56 175.2 L357.3 175.2 L358.05 175.2 L358.79 175.2 L359.54 175.2 L360.3 175.2 L361.05 175.2 L361.81 175.2 L362.57 175.2 L363.34 175.2 L364.11 175.2 L364.88 175.2 L365.65 175.2 L366.43 175.2 L367.21 175.2 L367.99 175.2 L368.77 175.2 L369.56 175.2 L370.35 175.2 L371.15 175.2 L371.95 175.2 L372.75 175.2 L373.55 175.2 L374.36 175.2 L375.16 175.2 L375.98 175.2 L376.79 175.2 L377.61 175.2 L378.43 175.2 L379.25 175.2 L380.08 175.2 L380.91 175.2 L381.74 175.2 L382.57 175.2 L383.41 175.2 L384.25 175.2 L385.1 175.2 L385.94 175.2 L386.79 175.2 L387.64 175.2 L388.5 175.2 L389.36 175.2 L390.22 175.2 L391.08 175.2 L391.95 175.2 L392.82 175.2 L393.69 175.2 L394.57 175.2 L395.44 175.2 L396.32 175.2 L397.21 175.2 L398.09 175.2 L398.98 175.2 L399.88 175.2 L400.77 175.2 L401.67 175.2 L402.57 175.2 L403.47 175.2 L404.38 175.2 L405.29 175.2 L406.2 175.2" fill="none" stroke="#0000ff" stroke-opacity="0.55" stroke-width="1.2"/>
<path d="M293.55 175.2 L293.55 166.64 L293.56 166.65 L293.57 166.68 L293.59 166.72 L293.61 166.77 L293.64 166.83 L293.68 166.91 L293.72 166.99 L293.77 167.08 L293.82 167.19 L293.87 167.3 L293.93 167.42 L294 167.55 L294.07 167.68 L294.14 167.82 L294.22 167.97 L294.3 168.13 L294.39 168.29 L294.48 168.45 L294.57 168.62 L294.67 168.8 L294.77 168.98 L294.88 169.16 L294.99 169.35 L295.11 169.54 L295.23 169.73 L295.35 169.93 L295.47 170.12 L295.6 170.32 L295.74 170.52 L295.88 170.72 L296.02 170.92 L296.16 171.12 L296.31 171.32 L296.46 171.52 L296.62 171.72 L296.78 171.91 L296.94 172.1 L297.11 172.29 L297.28 172.48 L297.45 172.67 L297.63 172.85 L297.81 173.03 L298 173.2 L298.18 173.37 L298.38 173.53 L298.57 173.69 L298.77 173.84 L298.97 173.99 L299.18 174.13 L299.38 174.26 L299.6 174.39 L299.81 174.51 L300.03 174.63 L300.25 174.73 L300.48 174.83 L300.7 174.92 L300.94 175 L301.17 175.08 L301.41 175.14 L301.65 175.2 L301.89 175.25 L302.14 175.29 L302.39 175.31 L302.65 175.33 L302.9 175.34 L303.17 175.34 L303.43 175.34 L303.7 175.32 L303.97 175.29 L304.24 175.26 L304.52 175.22 L304.8 175.18 L305.08 175.13 L305.36 175.07 L305.65 175.01 L305.95 174.94 L306.24 174.87 L306.54 174.79 L306.84 174.7 L307.14 174.61 L307.45 174.52 L307.76 174.42 L308.08 174.32 L308.39 174.22 L308.71 174.12 L309.03 174.02 L309.36 173.92 L309.69 173.82 L310.02 173.71 L310.35 173.6 L310.69 173.49 L311.03 173.38 L311.38 173.27 L311.72 173.15 L312.07 173.04 L312.42 172.92 L312.78 172.81 L313.14 172.69 L313.5 172.58 L313.86 172.46 L314.23 172.35 L314.6 172.24 L314.97 172.12 L315.35 172.01 L315.73 171.89 L316.11 171.78 L316.49 171.66 L316.88 171.54 L317.27 171.43 L317.67 171.32 L318.06 171.21 L318.46 171.11 L318.86 171.02 L319.27 170.93 L319.67 170.86 L320.08 170.8 L320.5 170.75 L320.91 170.7 L321.33 170.66 L321.75 170.63 L322.18 170.6 L322.61 170.58 L323.04 170.56 L323.47 170.54 L323.9 170.53 L324.34 170.52 L324.78 170.53 L325.23 170.55 L325.68 170.57 L326.13 170.61 L326.58 170.66 L327.03 170.71 L327.49 170.76 L327.95 170.82 L328.42 170.88 L328.88 170.95 L329.35 171.01 L329.82 171.09 L330.3 171.17 L330.77 171.25 L331.25 171.34 L331.74 171.43 L332.22 171.53 L332.71 171.62 L333.2 171.72 L333.69 171.81 L334.19 171.91 L334.69 172.01 L335.19 172.11 L335.7 172.21 L336.2 172.31 L336.71 172.41 L337.23 172.52 L337.74 172.62 L338.26 172.73 L338.78 172.84 L339.3 172.94 L339.83 173.05 L340.36 173.16 L340.89 173.27 L341.42 173.38 L341.96 173.5 L342.5 173.61 L343.04 173.72 L343.58 173.83 L344.13 173.94 L344.68 174.04 L345.23 174.14 L345.79 174.23 L346.35 174.31 L346.91 174.4 L347.47 174.48 L348.03 174.56 L348.6 174.63 L349.17 174.7 L349.75 174.77 L350.32 174.83 L350.9 174.89 L351.48 174.95 L352.07 175 L352.65 175.05 L353.24 175.09 L353.83 175.12 L354.43 175.16 L355.03 175.18 L355.62 175.21 L356.23 175.24 L356.83 175.26 L357.44 175.28 L358.05 175.3 L358.66 175.33 L359.28 175.35 L359.89 175.37 L360.51 175.38 L361.14 175.39 L361.76 175.4 L362.39 175.41 L363.02 175.41 L363.65 175.4 L364.29 175.39 L364.92 175.38 L365.57 175.37 L366.21 175.37 L366.85 175.36 L367.5 175.35 L368.15 175.34 L368.81 175.32 L369.46 175.32 L370.12 175.31 L370.78 175.3 L371.44 175.29 L372.11 175.28 L372.78 175.27 L373.45 175.26 L374.12 175.25 L374.8 175.25 L375.48 175.24 L376.16 175.23 L376.84 175.23 L377.53 175.22 L378.21 175.22 L378.9 175.21 L379.6 175.2 L380.29 175.2 L380.99 175.2 L381.69 175.19 L382.4 175.19 L383.1 175.18 L383.81 175.18 L384.52 175.18 L385.23 175.18 L385.95 175.17 L386.67 175.17 L387.39 175.17 L388.11 175.17 L388.84 175.17 L389.56 175.17 L390.3 175.16 L391.03 175.16 L391.76 175.16 L392.5 175.16 L393.24 175.16 L393.98 175.16 L394.73 175.16 L395.48 175.16 L396.23 175.17 L396.98 175.17 L397.73 175.17 L398.49 175.17 L399.25 175.17 L400.01 175.17 L400.78 175.18 L401.55 175.18 L402.32 175.18 L403.09 175.18 L403.86 175.19 L404.64 175.19 L405.42 175.2 L406.2 175.2 L406.2 175.2Z" fill="#ff0000" fill-opacity="0.3" stroke="none"/>
<path d="M293.55 166.64 L293.56 166.65 L293.57 166.68 L293.59 166.72 L293.61 166.77 L293.64 166.83 L293.68 166.91 L293.72 166.99 L293.77 167.08 L293.82 167.19 L293.87 167.3 L293.93 167.42 L294 167.55 L294.07 167.68 L294.14 167.82 L294.22 167.97 L294.3 168.13 L294.39 168.29 L294.48 168.45 L294.57 168.62 L294.67 168.8 L294.77 168.98 L294.88 169.16 L294.99 169.35 L295.11 169.54 L295.23 169.73 L295.35 169.93 L295.47 170.12 L295.6 170.32 L295.74 170.52 L295.88 170.72 L296.02 170.92 L296.16 171.12 L296.31 171.32 L296.46 171.52 L296.62 171.72 L296.78 171.91 L296.94 172.1 L297.11 172.29 L297.28 172.48 L297.45 172.67 L297.63 172.85 L297.81 173.03 L298 173.2 L298.18 173.37 L298.38 173.53 L298.57 173.69 L298.77 173.84 L298.97 173.99 L299.18 174.13 L299.38 174.26 L299.6 174.39 L299.81 174.51 L300.03 174.63 L300.25 174.73 L300.48 174.83 L300.7 174.92 L300.94 175 L301.17 175.08 L301.41 175.14 L301.65 175.2 L301.89 175.25 L302.14 175.29 L302.39 175.31 L302.65 175.33 L302.9 175.34 L303.17 175.34 L303.43 175.34 L303.7 175.32 L303.97 175.29 L304.24 175.26 L304.52 175.22 L304.8 175.18 L305.08 175.13 L305.36 175.07 L305.65 175.01 L305.95 174.94 L306.24 174.87 L306.54 174.79 L306.84 174.7 L307.14 174.61 L307.45 174.52 L307.76 174.42 L308.08 174.32 L308.39 174.22 L308.71 174.12 L309.03 174.02 L309.36 173.92 L309.69 173.82 L310.02 173.71 L310.35 173.6 L310.69 173.49 L311.03 173.38 L311.38 173.27 L311.72 173.15 L312.07 173.04 L312.42 172.92 L312.78 172.81 L313.14 172.69 L313.5 172.58 L313.86 172.46 L314.23 172.35 L314.6 172.24 L314.97 172.12 L315.35 172.01 L315.73 171.89 L316.11 171.78 L316.49 171.66 L316.88 171.54 L317.27 171.43 L317.67 171.32 L318.06 171.21 L318.46 171.11 L318.86 171.02 L319.27 170.93 L319.67 170.86 L320.08 170.8 L320.5 170.75 L320.91 170.7 L321.33 170.66 L321.75 170.63 L322.18 170.6 L322.61 170.58 L323.04 170.56 L323.47 170.54 L323.9 170.53 L324.34 170.52 L324.78 170.53 L325.23 170.55 L325.68 170.57 L326.13 170.61 L326.58 170.66 L327.03 170.71 L327.49 170.76 L327.95 170.82 L328.42 170.88 L328.88 170.95 L329.35 171.01 L329.82 171.09 L330.3 171.17 L330.77 171.25 L331.25 171.34 L331.74 171.43 L332.22 171.53 L332.71 171.62 L333.2 171.72 L333.69 171.81 L334.19 171.91 L334.69 172.01 L335.19 172.11 L335.7 172.21 L336.2 172.31 L336.71 172.41 L337.23 172.52 L337.74 172.62 L338.26 172.73 L338.78 172.84 L339.3 172.94 L339.83 173.05 L340.36 173.16 L340.89 173.27 L341.42 173.38 L341.96 173.5 L342.5 173.61 L343.04 173.72 L343.58 173.83 L344.13 173.94 L344.68 174.04 L345.23 174.14 L345.79 174.23 L346.35 174.31 L346.91 174.4 L347.47 174.48 L348.03 174.56 L348.6 174.63 L349.17 174.7 L349.75 174.77 L350.32 174.83 L350.9 174.89 L351.48 174.95 L352.07 175 L352.65 175.05 L353.24 175.09 L353.83 175.12 L354.43 175.16 L355.03 175.18 L355.62 175.21 L356.23 175.24 L356.83 175.26 L357.44 175.28 L358.05 175.3 L358.66 175.33 L359.28 175.35 L359.89 175.37 L360.51 175.38 L361.14 175.39 L361.76 175.4 L362.39 175.41 L363.02 175.41 L363.65 175.4 L364.29 175.39 L364.92 175.38 L365.57 175.37 L366.21 175.37 L366.85 175.36 L367.5 175.35 L368.15 175.34 L368.81 175.32 L369.46 175.32 L370.12 175.31 L370.78 175.3 L371.44 175.29 L372.11 175.28 L372.78 175.27 L373.45 175.26 L374.12 175.25 L374.8 175.25 L375.48 175.24 L376.16 175.23 L376.84 175.23 L377.53 175.22 L378.21 175.22 L378.9 175.21 L379.6 175.2 L380.29 175.2 L380.99 175.2 L381.69 175.19 L382.4 175.19 L383.1 175.18 L383.81 175.18 L384.52 175.18 L385.23 175.18 L385.95 175.17 L386.67 175.17 L387.39 175.17 L388.11 175.17 L388.84 175.17 L389.56 175.17 L390.3 175.16 L391.03 175.16 L391.76 175.16 L392.5 175.16 L393.24 175.16 L393.98 175.16 L394.73 175.16 L395.48 175.16 L396.23 175.17 L396.98 175.17 L397.73 175.17 L398.49 175.17 L399.25 175.17 L400.01 175.17 L400.78 175.18 L401.55 175.18 L402.32 175.18 L403.09 175.18 L403.86 175.19 L404.64 175.19 L405.42 175.2 L406.2 175.2" fill="none" stroke="#ff0000" stroke-opacity="0.5" stroke-width="0.6"/>
<path d="M254.12 175.2 H293.55" fill="none" stroke="#ff0000" stroke-opacity="0.55" stroke-width="1.2"/>
<path d="M293.55 175.2 L293.55 136.8 L293.56 136.82 L293.57 136.88 L293.59 136.96 L293.61 137.07 L293.64 137.21 L293.68 137.37 L293.72 137.55 L293.77 137.75 L293.82 137.97 L293.87 138.21 L293.93 138.48 L294 138.76 L294.07 139.06 L294.14 139.38 L294.22 139.71 L294.3 140.07 L294.39 140.44 L294.48 140.82 L294.57 141.22 L294.67 141.64 L294.77 142.07 L294.88 142.52 L294.99 142.98 L295.11 143.46 L295.23 143.95 L295.35 144.45 L295.47 144.96 L295.6 145.49 L295.74 146.03 L295.88 146.58 L296.02 147.14 L296.16 147.72 L296.31 148.3 L296.46 148.89 L296.62 149.5 L296.78 150.11 L296.94 150.74 L297.11 151.37 L297.28 152.01 L297.45 152.66 L297.63 153.31 L297.81 153.98 L298 154.65 L298.18 155.33 L298.38 156.01 L298.57 156.71 L298.77 157.4 L298.97 158.11 L299.18 158.82 L299.38 159.53 L299.6 160.25 L299.81 160.97 L300.03 161.7 L300.25 162.43 L300.48 163.17 L300.7 163.9 L300.94 164.65 L301.17 165.39 L301.41 166.14 L301.65 166.89 L301.89 167.64 L302.14 168.4 L302.39 169.16 L302.65 169.92 L302.9 170.68 L303.17 171.44 L303.43 172.18 L303.7 172.89 L303.97 173.59 L304.24 174.25 L304.52 174.87 L304.8 175.44 L305.08 176.01 L305.36 176.57 L305.65 177.11 L305.95 177.65 L306.24 178.18 L306.54 178.68 L306.84 179.18 L307.14 179.65 L307.45 180.1 L307.76 180.53 L308.08 180.93 L308.39 181.31 L308.71 181.65 L309.03 181.97 L309.36 182.27 L309.69 182.57 L310.02 182.87 L310.35 183.15 L310.69 183.42 L311.03 183.69 L311.38 183.94 L311.72 184.19 L312.07 184.43 L312.42 184.65 L312.78 184.87 L313.14 185.08 L313.5 185.28 L313.86 185.47 L314.23 185.66 L314.6 185.83 L314.97 185.99 L315.35 186.15 L315.73 186.32 L316.11 186.49 L316.49 186.65 L316.88 186.81 L317.27 186.96 L317.67 187.1 L318.06 187.22 L318.46 187.33 L318.86 187.41 L319.27 187.46 L319.67 187.49 L320.08 187.48 L320.5 187.46 L320.91 187.43 L321.33 187.38 L321.75 187.33 L322.18 187.26 L322.61 187.19 L323.04 187.11 L323.47 187.02 L323.9 186.94 L324.34 186.84 L324.78 186.73 L325.23 186.59 L325.68 186.43 L326.13 186.25 L326.58 186.06 L327.03 185.87 L327.49 185.66 L327.95 185.46 L328.42 185.26 L328.88 185.07 L329.35 184.86 L329.82 184.65 L330.3 184.43 L330.77 184.2 L331.25 183.97 L331.74 183.74 L332.22 183.51 L332.71 183.28 L333.2 183.06 L333.69 182.84 L334.19 182.62 L334.69 182.39 L335.19 182.17 L335.7 181.95 L336.2 181.72 L336.71 181.5 L337.23 181.28 L337.74 181.05 L338.26 180.83 L338.78 180.6 L339.3 180.37 L339.83 180.15 L340.36 179.92 L340.89 179.68 L341.42 179.44 L341.96 179.2 L342.5 178.96 L343.04 178.72 L343.58 178.49 L344.13 178.26 L344.68 178.04 L345.23 177.82 L345.79 177.62 L346.35 177.43 L346.91 177.24 L347.47 177.06 L348.03 176.88 L348.6 176.7 L349.17 176.53 L349.75 176.36 L350.32 176.2 L350.9 176.05 L351.48 175.91 L352.07 175.77 L352.65 175.65 L353.24 175.54 L353.83 175.43 L354.43 175.34 L355.03 175.25 L355.62 175.16 L356.23 175.08 L356.83 175 L357.44 174.92 L358.05 174.83 L358.66 174.74 L359.28 174.65 L359.89 174.56 L360.51 174.47 L361.14 174.4 L361.76 174.33 L362.39 174.28 L363.02 174.25 L363.65 174.24 L364.29 174.24 L364.92 174.25 L365.57 174.25 L366.21 174.26 L366.85 174.28 L367.5 174.29 L368.15 174.31 L368.81 174.33 L369.46 174.34 L370.12 174.36 L370.78 174.38 L371.44 174.4 L372.11 174.42 L372.78 174.43 L373.45 174.45 L374.12 174.46 L374.8 174.48 L375.48 174.5 L376.16 174.51 L376.84 174.53 L377.53 174.55 L378.21 174.57 L378.9 174.59 L379.6 174.6 L380.29 174.62 L380.99 174.64 L381.69 174.66 L382.4 174.68 L383.1 174.69 L383.81 174.71 L384.52 174.73 L385.23 174.74 L385.95 174.76 L386.67 174.78 L387.39 174.79 L388.11 174.81 L388.84 174.82 L389.56 174.83 L390.3 174.85 L391.03 174.86 L391.76 174.88 L392.5 174.89 L393.24 174.9 L393.98 174.92 L394.73 174.93 L395.48 174.95 L396.23 174.96 L396.98 174.98" fill="none" stroke="#ff0000" stroke-width="1.5" stroke-linejoin="miter"/>
<path d="M396.98 174.98 L397.73 174.99 L398.49 175.01 L399.25 175.02 L400.01 175.04 L400.78 175.06 L401.55 175.08 L402.32 175.1 L403.09 175.12 L403.86 175.14 L404.64 175.16 L405.42 175.18 L406.2 175.2" fill="none" stroke="#ff0000" stroke-opacity="0.55" stroke-width="1.2"/>
<path d="M312.32 175.2 L312.32 184.37 L312.33 184.37 L312.34 184.35 L312.36 184.33 L312.38 184.3 L312.4 184.26 L312.43 184.21 L312.47 184.16 L312.5 184.11 L312.55 184.04 L312.59 183.97 L312.64 183.89 L312.7 183.81 L312.76 183.72 L312.82 183.62 L312.88 183.51 L312.95 183.4 L313.02 183.28 L313.1 183.16 L313.18 183.02 L313.26 182.88 L313.35 182.73 L313.43 182.58 L313.53 182.41 L313.62 182.24 L313.72 182.06 L313.82 181.87 L313.93 181.67 L314.04 181.46 L314.15 181.24 L314.26 181.02 L314.38 180.78 L314.5 180.54 L314.63 180.28 L314.75 180.02 L314.88 179.74 L315.02 179.45 L315.15 179.16 L315.29 178.85 L315.43 178.53 L315.58 178.19 L315.73 177.85 L315.88 177.5 L316.03 177.14 L316.19 176.77 L316.35 176.39 L316.51 176.01 L316.67 175.62 L316.84 175.22 L317.01 174.82 L317.19 174.41 L317.36 174 L317.54 173.57 L317.72 173.14 L317.91 172.71 L318.1 172.26 L318.29 171.82 L318.48 171.36 L318.68 170.91 L318.87 170.44 L319.07 169.97 L319.28 169.49 L319.49 169.01 L319.69 168.53 L319.91 168.05 L320.12 167.58 L320.34 167.12 L320.56 166.65 L320.78 166.18 L321.01 165.7 L321.23 165.23 L321.46 164.76 L321.7 164.3 L321.93 163.85 L322.17 163.42 L322.41 163.01 L322.65 162.62 L322.9 162.24 L323.15 161.86 L323.4 161.49 L323.65 161.14 L323.91 160.81 L324.17 160.49 L324.43 160.19 L324.69 159.9 L324.96 159.61 L325.23 159.32 L325.5 159.05 L325.77 158.79 L326.05 158.55 L326.33 158.34 L326.61 158.16 L326.89 158 L327.18 157.86 L327.47 157.72 L327.76 157.58 L328.05 157.45 L328.35 157.33 L328.65 157.22 L328.95 157.12 L329.25 157.03 L329.56 156.95 L329.87 156.88 L330.18 156.83 L330.49 156.8 L330.81 156.79 L331.13 156.8 L331.45 156.83 L331.77 156.87 L332.09 156.93 L332.42 157.01 L332.75 157.1 L333.08 157.2 L333.42 157.3 L333.76 157.41 L334.1 157.55 L334.44 157.73 L334.78 157.94 L335.13 158.18 L335.48 158.44 L335.83 158.71 L336.18 159 L336.54 159.29 L336.9 159.57 L337.26 159.85 L337.62 160.14 L337.99 160.44 L338.35 160.76 L338.72 161.07 L339.1 161.4 L339.47 161.73 L339.85 162.06 L340.23 162.4 L340.61 162.74 L340.99 163.08 L341.38 163.43 L341.77 163.79 L342.16 164.15 L342.55 164.52 L342.95 164.89 L343.34 165.26 L343.74 165.63 L344.15 166 L344.55 166.37 L344.96 166.73 L345.37 167.09 L345.78 167.44 L346.19 167.78 L346.61 168.11 L347.03 168.42 L347.45 168.74 L347.87 169.04 L348.29 169.34 L348.72 169.63 L349.15 169.92 L349.58 170.19 L350.02 170.47 L350.45 170.73 L350.89 170.99 L351.33 171.24 L351.77 171.49 L352.22 171.73 L352.67 171.96 L353.11 172.18 L353.57 172.4 L354.02 172.62 L354.48 172.82 L354.93 173.02 L355.39 173.22 L355.86 173.4 L356.32 173.58 L356.79 173.74 L357.26 173.9 L357.73 174.05 L358.2 174.19 L358.68 174.32 L359.16 174.45 L359.64 174.57 L360.12 174.68 L360.6 174.78 L361.09 174.88 L361.58 174.97 L362.07 175.05 L362.56 175.12 L363.06 175.19 L363.55 175.25 L364.05 175.3 L364.56 175.35 L365.06 175.39 L365.57 175.43 L366.07 175.46 L366.58 175.49 L367.1 175.51 L367.61 175.52 L368.13 175.53 L368.65 175.54 L369.17 175.55 L369.69 175.55 L370.22 175.55 L370.74 175.54 L371.27 175.53 L371.8 175.51 L372.34 175.5 L372.87 175.49 L373.41 175.47 L373.95 175.45 L374.49 175.43 L375.04 175.41 L375.58 175.39 L376.13 175.37 L376.68 175.35 L377.24 175.32 L377.79 175.3 L378.35 175.28 L378.91 175.25 L379.47 175.23 L380.03 175.21 L380.6 175.19 L381.16 175.17 L381.73 175.15 L382.3 175.13 L382.88 175.12 L383.45 175.1 L384.03 175.09 L384.61 175.07 L385.19 175.06 L385.78 175.05 L386.36 175.04 L386.95 175.03 L387.54 175.02 L388.13 175.01 L388.73 175.01 L389.32 175 L389.92 175 L390.52 175 L391.13 175 L391.73 175 L392.34 175 L392.95 175 L393.56 175 L394.17 175 L394.78 175.01 L395.4 175.01 L396.02 175.02 L396.64 175.03 L397.26 175.03 L397.89 175.04 L398.52 175.05 L399.15 175.06 L399.78 175.07 L400.41 175.07 L401.05 175.09 L401.68 175.1 L402.32 175.11 L402.96 175.12 L403.61 175.13 L404.25 175.14 L404.9 175.15 L405.55 175.15 L406.2 175.15 L406.2 175.2Z" fill="#555555" fill-opacity="0.3" stroke="none"/>
<path d="M312.32 184.37 L312.33 184.37 L312.34 184.35 L312.36 184.33 L312.38 184.3 L312.4 184.26 L312.43 184.21 L312.47 184.16 L312.5 184.11 L312.55 184.04 L312.59 183.97 L312.64 183.89 L312.7 183.81 L312.76 183.72 L312.82 183.62 L312.88 183.51 L312.95 183.4 L313.02 183.28 L313.1 183.16 L313.18 183.02 L313.26 182.88 L313.35 182.73 L313.43 182.58 L313.53 182.41 L313.62 182.24 L313.72 182.06 L313.82 181.87 L313.93 181.67 L314.04 181.46 L314.15 181.24 L314.26 181.02 L314.38 180.78 L314.5 180.54 L314.63 180.28 L314.75 180.02 L314.88 179.74 L315.02 179.45 L315.15 179.16 L315.29 178.85 L315.43 178.53 L315.58 178.19 L315.73 177.85 L315.88 177.5 L316.03 177.14 L316.19 176.77 L316.35 176.39 L316.51 176.01 L316.67 175.62 L316.84 175.22 L317.01 174.82 L317.19 174.41 L317.36 174 L317.54 173.57 L317.72 173.14 L317.91 172.71 L318.1 172.26 L318.29 171.82 L318.48 171.36 L318.68 170.91 L318.87 170.44 L319.07 169.97 L319.28 169.49 L319.49 169.01 L319.69 168.53 L319.91 168.05 L320.12 167.58 L320.34 167.12 L320.56 166.65 L320.78 166.18 L321.01 165.7 L321.23 165.23 L321.46 164.76 L321.7 164.3 L321.93 163.85 L322.17 163.42 L322.41 163.01 L322.65 162.62 L322.9 162.24 L323.15 161.86 L323.4 161.49 L323.65 161.14 L323.91 160.81 L324.17 160.49 L324.43 160.19 L324.69 159.9 L324.96 159.61 L325.23 159.32 L325.5 159.05 L325.77 158.79 L326.05 158.55 L326.33 158.34 L326.61 158.16 L326.89 158 L327.18 157.86 L327.47 157.72 L327.76 157.58 L328.05 157.45 L328.35 157.33 L328.65 157.22 L328.95 157.12 L329.25 157.03 L329.56 156.95 L329.87 156.88 L330.18 156.83 L330.49 156.8 L330.81 156.79 L331.13 156.8 L331.45 156.83 L331.77 156.87 L332.09 156.93 L332.42 157.01 L332.75 157.1 L333.08 157.2 L333.42 157.3 L333.76 157.41 L334.1 157.55 L334.44 157.73 L334.78 157.94 L335.13 158.18 L335.48 158.44 L335.83 158.71 L336.18 159 L336.54 159.29 L336.9 159.57 L337.26 159.85 L337.62 160.14 L337.99 160.44 L338.35 160.76 L338.72 161.07 L339.1 161.4 L339.47 161.73 L339.85 162.06 L340.23 162.4 L340.61 162.74 L340.99 163.08 L341.38 163.43 L341.77 163.79 L342.16 164.15 L342.55 164.52 L342.95 164.89 L343.34 165.26 L343.74 165.63 L344.15 166 L344.55 166.37 L344.96 166.73 L345.37 167.09 L345.78 167.44 L346.19 167.78 L346.61 168.11 L347.03 168.42 L347.45 168.74 L347.87 169.04 L348.29 169.34 L348.72 169.63 L349.15 169.92 L349.58 170.19 L350.02 170.47 L350.45 170.73 L350.89 170.99 L351.33 171.24 L351.77 171.49 L352.22 171.73 L352.67 171.96 L353.11 172.18 L353.57 172.4 L354.02 172.62 L354.48 172.82 L354.93 173.02 L355.39 173.22 L355.86 173.4 L356.32 173.58 L356.79 173.74 L357.26 173.9 L357.73 174.05 L358.2 174.19 L358.68 174.32 L359.16 174.45 L359.64 174.57 L360.12 174.68 L360.6 174.78 L361.09 174.88 L361.58 174.97 L362.07 175.05 L362.56 175.12 L363.06 175.19 L363.55 175.25 L364.05 175.3 L364.56 175.35 L365.06 175.39 L365.57 175.43 L366.07 175.46 L366.58 175.49 L367.1 175.51 L367.61 175.52 L368.13 175.53 L368.65 175.54 L369.17 175.55 L369.69 175.55 L370.22 175.55 L370.74 175.54 L371.27 175.53 L371.8 175.51 L372.34 175.5 L372.87 175.49 L373.41 175.47 L373.95 175.45 L374.49 175.43 L375.04 175.41 L375.58 175.39 L376.13 175.37 L376.68 175.35 L377.24 175.32 L377.79 175.3 L378.35 175.28 L378.91 175.25 L379.47 175.23 L380.03 175.21 L380.6 175.19 L381.16 175.17 L381.73 175.15 L382.3 175.13 L382.88 175.12 L383.45 175.1 L384.03 175.09 L384.61 175.07 L385.19 175.06 L385.78 175.05 L386.36 175.04 L386.95 175.03 L387.54 175.02 L388.13 175.01 L388.73 175.01 L389.32 175 L389.92 175 L390.52 175 L391.13 175 L391.73 175 L392.34 175 L392.95 175 L393.56 175 L394.17 175 L394.78 175.01 L395.4 175.01 L396.02 175.02 L396.64 175.03 L397.26 175.03 L397.89 175.04 L398.52 175.05 L399.15 175.06 L399.78 175.07 L400.41 175.07 L401.05 175.09 L401.68 175.1 L402.32 175.11 L402.96 175.12 L403.61 175.13 L404.25 175.14 L404.9 175.15 L405.55 175.15 L406.2 175.15" fill="none" stroke="#555555" stroke-opacity="0.5" stroke-width="0.6"/>
<path d="M254.12 175.2 H312.32" fill="none" stroke="#555555" stroke-opacity="0.55" stroke-width="1.2"/>
<path d="M312.32 175.2 L312.32 136.8 L312.33 136.84 L312.34 136.93 L312.36 137.08 L312.38 137.27 L312.4 137.5 L312.43 137.77 L312.47 138.08 L312.5 138.43 L312.55 138.81 L312.59 139.23 L312.64 139.68 L312.7 140.17 L312.76 140.69 L312.82 141.24 L312.88 141.82 L312.95 142.43 L313.02 143.07 L313.1 143.75 L313.18 144.45 L313.26 145.18 L313.35 145.93 L313.43 146.72 L313.53 147.53 L313.62 148.37 L313.72 149.23 L313.82 150.12 L313.93 151.03 L314.04 151.97 L314.15 152.93 L314.26 153.92 L314.38 154.93 L314.5 155.96 L314.63 157.01 L314.75 158.09 L314.88 159.19 L315.02 160.32 L315.15 161.47 L315.29 162.64 L315.43 163.84 L315.58 165.05 L315.73 166.28 L315.88 167.52 L316.03 168.78 L316.19 170.04 L316.35 171.31 L316.51 172.58 L316.67 173.86 L316.84 175.13 L317.01 176.4 L317.19 177.67 L317.36 178.94 L317.54 180.22 L317.72 181.49 L317.91 182.76 L318.1 184.03 L318.29 185.3 L318.48 186.56 L318.68 187.82 L318.87 189.08 L319.07 190.34 L319.28 191.6 L319.49 192.85 L319.69 194.08 L319.91 195.28 L320.12 196.45 L320.34 197.58 L320.56 198.71 L320.78 199.84 L321.01 200.96 L321.23 202.06 L321.46 203.13 L321.7 204.16 L321.93 205.15 L322.17 206.08 L322.41 206.95 L322.65 207.77 L322.9 208.56 L323.15 209.32 L323.4 210.04 L323.65 210.73 L323.91 211.37 L324.17 211.96 L324.43 212.51 L324.69 213.03 L324.96 213.54 L325.23 214.04 L325.5 214.51 L325.77 214.95 L326.05 215.33 L326.33 215.66 L326.61 215.92 L326.89 216.11 L327.18 216.28 L327.47 216.45 L327.76 216.61 L328.05 216.75 L328.35 216.89 L328.65 217.01 L328.95 217.11 L329.25 217.19 L329.56 217.25 L329.87 217.29 L330.18 217.3 L330.49 217.27 L330.81 217.2 L331.13 217.09 L331.45 216.94 L331.77 216.76 L332.09 216.56 L332.42 216.33 L332.75 216.08 L333.08 215.82 L333.42 215.55 L333.76 215.27 L334.1 214.95 L334.44 214.54 L334.78 214.06 L335.13 213.53 L335.48 212.96 L335.83 212.36 L336.18 211.75 L336.54 211.14 L336.9 210.55 L337.26 209.96 L337.62 209.35 L337.99 208.73 L338.35 208.1 L338.72 207.45 L339.1 206.79 L339.47 206.12 L339.85 205.45 L340.23 204.77 L340.61 204.08 L340.99 203.4 L341.38 202.7 L341.77 201.98 L342.16 201.25 L342.55 200.51 L342.95 199.76 L343.34 199 L343.74 198.25 L344.15 197.49 L344.55 196.74 L344.96 195.99 L345.37 195.25 L345.78 194.53 L346.19 193.83 L346.61 193.14 L347.03 192.49 L347.45 191.84 L347.87 191.2 L348.29 190.56 L348.72 189.94 L349.15 189.33 L349.58 188.72 L350.02 188.12 L350.45 187.54 L350.89 186.96 L351.33 186.39 L351.77 185.83 L352.22 185.27 L352.67 184.73 L353.11 184.19 L353.57 183.66 L354.02 183.13 L354.48 182.61 L354.93 182.1 L355.39 181.59 L355.86 181.1 L356.32 180.61 L356.79 180.15 L357.26 179.69 L357.73 179.25 L358.2 178.83 L358.68 178.42 L359.16 178.02 L359.64 177.63 L360.12 177.25 L360.6 176.89 L361.09 176.53 L361.58 176.19 L362.07 175.87 L362.56 175.56 L363.06 175.26 L363.55 174.98 L364.05 174.71 L364.56 174.44 L365.06 174.19 L365.57 173.95 L366.07 173.73 L366.58 173.52 L367.1 173.34 L367.61 173.16 L368.13 172.99 L368.65 172.83 L369.17 172.68 L369.69 172.54 L370.22 172.43 L370.74 172.33 L371.27 172.25 L371.8 172.17 L372.34 172.1 L372.87 172.03 L373.41 171.97 L373.95 171.91 L374.49 171.87 L375.04 171.83 L375.58 171.81 L376.13 171.8 L376.68 171.81 L377.24 171.82 L377.79 171.85 L378.35 171.88 L378.91 171.92 L379.47 171.97 L380.03 172.02 L380.6 172.07 L381.16 172.13 L381.73 172.19 L382.3 172.24 L382.88 172.3 L383.45 172.35 L384.03 172.41 L384.61 172.47 L385.19 172.54 L385.78 172.61 L386.36 172.68 L386.95 172.75 L387.54 172.83 L388.13 172.91 L388.73 172.98 L389.32 173.06 L389.92 173.14 L390.52 173.22 L391.13 173.3 L391.73 173.38 L392.34 173.45 L392.95 173.53 L393.56 173.61 L394.17 173.69 L394.78 173.77 L395.4 173.85 L396.02 173.93 L396.64 174.01 L397.26 174.09 L397.89 174.17 L398.52 174.24 L399.15 174.32 L399.78 174.38 L400.41 174.45 L401.05 174.53 L401.68 174.6 L402.32 174.68 L402.96 174.75 L403.61 174.81 L404.25 174.87 L404.9 174.91 L405.55 174.94 L406.2 174.95" fill="none" stroke="#555555" stroke-width="1.5" stroke-linejoin="miter"/>
<path d="M254.12 175.2 H274.02" stroke="#8a6450" stroke-width="1.0" fill="none"/>
<path d="M275.52 175.2 H292.8" stroke="#6a3a7a" stroke-width="1.0" fill="none"/>
<path d="M254.12 136.8 L256 136.8 L256.5 136.81 L257 136.83 L257.51 136.87 L258.01 136.93 L258.51 137 L259.01 137.09 L259.52 137.19 L260.02 137.31 L260.52 137.45 L261.02 137.59 L261.53 137.76 L262.03 137.93 L262.53 138.13 L263.03 138.33 L263.54 138.55 L264.04 138.78 L264.54 139.03 L265.04 139.28 L265.54 139.56 L266.05 139.84 L266.55 140.13 L267.05 140.44 L267.55 140.76 L268.06 141.09 L268.56 141.43 L269.06 141.79 L269.56 142.15 L270.07 142.52 L270.57 142.91 L271.07 143.3 L271.57 143.7 L272.07 144.12 L272.58 144.54 L273.08 144.97 L273.58 145.41 L274.08 145.85 L274.59 146.31 L275.09 146.77 L275.59 147.24 L276.09 147.72 L276.6 148.2 L277.1 148.69 L277.6 149.19 L278.1 149.69 L278.61 150.2 L279.11 150.71 L279.61 151.23 L280.11 151.76 L280.61 152.29 L281.12 152.82 L281.62 153.35 L282.12 153.9 L282.62 154.44 L283.13 154.99 L283.63 155.54 L284.13 156.09 L284.63 156.65 L285.14 157.2 L285.64 157.76 L286.14 158.33 L286.64 158.89 L287.15 159.45 L287.65 160.02 L288.15 160.58 L288.65 161.15 L289.15 161.72 L289.66 162.28 L290.16 162.85 L290.66 163.41 L291.16 163.98 L291.67 164.54 L292.17 165.1 L292.67 165.66 L293.17 166.22 L293.68 166.78 L294.18 167.33 L294.68 167.89 L295.18 168.44 L295.68 168.98 L296.19 169.53 L296.69 170.07 L297.19 170.61 L297.69 171.14 L298.2 171.67 L298.7 172.2 L299.2 172.72 L299.7 173.24 L300.21 173.75 L300.71 174.26 L301.21 174.76 L301.71 175.26 L302.22 175.76 L302.72 176.24 L303.22 176.73 L303.72 177.2 L304.22 177.67 L304.73 178.14 L305.23 178.6 L305.73 179.05 L306.23 179.5 L306.74 179.94 L307.24 180.37 L307.74 180.8 L308.24 181.22 L308.75 181.64 L309.25 182.04 L309.75 182.44 L310.25 182.83 L310.76 183.22 L311.26 183.6 L311.76 183.97 L312.26 184.33 L312.76 184.68 L313.27 185.03 L313.77 185.37 L314.27 185.7 L314.77 186.02 L315.28 186.34 L315.78 186.65 L316.28 186.95 L316.78 187.24 L317.29 187.52 L317.79 187.8 L318.29 188.06 L318.79 188.32 L319.29 188.57 L319.8 188.81 L320.3 189.05 L320.8 189.27 L321.3 189.49 L321.81 189.7 L322.31 189.9 L322.81 190.09 L323.31 190.27 L323.82 190.45 L324.32 190.62 L324.82 190.78 L325.32 190.93 L325.83 191.07 L326.33 191.2 L326.83 191.33 L327.33 191.45 L327.83 191.55 L328.34 191.66 L328.84 191.75 L329.34 191.83 L329.84 191.91 L330.35 191.98 L330.85 192.04 L331.35 192.09 L331.85 192.14 L332.36 192.18 L332.86 192.21 L333.36 192.23 L333.86 192.25 L334.37 192.25 L334.87 192.25 L335.37 192.25 L335.87 192.23 L336.37 192.21 L336.88 192.18 L337.38 192.15 L337.88 192.11 L338.38 192.06 L338.89 192 L339.39 191.94 L339.89 191.87 L340.39 191.8 L340.9 191.71 L341.4 191.63 L341.9 191.53 L342.4 191.43 L342.91 191.33 L343.41 191.22 L343.91 191.1 L344.41 190.98 L344.91 190.85 L345.42 190.71 L345.92 190.58 L346.42 190.43 L346.92 190.28 L347.43 190.13 L347.93 189.97 L348.43 189.81 L348.93 189.64 L349.44 189.47 L349.94 189.29 L350.44 189.11 L350.94 188.92 L351.44 188.73 L351.95 188.54 L352.45 188.35 L352.95 188.15 L353.45 187.94 L353.96 187.73 L354.46 187.52 L354.96 187.31 L355.46 187.1 L355.97 186.88 L356.47 186.65 L356.97 186.43 L357.47 186.2 L357.98 185.97 L358.48 185.74 L358.98 185.51 L359.48 185.27 L359.98 185.04 L360.49 184.8 L360.99 184.56 L361.49 184.31 L361.99 184.07 L362.5 183.82 L363 183.58 L363.5 183.33 L364 183.08 L364.51 182.83 L365.01 182.58 L365.51 182.33 L366.01 182.08 L366.52 181.83 L367.02 181.58 L367.52 181.33 L368.02 181.08 L368.52 180.83 L369.03 180.58 L369.53 180.32 L370.03 180.07 L370.53 179.82 L371.04 179.57 L371.54 179.33 L372.04 179.08 L372.54 178.83 L373.05 178.58 L373.55 178.34 L374.05 178.1 L374.55 177.85 L375.05 177.61 L375.56 177.37 L376.06 177.13 L376.56 176.9 L377.06 176.66 L377.57 176.43 L378.07 176.2 L378.57 175.97 L379.07 175.74 L379.58 175.52 L380.08 175.3 L380.58 175.08 L381.08 174.86 L381.59 174.64 L382.09 174.43 L382.59 174.22 L383.09 174.01 L383.59 173.8 L384.1 173.6 L384.6 173.4 L385.1 173.2 L385.6 173.01 L386.11 172.82 L386.61 172.63 L387.11 172.44 L387.61 172.26 L388.12 172.08 L388.62 171.91 L389.12 171.73 L389.62 171.56 L390.13 171.4 L390.63 171.23 L391.13 171.08 L391.63 170.92 L392.13 170.77 L392.64 170.62 L393.14 170.47 L393.64 170.33 L394.14 170.19 L394.65 170.06 L395.15 169.92 L395.65 169.8 L396.15 169.67 L396.66 169.55 L397.16 169.44 L397.66 169.32 L398.16 169.21 L398.66 169.11 L399.17 169 L399.67 168.91 L400.17 168.81 L400.67 168.72 L401.18 168.63 L401.68 168.55 L402.18 168.47 L402.68 168.39 L403.19 168.32 L403.69 168.25 L404.19 168.19 L404.69 168.13 L405.2 168.07 L405.7 168.01 L406.2 167.96" fill="none" stroke="#000" stroke-width="1.4"/>
</g>
<rect x="248.7" y="130" width="164.6" height="90.3" fill="none" stroke="#3a3a3a" stroke-width="1.1"/>
<path d="M256 130 v1.2 M256 220.3 v-1.2 M263.51 130 v1.2 M263.51 220.3 v-1.2 M271.02 130 v1.2 M271.02 220.3 v-1.2 M278.53 130 v1.2 M278.53 220.3 v-1.2 M286.04 130 v1.2 M286.04 220.3 v-1.2 M293.55 130 v1.2 M293.55 220.3 v-1.2 M301.06 130 v1.2 M301.06 220.3 v-1.2 M308.57 130 v1.2 M308.57 220.3 v-1.2 M316.08 130 v1.2 M316.08 220.3 v-1.2 M323.59 130 v1.2 M323.59 220.3 v-1.2 M331.1 130 v1.2 M331.1 220.3 v-1.2 M338.61 130 v1.2 M338.61 220.3 v-1.2 M346.12 130 v1.2 M346.12 220.3 v-1.2 M353.63 130 v1.2 M353.63 220.3 v-1.2 M361.14 130 v1.2 M361.14 220.3 v-1.2 M368.65 130 v1.2 M368.65 220.3 v-1.2 M376.16 130 v1.2 M376.16 220.3 v-1.2 M383.67 130 v1.2 M383.67 220.3 v-1.2 M391.18 130 v1.2 M391.18 220.3 v-1.2 M398.69 130 v1.2 M398.69 220.3 v-1.2 M406.2 130 v1.2 M406.2 220.3 v-1.2 " stroke="#111" stroke-width="0.7" fill="none"/>
<path d="M256 130 v2 M256 220.3 v-2 M286.04 130 v2 M286.04 220.3 v-2 M316.08 130 v2 M316.08 220.3 v-2 M346.12 130 v2 M346.12 220.3 v-2 M376.16 130 v2 M376.16 220.3 v-2 M406.2 130 v2 M406.2 220.3 v-2 " stroke="#111" stroke-width="0.8" fill="none"/>
<path d="M248.7 217.44 h1.2 M413.3 217.44 h-1.2 M248.7 213.6 h1.2 M413.3 213.6 h-1.2 M248.7 209.76 h1.2 M413.3 209.76 h-1.2 M248.7 205.92 h1.2 M413.3 205.92 h-1.2 M248.7 202.08 h1.2 M413.3 202.08 h-1.2 M248.7 198.24 h1.2 M413.3 198.24 h-1.2 M248.7 194.4 h1.2 M413.3 194.4 h-1.2 M248.7 190.56 h1.2 M413.3 190.56 h-1.2 M248.7 186.72 h1.2 M413.3 186.72 h-1.2 M248.7 182.88 h1.2 M413.3 182.88 h-1.2 M248.7 179.04 h1.2 M413.3 179.04 h-1.2 M248.7 175.2 h1.2 M413.3 175.2 h-1.2 M248.7 171.36 h1.2 M413.3 171.36 h-1.2 M248.7 167.52 h1.2 M413.3 167.52 h-1.2 M248.7 163.68 h1.2 M413.3 163.68 h-1.2 M248.7 159.84 h1.2 M413.3 159.84 h-1.2 M248.7 156 h1.2 M413.3 156 h-1.2 M248.7 152.16 h1.2 M413.3 152.16 h-1.2 M248.7 148.32 h1.2 M413.3 148.32 h-1.2 M248.7 144.48 h1.2 M413.3 144.48 h-1.2 M248.7 140.64 h1.2 M413.3 140.64 h-1.2 M248.7 136.8 h1.2 M413.3 136.8 h-1.2 M248.7 132.96 h1.2 M413.3 132.96 h-1.2 " stroke="#111" stroke-width="0.7" fill="none"/>
<path d="M248.7 213.6 h2 M413.3 213.6 h-2 M248.7 194.4 h2 M413.3 194.4 h-2 M248.7 175.2 h2 M413.3 175.2 h-2 M248.7 156 h2 M413.3 156 h-2 M248.7 136.8 h2 M413.3 136.8 h-2 " stroke="#111" stroke-width="0.8" fill="none"/>
<text transform="translate(246.1 140.3) scale(1.03 1)" font-size="9.9" text-anchor="end" fill="#1a1a1a">1.0</text>
<text transform="translate(246.1 159.5) scale(1.03 1)" font-size="9.9" text-anchor="end" fill="#1a1a1a">0.5</text>
<text transform="translate(246.1 178.7) scale(1.03 1)" font-size="9.9" text-anchor="end" fill="#1a1a1a">0.0</text>
<text transform="translate(246.1 197.9) scale(1.03 1)" font-size="9.9" text-anchor="end" fill="#1a1a1a">−0.5</text>
<text transform="translate(246.1 217.1) scale(1.03 1)" font-size="9.9" text-anchor="end" fill="#1a1a1a">−1.0</text>
<text transform="translate(256 231.8) scale(1.06 1)" font-size="9.9" text-anchor="middle" fill="#1a1a1a">0.0</text>
<text transform="translate(286.04 231.8) scale(1.06 1)" font-size="9.9" text-anchor="middle" fill="#1a1a1a">0.2</text>
<text transform="translate(316.08 231.8) scale(1.06 1)" font-size="9.9" text-anchor="middle" fill="#1a1a1a">0.4</text>
<text transform="translate(346.12 231.8) scale(1.06 1)" font-size="9.9" text-anchor="middle" fill="#1a1a1a">0.6</text>
<text transform="translate(376.16 231.8) scale(1.06 1)" font-size="9.9" text-anchor="middle" fill="#1a1a1a">0.8</text>
<text transform="translate(406.2 231.8) scale(1.06 1)" font-size="9.9" text-anchor="middle" fill="#1a1a1a">1.0</text>
<text x="331" y="250" font-size="10.5" text-anchor="middle" fill="#1a1a1a" font-style="italic" letter-spacing="0.4">t/T</text>
<text transform="translate(214.8 176.3) rotate(-90)" font-size="10.3" letter-spacing="0.25" text-anchor="middle" fill="#1a1a1a" font-style="italic">r<tspan font-size="7" dy="1.5">s</tspan><tspan dy="-1.5">(t), k</tspan><tspan font-size="8" dy="4">*</tspan><tspan dy="-4">(t−τ), r</tspan><tspan font-size="7" dy="1.5">s</tspan><tspan dy="-1.5">k</tspan><tspan font-size="8" dy="4">*</tspan></text>
<text x="397" y="150.4" font-size="19.6" text-anchor="middle" fill="#1a1a1a"  >D</text>
</svg>
</body></html>
